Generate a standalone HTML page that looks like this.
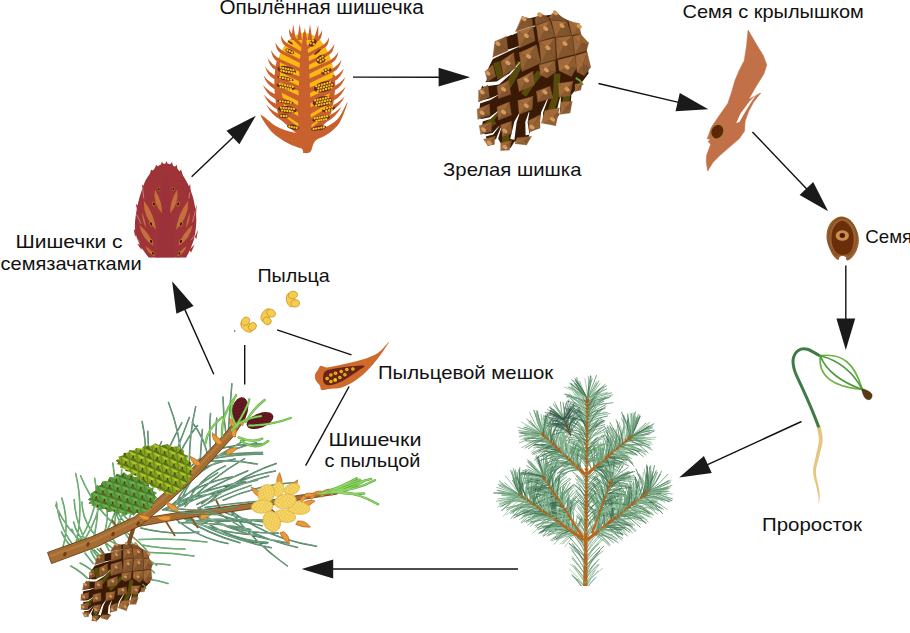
<!DOCTYPE html>
<html><head><meta charset="utf-8"><title>Pine life cycle</title>
<style>
html,body{margin:0;padding:0;background:#fff;}
body{width:910px;height:633px;overflow:hidden;font-family:"Liberation Sans",sans-serif;}
svg{display:block}
text{font-family:"Liberation Sans",sans-serif;fill:#111;}
</style></head><body>
<svg width="910" height="633" viewBox="0 0 910 633">
<rect width="910" height="633" fill="#fff"/>
<g><path d="M165.9,163.7 C168.8,163.7 171.5,164.2 174.6,166.5 C177.6,168.7 181.3,172.9 184.1,177.3 C186.9,181.6 189.6,187.4 191.4,192.4 C193.3,197.4 194.3,202.4 195.1,207.2 C195.9,212.0 196.4,216.2 196.3,221.1 C196.2,226.0 195.6,232.1 194.6,236.7 C193.6,241.4 191.8,245.6 190.4,248.9 C189.0,252.2 187.6,255.1 186.2,256.6 C184.9,258.0 185.5,257.4 182.4,257.6 C179.3,257.8 172.5,257.6 167.6,257.6 C162.7,257.6 155.9,257.7 152.8,257.6 C149.7,257.5 150.7,258.4 149.0,256.9 C147.3,255.5 144.5,252.3 142.4,248.9 C140.3,245.6 137.7,240.8 136.5,236.7 C135.2,232.7 134.8,229.5 134.9,224.6 C135.0,219.6 136.0,213.0 137.2,207.2 C138.3,201.4 140.2,194.7 141.9,189.8 C143.6,184.9 144.7,181.5 147.3,177.6 C149.8,173.7 154.1,168.8 157.2,166.5 C160.3,164.2 163.0,163.7 165.9,163.7Z" fill="#9E3438"/><path d="M159.8,168.0 L161.9,161.6 L165.0,166.5Z" fill="#9E3438"/><path d="M164.0,166.5 L166.4,161.3 L169.2,166.5Z" fill="#9E3438"/><path d="M168.1,166.8 L172.0,162.0 L173.7,168.6Z" fill="#9E3438"/><path d="M172.8,168.9 L176.8,164.7 L178.0,172.4Z" fill="#9E3438"/><path d="M152.8,172.4 L156.3,164.7 L159.8,168.9Z" fill="#9E3438"/><path d="M149.3,175.9 L151.1,169.8 L154.6,171.5Z" fill="#9E3438"/><path d="M178.9,172.4 L181.0,169.6 L183.3,176.7Z" fill="#9E3438"/><path d="M142.4,191.5 L142.0,184.6 L145.5,188.0Z" fill="#9E3438"/><path d="M137.5,212.4 L135.8,203.7 L139.8,207.2Z" fill="#9E3438"/><path d="M135.1,236.7 L133.7,228.9 L137.2,232.4Z" fill="#9E3438"/><path d="M141.5,249.8 L137.2,243.7 L142.4,245.4Z" fill="#9E3438"/><path d="M148.5,257.6 L145.5,252.4 L151.1,255.0Z" fill="#9E3438"/><path d="M187.6,189.8 L190.2,183.7 L190.7,192.4Z" fill="#9E3438"/><path d="M194.2,212.4 L196.7,204.6 L196.0,215.0Z" fill="#9E3438"/><path d="M194.9,236.7 L198.0,229.8 L196.3,239.3Z" fill="#9E3438"/><path d="M189.3,249.8 L194.6,244.6 L191.1,252.4Z" fill="#9E3438"/><path d="M184.1,257.3 L188.0,252.4 L186.2,257.6Z" fill="#9E3438"/><path d="M165.9,170.7 Q170.6,189.8 171.6,224.6 L174.6,257.4 L157.2,257.4 L159.8,224.6 Q160.7,189.8 165.9,170.7Z" fill="#99313a" opacity="0.6"/><path d="M154.9,189.4 Q152.6,202.0 161.9,213.3 Q162.6,202.1 154.9,189.4Z" fill="#C4703E"/><path d="M143.8,200.6 Q143.2,217.1 156.0,230.1 Q154.8,215.3 143.8,200.6Z" fill="#C4703E"/><path d="M139.6,224.9 Q141.2,238.0 153.7,245.8 Q150.7,234.6 139.6,224.9Z" fill="#C4703E"/><path d="M145.5,246.1 Q147.1,253.0 154.9,256.2 Q152.5,251.1 145.5,246.1Z" fill="#C4703E"/><path d="M142.4,212.4 Q141.8,219.7 145.9,228.0 Q145.8,221.8 142.4,212.4Z" fill="#C4703E"/><ellipse cx="158.9" cy="188.9" rx="1.22" ry="1.74" fill="#D08A22" transform="rotate(-20 158.9 188.9)"/><ellipse cx="158.9" cy="188.9" rx="0.75" ry="1.22" fill="#2c0d05" transform="rotate(-20 158.9 188.9)"/><ellipse cx="153.9" cy="204.0" rx="1.57" ry="2.43" fill="#D08A22" transform="rotate(-20 153.9 204.0)"/><ellipse cx="153.9" cy="204.0" rx="0.97" ry="1.70" fill="#2c0d05" transform="rotate(-20 153.9 204.0)"/><ellipse cx="151.1" cy="224.0" rx="1.57" ry="2.61" fill="#D08A22" transform="rotate(-20 151.1 224.0)"/><ellipse cx="151.1" cy="224.0" rx="0.97" ry="1.83" fill="#2c0d05" transform="rotate(-20 151.1 224.0)"/><ellipse cx="151.1" cy="241.3" rx="1.57" ry="2.43" fill="#D08A22" transform="rotate(-20 151.1 241.3)"/><ellipse cx="151.1" cy="241.3" rx="0.97" ry="1.70" fill="#2c0d05" transform="rotate(-20 151.1 241.3)"/><ellipse cx="152.8" cy="253.4" rx="1.39" ry="1.91" fill="#D08A22" transform="rotate(-20 152.8 253.4)"/><ellipse cx="152.8" cy="253.4" rx="0.86" ry="1.34" fill="#2c0d05" transform="rotate(-20 152.8 253.4)"/><path d="M177.2,189.4 Q179.5,202.0 170.2,213.3 Q169.5,202.1 177.2,189.4Z" fill="#C4703E"/><path d="M188.3,200.6 Q188.9,217.1 176.1,230.1 Q177.3,215.3 188.3,200.6Z" fill="#C4703E"/><path d="M192.5,224.9 Q190.9,238.0 178.4,245.8 Q181.4,234.6 192.5,224.9Z" fill="#C4703E"/><path d="M186.6,246.1 Q184.9,253.0 177.2,256.2 Q179.6,251.1 186.6,246.1Z" fill="#C4703E"/><path d="M189.7,212.4 Q190.3,219.7 186.2,228.0 Q186.2,221.8 189.7,212.4Z" fill="#C4703E"/><ellipse cx="173.2" cy="188.9" rx="1.22" ry="1.74" fill="#D08A22" transform="rotate(20 173.2 188.9)"/><ellipse cx="173.2" cy="188.9" rx="0.75" ry="1.22" fill="#2c0d05" transform="rotate(20 173.2 188.9)"/><ellipse cx="178.2" cy="204.0" rx="1.57" ry="2.43" fill="#D08A22" transform="rotate(20 178.2 204.0)"/><ellipse cx="178.2" cy="204.0" rx="0.97" ry="1.70" fill="#2c0d05" transform="rotate(20 178.2 204.0)"/><ellipse cx="181.0" cy="224.0" rx="1.57" ry="2.61" fill="#D08A22" transform="rotate(20 181.0 224.0)"/><ellipse cx="181.0" cy="224.0" rx="0.97" ry="1.83" fill="#2c0d05" transform="rotate(20 181.0 224.0)"/><ellipse cx="181.0" cy="241.3" rx="1.57" ry="2.43" fill="#D08A22" transform="rotate(20 181.0 241.3)"/><ellipse cx="181.0" cy="241.3" rx="0.97" ry="1.70" fill="#2c0d05" transform="rotate(20 181.0 241.3)"/><ellipse cx="179.3" cy="253.4" rx="1.39" ry="1.91" fill="#D08A22" transform="rotate(20 179.3 253.4)"/><ellipse cx="179.3" cy="253.4" rx="0.86" ry="1.34" fill="#2c0d05" transform="rotate(20 179.3 253.4)"/><line x1="142.4" y1="186.3" x2="143.8" y2="198.5" stroke="#e9c9c6" stroke-width="0.5"/><line x1="136.5" y1="214.1" x2="141.0" y2="223.7" stroke="#e9c9c6" stroke-width="0.5"/><line x1="135.4" y1="236.7" x2="139.8" y2="242.0" stroke="#e9c9c6" stroke-width="0.5"/><line x1="189.7" y1="192.4" x2="189.0" y2="198.5" stroke="#e9c9c6" stroke-width="0.5"/><line x1="195.4" y1="210.7" x2="192.5" y2="222.0" stroke="#e9c9c6" stroke-width="0.5"/><line x1="196.3" y1="233.3" x2="191.1" y2="240.2" stroke="#e9c9c6" stroke-width="0.5"/></g>
<g><ellipse cx="304.5" cy="83" rx="30" ry="50" fill="#FDB913"/><path d="M301.8,48.0 L291.9,38.4 Q288.8,36.4 289.0,28.4 Q290.8,33.9 294.7,36.7 L301.8,44.0Z" fill="#C8612D"/><path d="M301.8,55.8 L284.8,45.4 Q281.2,43.4 280.9,35.1 Q283.2,40.9 287.6,43.7 L301.8,51.8Z" fill="#C8612D"/><path d="M301.8,64.0 L280.3,52.9 Q276.2,50.8 275.3,42.3 Q278.2,48.3 283.1,51.1 L301.8,60.0Z" fill="#C8612D"/><path d="M301.8,72.8 L277.1,61.0 Q272.4,58.7 270.9,49.9 Q274.4,56.2 279.9,59.0 L301.8,68.7Z" fill="#C8612D"/><path d="M301.8,82.4 L275.0,69.6 Q269.6,67.0 267.6,58.0 Q271.6,64.5 277.8,67.3 L301.8,77.6Z" fill="#C8612D"/><path d="M301.8,92.5 L273.8,78.8 Q267.8,75.8 265.0,66.4 Q269.8,73.3 276.6,76.1 L301.8,87.0Z" fill="#C8612D"/><path d="M301.8,103.1 L273.5,88.4 Q266.8,85.0 263.4,75.3 Q268.8,82.5 276.3,85.3 L301.8,96.9Z" fill="#C8612D"/><path d="M301.8,114.2 L274.4,98.5 Q267.0,94.7 262.8,84.7 Q269.0,92.2 277.2,95.0 L301.8,107.3Z" fill="#C8612D"/><path d="M301.8,125.8 L276.6,109.0 Q268.5,104.8 263.6,94.5 Q270.5,102.3 279.4,105.1 L301.8,118.2Z" fill="#C8612D"/><path d="M301.8,138.0 L280.9,120.1 Q271.9,115.4 266.2,104.7 Q273.9,112.9 283.7,115.7 L301.8,129.5Z" fill="#C8612D"/><path d="M306.8,50.0 L319.0,40.2 Q322.2,38.2 322.1,30.1 Q320.2,35.7 316.2,38.5 L306.8,46.0Z" fill="#C8612D"/><path d="M306.8,57.8 L325.1,47.3 Q328.8,45.2 329.2,36.9 Q326.8,42.7 322.3,45.5 L306.8,53.8Z" fill="#C8612D"/><path d="M306.8,66.0 L329.1,54.8 Q333.4,52.6 334.4,44.0 Q331.4,50.1 326.3,52.9 L306.8,62.0Z" fill="#C8612D"/><path d="M306.8,74.9 L332.0,62.8 Q336.9,60.5 338.5,51.6 Q334.9,58.0 329.2,60.8 L306.8,70.6Z" fill="#C8612D"/><path d="M306.8,84.5 L334.0,71.5 Q339.4,68.8 341.6,59.7 Q337.4,66.3 331.2,69.1 L306.8,79.5Z" fill="#C8612D"/><path d="M306.8,94.6 L335.0,80.7 Q341.1,77.6 344.0,68.2 Q339.1,75.1 332.2,77.9 L306.8,88.9Z" fill="#C8612D"/><path d="M306.8,105.2 L335.0,90.3 Q341.8,86.8 345.4,77.1 Q339.8,84.3 332.2,87.1 L306.8,98.8Z" fill="#C8612D"/><path d="M306.8,116.3 L333.9,100.4 Q341.5,96.5 345.8,86.4 Q339.5,94.0 331.1,96.8 L306.8,109.2Z" fill="#C8612D"/><path d="M306.8,127.9 L331.4,110.9 Q339.7,106.6 344.8,96.2 Q337.7,104.1 328.6,106.9 L306.8,120.1Z" fill="#C8612D"/><path d="M306.8,140.1 L326.7,121.9 Q335.8,117.2 341.7,106.5 Q333.8,114.7 323.9,117.5 L306.8,131.4Z" fill="#C8612D"/><path d="M291.2,40 L293.2,24.2 L295.8,40Z" fill="#C8612D"/><path d="M297.2,40 L299.8,23.8 L301.8,40Z" fill="#C8612D"/><path d="M302.7,40 L304.8,28.0 L307.3,40Z" fill="#C8612D"/><path d="M307.7,40 L310.0,24.2 L312.3,40Z" fill="#C8612D"/><path d="M313.7,40 L318.3,25.0 L318.3,40Z" fill="#C8612D"/><path d="M303.5,32 L300.1,58 L298.1,105 L298.3,125 Q298.8,140 302.1,148 Q302.8,153.5 306.8,153.3 Q309.8,152.5 310.8,149 Q311.3,142 313.3,138 L310.8,122 L310.5,105 L308.8,58 L305.1,32Z" fill="#C8612D"/><path d="M277.3,58 Q270.8,85 278.9,118 L287.9,122 Q279.1,92 279.8,58Z" fill="#C8612D"/><path d="M334.9,75 Q336.4,95 330.8,114 L321.7,122 Q329.9,98 332.9,75Z" fill="#C8612D"/><path d="M260.7,114.8 C259.9,115.7 266.8,126.6 271.3,131.4 C275.9,136.1 282.7,140.3 287.9,143.2 C293.1,146.2 300.0,147.6 302.6,149.1 C305.2,150.7 302.0,152.3 303.3,152.7 C304.6,153.1 308.5,153.7 310.4,151.8 C312.4,149.8 312.2,143.9 315.2,140.9 C318.1,137.9 324.1,136.9 328.2,133.7 C332.3,130.6 336.8,127.2 340.0,121.9 C343.3,116.6 348.0,102.2 347.6,101.8 C347.2,101.3 342.1,114.4 337.7,119.1 C333.3,123.7 326.4,127.1 321.1,129.5 C315.8,131.8 310.4,132.8 305.7,133.3 C300.9,133.7 297.6,133.5 292.7,132.3 C287.7,131.1 281.4,129.1 276.1,126.2 C270.7,123.2 261.5,113.9 260.7,114.8Z" fill="#C8612D"/><g transform="translate(286.7 70.2) rotate(12)"><ellipse rx="9.5" ry="4.0" fill="#6B2A1F"/><circle cx="-6.5" cy="-1.4" r="1.15" fill="#F6C81A"/><circle cx="-3.9" cy="-1.4" r="1.15" fill="#F6C81A"/><circle cx="-1.3" cy="-1.4" r="1.15" fill="#F6C81A"/><circle cx="1.3" cy="-1.4" r="1.15" fill="#F6C81A"/><circle cx="3.9" cy="-1.4" r="1.15" fill="#F6C81A"/><circle cx="6.5" cy="-1.4" r="1.15" fill="#F6C81A"/><circle cx="-5.2" cy="1.4" r="1.15" fill="#F6C81A"/><circle cx="-2.6" cy="1.4" r="1.15" fill="#F6C81A"/><circle cx="0.0" cy="1.4" r="1.15" fill="#F6C81A"/><circle cx="2.6" cy="1.4" r="1.15" fill="#F6C81A"/><circle cx="5.2" cy="1.4" r="1.15" fill="#F6C81A"/><circle cx="7.8" cy="1.4" r="1.15" fill="#F6C81A"/></g><g transform="translate(285.5 78.5) rotate(12)"><ellipse rx="8.5" ry="1.7" fill="#6B2A1F"/><circle cx="-5.6" cy="0.0" r="1.15" fill="#F6C81A"/><circle cx="-2.8" cy="0.0" r="1.15" fill="#F6C81A"/><circle cx="0.0" cy="0.0" r="1.15" fill="#F6C81A"/><circle cx="2.8" cy="0.0" r="1.15" fill="#F6C81A"/><circle cx="5.6" cy="0.0" r="1.15" fill="#F6C81A"/></g><g transform="translate(286.0 86.8) rotate(12)"><ellipse rx="9.7" ry="2.6" fill="#6B2A1F"/><circle cx="-6.6" cy="-1.4" r="1.15" fill="#F6C81A"/><circle cx="-4.0" cy="-1.4" r="1.15" fill="#F6C81A"/><circle cx="-1.3" cy="-1.4" r="1.15" fill="#F6C81A"/><circle cx="1.3" cy="-1.4" r="1.15" fill="#F6C81A"/><circle cx="4.0" cy="-1.4" r="1.15" fill="#F6C81A"/><circle cx="6.6" cy="-1.4" r="1.15" fill="#F6C81A"/><circle cx="-5.3" cy="1.4" r="1.15" fill="#F6C81A"/><circle cx="-2.7" cy="1.4" r="1.15" fill="#F6C81A"/><circle cx="0.0" cy="1.4" r="1.15" fill="#F6C81A"/><circle cx="2.7" cy="1.4" r="1.15" fill="#F6C81A"/><circle cx="5.3" cy="1.4" r="1.15" fill="#F6C81A"/></g><g transform="translate(285.5 101.8) rotate(8)"><ellipse rx="8.3" ry="1.7" fill="#6B2A1F"/><circle cx="-5.4" cy="0.0" r="1.15" fill="#F6C81A"/><circle cx="-2.7" cy="0.0" r="1.15" fill="#F6C81A"/><circle cx="0.0" cy="0.0" r="1.15" fill="#F6C81A"/><circle cx="2.7" cy="0.0" r="1.15" fill="#F6C81A"/><circle cx="5.4" cy="0.0" r="1.15" fill="#F6C81A"/></g><g transform="translate(287.4 109.6) rotate(6)"><ellipse rx="9.5" ry="3.6" fill="#6B2A1F"/><circle cx="-6.5" cy="-1.4" r="1.15" fill="#F6C81A"/><circle cx="-3.9" cy="-1.4" r="1.15" fill="#F6C81A"/><circle cx="-1.3" cy="-1.4" r="1.15" fill="#F6C81A"/><circle cx="1.3" cy="-1.4" r="1.15" fill="#F6C81A"/><circle cx="3.9" cy="-1.4" r="1.15" fill="#F6C81A"/><circle cx="6.5" cy="-1.4" r="1.15" fill="#F6C81A"/><circle cx="-5.2" cy="1.4" r="1.15" fill="#F6C81A"/><circle cx="-2.6" cy="1.4" r="1.15" fill="#F6C81A"/><circle cx="0.0" cy="1.4" r="1.15" fill="#F6C81A"/><circle cx="2.6" cy="1.4" r="1.15" fill="#F6C81A"/><circle cx="5.2" cy="1.4" r="1.15" fill="#F6C81A"/></g><g transform="translate(283.9 116.0) rotate(5)"><ellipse rx="4.7" ry="2.1" fill="#6B2A1F"/><circle cx="-2.6" cy="0.0" r="1.15" fill="#F6C81A"/><circle cx="0.0" cy="0.0" r="1.15" fill="#F6C81A"/><circle cx="2.6" cy="0.0" r="1.15" fill="#F6C81A"/></g><g transform="translate(293.1 127.1) rotate(10)"><ellipse rx="6.2" ry="2.4" fill="#6B2A1F"/><circle cx="-3.8" cy="0.0" r="1.15" fill="#F6C81A"/><circle cx="-1.3" cy="0.0" r="1.15" fill="#F6C81A"/><circle cx="1.3" cy="0.0" r="1.15" fill="#F6C81A"/><circle cx="3.8" cy="0.0" r="1.15" fill="#F6C81A"/></g><g transform="translate(289.8 51.3) rotate(25)"><ellipse rx="4.7" ry="2.1" fill="#6B2A1F"/><circle cx="-2.6" cy="0.0" r="1.15" fill="#F6C81A"/><circle cx="0.0" cy="0.0" r="1.15" fill="#F6C81A"/><circle cx="2.6" cy="0.0" r="1.15" fill="#F6C81A"/></g><g transform="translate(290.3 42.5) rotate(35)"><ellipse rx="3.1" ry="0.9" fill="#6B2A1F"/></g><g transform="translate(323.9 86.8) rotate(-15)"><ellipse rx="10.4" ry="5.2" fill="#6B2A1F"/><circle cx="-7.1" cy="-2.7" r="1.15" fill="#F6C81A"/><circle cx="-4.3" cy="-2.7" r="1.15" fill="#F6C81A"/><circle cx="-1.4" cy="-2.7" r="1.15" fill="#F6C81A"/><circle cx="1.4" cy="-2.7" r="1.15" fill="#F6C81A"/><circle cx="4.3" cy="-2.7" r="1.15" fill="#F6C81A"/><circle cx="7.1" cy="-2.7" r="1.15" fill="#F6C81A"/><circle cx="-5.7" cy="0.0" r="1.15" fill="#F6C81A"/><circle cx="-2.8" cy="0.0" r="1.15" fill="#F6C81A"/><circle cx="0.0" cy="0.0" r="1.15" fill="#F6C81A"/><circle cx="2.8" cy="0.0" r="1.15" fill="#F6C81A"/><circle cx="5.7" cy="0.0" r="1.15" fill="#F6C81A"/><circle cx="8.5" cy="0.0" r="1.15" fill="#F6C81A"/><circle cx="-7.1" cy="2.7" r="1.15" fill="#F6C81A"/><circle cx="-4.3" cy="2.7" r="1.15" fill="#F6C81A"/><circle cx="-1.4" cy="2.7" r="1.15" fill="#F6C81A"/><circle cx="1.4" cy="2.7" r="1.15" fill="#F6C81A"/><circle cx="4.3" cy="2.7" r="1.15" fill="#F6C81A"/><circle cx="7.1" cy="2.7" r="1.15" fill="#F6C81A"/></g><g transform="translate(322.3 101.5) rotate(-12)"><ellipse rx="10.0" ry="5.2" fill="#6B2A1F"/><circle cx="-6.8" cy="-2.7" r="1.15" fill="#F6C81A"/><circle cx="-4.1" cy="-2.7" r="1.15" fill="#F6C81A"/><circle cx="-1.4" cy="-2.7" r="1.15" fill="#F6C81A"/><circle cx="1.4" cy="-2.7" r="1.15" fill="#F6C81A"/><circle cx="4.1" cy="-2.7" r="1.15" fill="#F6C81A"/><circle cx="6.8" cy="-2.7" r="1.15" fill="#F6C81A"/><circle cx="-5.4" cy="0.0" r="1.15" fill="#F6C81A"/><circle cx="-2.7" cy="0.0" r="1.15" fill="#F6C81A"/><circle cx="0.0" cy="0.0" r="1.15" fill="#F6C81A"/><circle cx="2.7" cy="0.0" r="1.15" fill="#F6C81A"/><circle cx="5.4" cy="0.0" r="1.15" fill="#F6C81A"/><circle cx="8.2" cy="0.0" r="1.15" fill="#F6C81A"/><circle cx="-6.8" cy="2.7" r="1.15" fill="#F6C81A"/><circle cx="-4.1" cy="2.7" r="1.15" fill="#F6C81A"/><circle cx="-1.4" cy="2.7" r="1.15" fill="#F6C81A"/><circle cx="1.4" cy="2.7" r="1.15" fill="#F6C81A"/><circle cx="4.1" cy="2.7" r="1.15" fill="#F6C81A"/><circle cx="6.8" cy="2.7" r="1.15" fill="#F6C81A"/></g><g transform="translate(328.7 109.1) rotate(-15)"><ellipse rx="6.9" ry="2.6" fill="#6B2A1F"/><circle cx="-4.2" cy="-1.4" r="1.15" fill="#F6C81A"/><circle cx="-1.4" cy="-1.4" r="1.15" fill="#F6C81A"/><circle cx="1.4" cy="-1.4" r="1.15" fill="#F6C81A"/><circle cx="4.2" cy="-1.4" r="1.15" fill="#F6C81A"/><circle cx="-2.8" cy="1.4" r="1.15" fill="#F6C81A"/><circle cx="0.0" cy="1.4" r="1.15" fill="#F6C81A"/><circle cx="2.8" cy="1.4" r="1.15" fill="#F6C81A"/></g><g transform="translate(321.1 118.6) rotate(-10)"><ellipse rx="9.0" ry="2.8" fill="#6B2A1F"/><circle cx="-6.2" cy="-1.4" r="1.15" fill="#F6C81A"/><circle cx="-3.7" cy="-1.4" r="1.15" fill="#F6C81A"/><circle cx="-1.2" cy="-1.4" r="1.15" fill="#F6C81A"/><circle cx="1.2" cy="-1.4" r="1.15" fill="#F6C81A"/><circle cx="3.7" cy="-1.4" r="1.15" fill="#F6C81A"/><circle cx="6.2" cy="-1.4" r="1.15" fill="#F6C81A"/><circle cx="-4.9" cy="1.4" r="1.15" fill="#F6C81A"/><circle cx="-2.5" cy="1.4" r="1.15" fill="#F6C81A"/><circle cx="0.0" cy="1.4" r="1.15" fill="#F6C81A"/><circle cx="2.5" cy="1.4" r="1.15" fill="#F6C81A"/><circle cx="4.9" cy="1.4" r="1.15" fill="#F6C81A"/></g><g transform="translate(318.7 128.1) rotate(-10)"><ellipse rx="7.8" ry="2.4" fill="#6B2A1F"/><circle cx="-5.1" cy="0.0" r="1.15" fill="#F6C81A"/><circle cx="-2.6" cy="0.0" r="1.15" fill="#F6C81A"/><circle cx="0.0" cy="0.0" r="1.15" fill="#F6C81A"/><circle cx="2.6" cy="0.0" r="1.15" fill="#F6C81A"/><circle cx="5.1" cy="0.0" r="1.15" fill="#F6C81A"/></g><g transform="translate(321.1 59.3) rotate(-35)"><ellipse rx="5.2" ry="4.0" fill="#6B2A1F"/><circle cx="-2.8" cy="-1.4" r="1.15" fill="#F6C81A"/><circle cx="0.0" cy="-1.4" r="1.15" fill="#F6C81A"/><circle cx="2.8" cy="-1.4" r="1.15" fill="#F6C81A"/><circle cx="-1.4" cy="1.4" r="1.15" fill="#F6C81A"/><circle cx="1.4" cy="1.4" r="1.15" fill="#F6C81A"/><circle cx="4.3" cy="1.4" r="1.15" fill="#F6C81A"/></g><g transform="translate(326.3 71.2) rotate(-25)"><ellipse rx="5.5" ry="2.8" fill="#6B2A1F"/><circle cx="-3.0" cy="-1.4" r="1.15" fill="#F6C81A"/><circle cx="0.0" cy="-1.4" r="1.15" fill="#F6C81A"/><circle cx="3.0" cy="-1.4" r="1.15" fill="#F6C81A"/><circle cx="-1.5" cy="1.4" r="1.15" fill="#F6C81A"/><circle cx="1.5" cy="1.4" r="1.15" fill="#F6C81A"/></g><g transform="translate(312.8 43.0) rotate(-45)"><ellipse rx="4.3" ry="2.8" fill="#6B2A1F"/><circle cx="-1.7" cy="-1.4" r="1.15" fill="#F6C81A"/><circle cx="1.7" cy="-1.4" r="1.15" fill="#F6C81A"/><circle cx="0.0" cy="1.4" r="1.15" fill="#F6C81A"/></g><g transform="translate(317.5 52.0) rotate(-40)"><ellipse rx="4.3" ry="0.9" fill="#6B2A1F"/></g></g>
<g><path d="M522.0,20.2 L535.9,16.7 L554.9,14.2 L571.3,21.8 L578.1,27.3 L586.5,47.1 L588.5,73.4 L580.4,84.2 L571.3,94.9 L570.8,108.8 L561.2,111.3 L554.9,121.4 L543.5,121.4 L530.8,129.0 L528.3,138.6 L514.4,141.7 L510.6,148.0 L503.0,146.7 L497.9,138.6 L487.8,141.7 L485.3,135.3 L481.5,129.0 L482.8,121.4 L479.0,116.4 L480.2,101.2 L481.5,87.3 L486.6,80.4 L488.3,68.3 L494.2,56.2 L494.9,41.7 L515.1,33.4Z" fill="#3B1A05"/><polyline points="557.1,73.6 556.4,93.6 550.7,112.1" fill="none" stroke="#574B0B" stroke-width="6.5" stroke-linejoin="round"/><polyline points="567.1,92.1 565.7,105.0" fill="none" stroke="#574B0B" stroke-width="7.0" stroke-linejoin="round"/><polyline points="496.4,62.1 498.6,70.7 500.7,78.6" fill="none" stroke="#574B0B" stroke-width="6.5" stroke-linejoin="round"/><polyline points="520.7,62.1 514.3,75.0 507.9,86.4" fill="none" stroke="#574B0B" stroke-width="6.5" stroke-linejoin="round"/><polyline points="540.0,72.1 531.4,83.6 523.6,95.0" fill="none" stroke="#574B0B" stroke-width="6.0" stroke-linejoin="round"/><polyline points="505.7,132.1 505.7,145.0" fill="none" stroke="#574B0B" stroke-width="7.0" stroke-linejoin="round"/><polyline points="499.3,111.4 491.4,120.0 485.0,125.7" fill="none" stroke="#574B0B" stroke-width="4.0" stroke-linejoin="round"/><polyline points="495.0,121.4 490.0,125.0" fill="none" stroke="#574B0B" stroke-width="5.0" stroke-linejoin="round"/><polyline points="575.7,77.9 580.0,80.7 582.9,85.0" fill="none" stroke="#5FA33A" stroke-width="2.0" stroke-linejoin="round"/><polygon points="511.9,35.0 527.4,28.8 535.5,26.2 535.3,25.5 526.9,27.0 510.9,32.2" fill="#fff"/><polygon points="489.2,60.7 507.5,51.9 519.4,46.4 519.2,45.9 506.8,50.1 487.9,57.8" fill="#fff"/><polygon points="483.0,86.7 499.0,84.4 510.5,74.4 520.5,62.1 520.1,61.7 509.5,73.3 498.1,82.1 482.7,83.3" fill="#fff"/><polygon points="483.7,85.4 497.5,83.3 507.9,74.6 507.6,74.2 496.8,81.6 483.4,82.3" fill="#fff"/><polygon points="475.4,105.0 490.3,100.1 497.9,95.5 497.8,95.1 489.7,98.5 474.6,102.1" fill="#fff"/><polygon points="475.4,123.7 490.4,119.0 498.7,111.2 498.4,110.8 489.6,117.3 474.6,120.6" fill="#fff"/><polygon points="478.2,138.6 493.2,134.6 499.4,126.3 499.1,126.0 492.5,133.1 477.5,135.7" fill="#fff"/><polygon points="496.1,149.7 498.7,136.7 501.4,127.4 500.9,127.2 497.0,136.2 493.0,148.9" fill="#fff"/><polygon points="514.4,139.7 516.6,122.5 519.6,113.7 519.0,113.4 514.3,121.8 510.2,138.9" fill="#fff"/><polygon points="529.6,134.8 527.6,122.2 529.4,112.2 528.9,112.1 525.3,122.1 525.6,135.2" fill="#fff"/><polygon points="542.6,126.6 543.1,112.4 548.8,96.8 548.3,96.6 541.2,111.9 539.1,126.3" fill="#fff"/><polygon points="559.7,113.8 560.7,102.3 560.8,97.2 560.3,97.1 558.8,102.0 556.3,113.3" fill="#fff"/><polygon points="573.2,101.6 573.4,93.6 572.9,93.5 570.8,101.2" fill="#fff"/><path d="M524.0,18.9 L515.7,31.4 L522.1,16.4Z" fill="#936034" stroke="#936034" stroke-width="0.4"/><path d="M524.0,18.9 L522.1,16.4 L532.1,19.3Z" fill="#895a31" stroke="#895a31" stroke-width="0.4"/><path d="M524.0,18.9 L532.1,19.3 L532.6,25.7Z" fill="#7f532d" stroke="#7f532d" stroke-width="0.4"/><path d="M524.0,18.9 L532.6,25.7 L515.7,31.4Z" fill="#84562f" stroke="#84562f" stroke-width="0.4"/><ellipse cx="524.0" cy="18.9" rx="2.9" ry="1.9" fill="#D39A60" transform="rotate(35 524.0 18.9)"/><path d="M539.7,14.7 L535.0,19.3 L540.0,12.9Z" fill="#986336" stroke="#986336" stroke-width="0.4"/><path d="M539.7,14.7 L540.0,12.9 L548.6,17.9Z" fill="#82552e" stroke="#82552e" stroke-width="0.4"/><path d="M539.7,14.7 L548.6,17.9 L549.3,20.0Z" fill="#7f532d" stroke="#7f532d" stroke-width="0.4"/><path d="M539.7,14.7 L549.3,20.0 L536.0,25.0Z" fill="#80542d" stroke="#80542d" stroke-width="0.4"/><path d="M539.7,14.7 L536.0,25.0 L535.0,19.3Z" fill="#8d5c32" stroke="#8d5c32" stroke-width="0.4"/><ellipse cx="539.7" cy="14.7" rx="2.9" ry="1.9" fill="#D39A60" transform="rotate(35 539.7 14.7)"/><path d="M555.4,12.9 L549.3,17.1 L555.0,10.7Z" fill="#9c6637" stroke="#9c6637" stroke-width="0.4"/><path d="M555.4,12.9 L555.0,10.7 L563.6,19.3Z" fill="#7f532d" stroke="#7f532d" stroke-width="0.4"/><path d="M555.4,12.9 L563.6,19.3 L567.9,21.4Z" fill="#7e532d" stroke="#7e532d" stroke-width="0.4"/><path d="M555.4,12.9 L567.9,21.4 L550.7,19.6Z" fill="#7f532d" stroke="#7f532d" stroke-width="0.4"/><path d="M555.4,12.9 L550.7,19.6 L549.3,17.1Z" fill="#936034" stroke="#936034" stroke-width="0.4"/><ellipse cx="555.4" cy="12.9" rx="2.9" ry="1.9" fill="#D39A60" transform="rotate(35 555.4 12.9)"/><path d="M579.3,26.4 L568.6,21.0 L579.3,23.6Z" fill="#a76e3b" stroke="#a76e3b" stroke-width="0.4"/><path d="M579.3,26.4 L579.3,23.6 L580.3,33.6Z" fill="#81552e" stroke="#81552e" stroke-width="0.4"/><path d="M579.3,26.4 L580.3,33.6 L572.1,35.3Z" fill="#8a5b31" stroke="#8a5b31" stroke-width="0.4"/><path d="M579.3,26.4 L572.1,35.3 L568.6,21.0Z" fill="#9e6838" stroke="#9e6838" stroke-width="0.4"/><ellipse cx="579.3" cy="26.4" rx="2.9" ry="1.9" fill="#D39A60" transform="rotate(35 579.3 26.4)"/><path d="M526.4,35.7 L517.1,31.4 L532.9,26.4Z" fill="#a46c3a" stroke="#a46c3a" stroke-width="0.4"/><path d="M526.4,35.7 L532.9,26.4 L535.0,40.7Z" fill="#895930" stroke="#895930" stroke-width="0.4"/><path d="M526.4,35.7 L535.0,40.7 L519.3,47.9Z" fill="#83562e" stroke="#83562e" stroke-width="0.4"/><path d="M526.4,35.7 L519.3,47.9 L517.1,31.4Z" fill="#9a6536" stroke="#9a6536" stroke-width="0.4"/><ellipse cx="526.4" cy="35.7" rx="2.9" ry="1.9" fill="#D39A60" transform="rotate(35 526.4 35.7)"/><path d="M545.7,28.6 L536.4,25.7 L550.0,20.4Z" fill="#a66d3b" stroke="#a66d3b" stroke-width="0.4"/><path d="M545.7,28.6 L550.0,20.4 L555.0,36.4Z" fill="#84572f" stroke="#84572f" stroke-width="0.4"/><path d="M545.7,28.6 L555.0,36.4 L538.6,41.4Z" fill="#83562e" stroke="#83562e" stroke-width="0.4"/><path d="M545.7,28.6 L538.6,41.4 L536.4,25.7Z" fill="#986336" stroke="#986336" stroke-width="0.4"/><ellipse cx="545.7" cy="28.6" rx="2.9" ry="1.9" fill="#D39A60" transform="rotate(35 545.7 28.6)"/><path d="M562.1,25.7 L551.4,20.4 L567.1,22.1Z" fill="#a76d3b" stroke="#a76d3b" stroke-width="0.4"/><path d="M562.1,25.7 L567.1,22.1 L571.4,35.0Z" fill="#80542d" stroke="#80542d" stroke-width="0.4"/><path d="M562.1,25.7 L571.4,35.0 L555.7,37.1Z" fill="#82552e" stroke="#82552e" stroke-width="0.4"/><path d="M562.1,25.7 L555.7,37.1 L551.4,20.4Z" fill="#9c6637" stroke="#9c6637" stroke-width="0.4"/><ellipse cx="562.1" cy="25.7" rx="2.9" ry="1.9" fill="#D39A60" transform="rotate(35 562.1 25.7)"/><path d="M528.6,56.4 L519.3,52.9 L536.4,45.0Z" fill="#a36b3a" stroke="#a36b3a" stroke-width="0.4"/><path d="M528.6,56.4 L536.4,45.0 L540.7,62.9Z" fill="#885930" stroke="#885930" stroke-width="0.4"/><path d="M528.6,56.4 L540.7,62.9 L522.1,71.4Z" fill="#81542e" stroke="#81542e" stroke-width="0.4"/><path d="M528.6,56.4 L522.1,71.4 L519.3,52.9Z" fill="#966235" stroke="#966235" stroke-width="0.4"/><ellipse cx="528.6" cy="56.4" rx="2.9" ry="1.9" fill="#D39A60" transform="rotate(35 528.6 56.4)"/><path d="M547.9,47.9 L539.3,42.1 L555.0,37.9Z" fill="#a36b3a" stroke="#a36b3a" stroke-width="0.4"/><path d="M547.9,47.9 L555.0,37.9 L555.7,59.3Z" fill="#83562e" stroke="#83562e" stroke-width="0.4"/><path d="M547.9,47.9 L555.7,59.3 L541.4,63.6Z" fill="#83562e" stroke="#83562e" stroke-width="0.4"/><path d="M547.9,47.9 L541.4,63.6 L539.3,42.1Z" fill="#976335" stroke="#976335" stroke-width="0.4"/><ellipse cx="547.9" cy="47.9" rx="2.9" ry="1.9" fill="#D39A60" transform="rotate(35 547.9 47.9)"/><path d="M565.0,43.6 L556.0,37.9 L572.1,35.7Z" fill="#a36b3a" stroke="#a36b3a" stroke-width="0.4"/><path d="M565.0,43.6 L572.1,35.7 L574.3,54.3Z" fill="#82552e" stroke="#82552e" stroke-width="0.4"/><path d="M565.0,43.6 L574.3,54.3 L557.1,58.6Z" fill="#83562e" stroke="#83562e" stroke-width="0.4"/><path d="M565.0,43.6 L557.1,58.6 L556.0,37.9Z" fill="#986436" stroke="#986436" stroke-width="0.4"/><ellipse cx="565.0" cy="43.6" rx="2.9" ry="1.9" fill="#D39A60" transform="rotate(35 565.0 43.6)"/><path d="M580.7,43.7 L572.9,36.4 L580.7,34.3Z" fill="#a66d3b" stroke="#a66d3b" stroke-width="0.4"/><path d="M580.7,43.7 L580.7,34.3 L588.6,42.9Z" fill="#956235" stroke="#956235" stroke-width="0.4"/><path d="M580.7,43.7 L588.6,42.9 L586.4,50.7Z" fill="#7f532d" stroke="#7f532d" stroke-width="0.4"/><path d="M580.7,43.7 L586.4,50.7 L575.0,54.3Z" fill="#84562f" stroke="#84562f" stroke-width="0.4"/><path d="M580.7,43.7 L575.0,54.3 L572.9,36.4Z" fill="#9e6738" stroke="#9e6738" stroke-width="0.4"/><path d="M546.4,70.0 L539.3,65.0 L555.0,60.7Z" fill="#a06939" stroke="#a06939" stroke-width="0.4"/><path d="M546.4,70.0 L555.0,60.7 L555.7,72.1Z" fill="#8b5b31" stroke="#8b5b31" stroke-width="0.4"/><path d="M546.4,70.0 L555.7,72.1 L547.1,77.9Z" fill="#7e522d" stroke="#7e522d" stroke-width="0.4"/><path d="M546.4,70.0 L547.1,77.9 L540.7,75.0Z" fill="#8a5b31" stroke="#8a5b31" stroke-width="0.4"/><path d="M546.4,70.0 L540.7,75.0 L539.3,65.0Z" fill="#a16a39" stroke="#a16a39" stroke-width="0.4"/><ellipse cx="546.4" cy="70.0" rx="2.9" ry="1.9" fill="#D39A60" transform="rotate(35 546.4 70.0)"/><path d="M567.1,67.1 L557.9,60.0 L575.0,55.7Z" fill="#a26a3a" stroke="#a26a3a" stroke-width="0.4"/><path d="M567.1,67.1 L575.0,55.7 L576.4,67.9Z" fill="#8e5d32" stroke="#8e5d32" stroke-width="0.4"/><path d="M567.1,67.1 L576.4,67.9 L571.4,76.4Z" fill="#7e532d" stroke="#7e532d" stroke-width="0.4"/><path d="M567.1,67.1 L571.4,76.4 L559.3,70.7Z" fill="#885930" stroke="#885930" stroke-width="0.4"/><path d="M567.1,67.1 L559.3,70.7 L557.9,60.0Z" fill="#a46c3a" stroke="#a46c3a" stroke-width="0.4"/><ellipse cx="567.1" cy="67.1" rx="2.9" ry="1.9" fill="#D39A60" transform="rotate(35 567.1 67.1)"/><path d="M583.0,64.6 L575.7,55.7 L587.1,52.1Z" fill="#a36b3a" stroke="#a36b3a" stroke-width="0.4"/><path d="M583.0,64.6 L587.1,52.1 L590.7,67.1Z" fill="#915f33" stroke="#915f33" stroke-width="0.4"/><path d="M583.0,64.6 L590.7,67.1 L584.3,75.7Z" fill="#7e532d" stroke="#7e532d" stroke-width="0.4"/><path d="M583.0,64.6 L584.3,75.7 L577.1,72.1Z" fill="#885930" stroke="#885930" stroke-width="0.4"/><path d="M583.0,64.6 L577.1,72.1 L575.7,55.7Z" fill="#a36b3a" stroke="#a36b3a" stroke-width="0.4"/><path d="M497.9,43.6 L495.0,41.4 L506.4,36.4Z" fill="#986336" stroke="#986336" stroke-width="0.4"/><path d="M497.9,43.6 L506.4,36.4 L507.9,50.7Z" fill="#84562f" stroke="#84562f" stroke-width="0.4"/><path d="M497.9,43.6 L507.9,50.7 L492.9,57.1Z" fill="#81542e" stroke="#81542e" stroke-width="0.4"/><path d="M497.9,43.6 L492.9,57.1 L495.0,41.4Z" fill="#8f5e33" stroke="#8f5e33" stroke-width="0.4"/><ellipse cx="497.9" cy="43.6" rx="2.9" ry="1.9" fill="#D39A60" transform="rotate(35 497.9 43.6)"/><path d="M507.9,62.9 L500.7,61.4 L513.6,52.9Z" fill="#a36b3a" stroke="#a36b3a" stroke-width="0.4"/><path d="M507.9,62.9 L513.6,52.9 L515.7,67.9Z" fill="#8a5a31" stroke="#8a5a31" stroke-width="0.4"/><path d="M507.9,62.9 L515.7,67.9 L503.6,75.7Z" fill="#81552e" stroke="#81552e" stroke-width="0.4"/><path d="M507.9,62.9 L503.6,75.7 L500.7,61.4Z" fill="#936034" stroke="#936034" stroke-width="0.4"/><ellipse cx="507.9" cy="62.9" rx="2.9" ry="1.9" fill="#D39A60" transform="rotate(35 507.9 62.9)"/><path d="M487.9,73.3 L485.0,71.4 L492.9,65.0Z" fill="#9e6838" stroke="#9e6838" stroke-width="0.4"/><path d="M487.9,73.3 L492.9,65.0 L495.7,76.4Z" fill="#8b5b31" stroke="#8b5b31" stroke-width="0.4"/><path d="M487.9,73.3 L495.7,76.4 L487.9,81.4Z" fill="#7e532d" stroke="#7e532d" stroke-width="0.4"/><path d="M487.9,73.3 L487.9,81.4 L485.0,71.4Z" fill="#8b5b31" stroke="#8b5b31" stroke-width="0.4"/><ellipse cx="487.9" cy="73.3" rx="2.9" ry="1.9" fill="#D39A60" transform="rotate(35 487.9 73.3)"/><path d="M482.1,92.1 L478.6,90.7 L487.9,85.0Z" fill="#9d6738" stroke="#9d6738" stroke-width="0.4"/><path d="M482.1,92.1 L487.9,85.0 L489.3,97.1Z" fill="#875830" stroke="#875830" stroke-width="0.4"/><path d="M482.1,92.1 L489.3,97.1 L478.6,101.9Z" fill="#81542e" stroke="#81542e" stroke-width="0.4"/><path d="M482.1,92.1 L478.6,101.9 L478.6,90.7Z" fill="#915f33" stroke="#915f33" stroke-width="0.4"/><ellipse cx="482.1" cy="92.1" rx="2.9" ry="1.9" fill="#D39A60" transform="rotate(35 482.1 92.1)"/><path d="M503.6,89.3 L497.1,86.4 L508.6,80.7Z" fill="#a36b3a" stroke="#a36b3a" stroke-width="0.4"/><path d="M503.6,89.3 L508.6,80.7 L510.7,94.3Z" fill="#895a30" stroke="#895a30" stroke-width="0.4"/><path d="M503.6,89.3 L510.7,94.3 L498.6,98.6Z" fill="#82552e" stroke="#82552e" stroke-width="0.4"/><path d="M503.6,89.3 L498.6,98.6 L497.1,86.4Z" fill="#986436" stroke="#986436" stroke-width="0.4"/><ellipse cx="503.6" cy="89.3" rx="2.9" ry="1.9" fill="#D39A60" transform="rotate(35 503.6 89.3)"/><path d="M526.4,80.0 L517.1,80.0 L532.9,71.4Z" fill="#a56c3b" stroke="#a56c3b" stroke-width="0.4"/><path d="M526.4,80.0 L532.9,71.4 L534.3,85.0Z" fill="#885930" stroke="#885930" stroke-width="0.4"/><path d="M526.4,80.0 L534.3,85.0 L519.3,91.4Z" fill="#83562e" stroke="#83562e" stroke-width="0.4"/><path d="M526.4,80.0 L519.3,91.4 L517.1,80.0Z" fill="#966335" stroke="#966335" stroke-width="0.4"/><ellipse cx="526.4" cy="80.0" rx="2.9" ry="1.9" fill="#D39A60" transform="rotate(35 526.4 80.0)"/><path d="M545.0,92.1 L536.4,91.4 L550.0,86.4Z" fill="#a76d3b" stroke="#a76d3b" stroke-width="0.4"/><path d="M545.0,92.1 L550.0,86.4 L552.9,97.9Z" fill="#84562f" stroke="#84562f" stroke-width="0.4"/><path d="M545.0,92.1 L552.9,97.9 L537.9,102.1Z" fill="#83562e" stroke="#83562e" stroke-width="0.4"/><path d="M545.0,92.1 L537.9,102.1 L536.4,91.4Z" fill="#986336" stroke="#986336" stroke-width="0.4"/><ellipse cx="545.0" cy="92.1" rx="2.9" ry="1.9" fill="#D39A60" transform="rotate(35 545.0 92.1)"/><path d="M567.1,89.3 L558.6,83.6 L572.9,81.4Z" fill="#a46c3a" stroke="#a46c3a" stroke-width="0.4"/><path d="M567.1,89.3 L572.9,81.4 L570.0,95.7Z" fill="#875830" stroke="#875830" stroke-width="0.4"/><path d="M567.1,89.3 L570.0,95.7 L559.3,97.1Z" fill="#8a5a31" stroke="#8a5a31" stroke-width="0.4"/><path d="M567.1,89.3 L559.3,97.1 L558.6,83.6Z" fill="#9f6838" stroke="#9f6838" stroke-width="0.4"/><ellipse cx="567.1" cy="89.3" rx="2.9" ry="1.9" fill="#D39A60" transform="rotate(35 567.1 89.3)"/><path d="M578.2,87.1 L575.0,84.3 L582.1,82.9Z" fill="#a06939" stroke="#a06939" stroke-width="0.4"/><path d="M578.2,87.1 L582.1,82.9 L580.7,90.0Z" fill="#885930" stroke="#885930" stroke-width="0.4"/><path d="M578.2,87.1 L580.7,90.0 L575.0,91.4Z" fill="#86572f" stroke="#86572f" stroke-width="0.4"/><path d="M578.2,87.1 L575.0,91.4 L575.0,84.3Z" fill="#9e6738" stroke="#9e6738" stroke-width="0.4"/><path d="M482.1,112.9 L477.1,109.3 L489.3,104.3Z" fill="#9f6838" stroke="#9f6838" stroke-width="0.4"/><path d="M482.1,112.9 L489.3,104.3 L490.0,115.0Z" fill="#8b5b31" stroke="#8b5b31" stroke-width="0.4"/><path d="M482.1,112.9 L490.0,115.0 L477.9,119.3Z" fill="#7f532d" stroke="#7f532d" stroke-width="0.4"/><path d="M482.1,112.9 L477.9,119.3 L477.1,109.3Z" fill="#9c6637" stroke="#9c6637" stroke-width="0.4"/><ellipse cx="482.1" cy="112.9" rx="2.9" ry="1.9" fill="#D39A60" transform="rotate(35 482.1 112.9)"/><path d="M503.6,112.1 L497.1,107.1 L509.3,102.1Z" fill="#a26a39" stroke="#a26a39" stroke-width="0.4"/><path d="M503.6,112.1 L509.3,102.1 L511.4,115.0Z" fill="#8d5c32" stroke="#8d5c32" stroke-width="0.4"/><path d="M503.6,112.1 L511.4,115.0 L498.6,120.0Z" fill="#81542e" stroke="#81542e" stroke-width="0.4"/><path d="M503.6,112.1 L498.6,120.0 L497.1,107.1Z" fill="#9d6738" stroke="#9d6738" stroke-width="0.4"/><ellipse cx="503.6" cy="112.1" rx="2.9" ry="1.9" fill="#D39A60" transform="rotate(35 503.6 112.1)"/><path d="M526.4,105.7 L517.9,100.7 L532.9,96.4Z" fill="#a36b3a" stroke="#a36b3a" stroke-width="0.4"/><path d="M526.4,105.7 L532.9,96.4 L532.1,109.3Z" fill="#8c5b31" stroke="#8c5b31" stroke-width="0.4"/><path d="M526.4,105.7 L532.1,109.3 L519.3,114.3Z" fill="#86582f" stroke="#86582f" stroke-width="0.4"/><path d="M526.4,105.7 L519.3,114.3 L517.9,100.7Z" fill="#9e6738" stroke="#9e6738" stroke-width="0.4"/><ellipse cx="526.4" cy="105.7" rx="2.9" ry="1.9" fill="#D39A60" transform="rotate(35 526.4 105.7)"/><path d="M483.6,129.6 L479.3,125.7 L491.4,122.1Z" fill="#9c6637" stroke="#9c6637" stroke-width="0.4"/><path d="M483.6,129.6 L491.4,122.1 L491.4,131.4Z" fill="#8a5a31" stroke="#8a5a31" stroke-width="0.4"/><path d="M483.6,129.6 L491.4,131.4 L480.7,134.3Z" fill="#7e532d" stroke="#7e532d" stroke-width="0.4"/><path d="M483.6,129.6 L480.7,134.3 L479.3,125.7Z" fill="#a06939" stroke="#a06939" stroke-width="0.4"/><ellipse cx="483.6" cy="129.6" rx="2.9" ry="1.9" fill="#D39A60" transform="rotate(35 483.6 129.6)"/><path d="M505.0,131.0 L500.7,125.0 L511.4,121.4Z" fill="#9f6838" stroke="#9f6838" stroke-width="0.4"/><path d="M505.0,131.0 L511.4,121.4 L511.4,133.6Z" fill="#8d5c32" stroke="#8d5c32" stroke-width="0.4"/><path d="M505.0,131.0 L511.4,133.6 L502.9,136.4Z" fill="#7f532d" stroke="#7f532d" stroke-width="0.4"/><path d="M505.0,131.0 L502.9,136.4 L500.7,125.0Z" fill="#a36b3a" stroke="#a36b3a" stroke-width="0.4"/><ellipse cx="505.0" cy="131.0" rx="2.9" ry="1.9" fill="#D39A60" transform="rotate(35 505.0 131.0)"/><path d="M532.1,127.1 L528.6,120.7 L540.0,115.0Z" fill="#9e6738" stroke="#9e6738" stroke-width="0.4"/><path d="M532.1,127.1 L540.0,115.0 L540.0,127.9Z" fill="#8f5e33" stroke="#8f5e33" stroke-width="0.4"/><path d="M532.1,127.1 L540.0,127.9 L529.3,132.1Z" fill="#7e522d" stroke="#7e522d" stroke-width="0.4"/><path d="M532.1,127.1 L529.3,132.1 L528.6,120.7Z" fill="#a46c3a" stroke="#a46c3a" stroke-width="0.4"/><ellipse cx="532.1" cy="127.1" rx="2.9" ry="1.9" fill="#D39A60" transform="rotate(35 532.1 127.1)"/><path d="M552.6,119.3 L545.0,110.7 L559.3,107.9Z" fill="#a26a39" stroke="#a26a39" stroke-width="0.4"/><path d="M552.6,119.3 L559.3,107.9 L555.7,125.7Z" fill="#8c5c32" stroke="#8c5c32" stroke-width="0.4"/><path d="M552.6,119.3 L555.7,125.7 L541.4,122.9Z" fill="#905f33" stroke="#905f33" stroke-width="0.4"/><path d="M552.6,119.3 L541.4,122.9 L545.0,110.7Z" fill="#a56c3a" stroke="#a56c3a" stroke-width="0.4"/><ellipse cx="552.6" cy="119.3" rx="2.9" ry="1.9" fill="#D39A60" transform="rotate(35 552.6 119.3)"/><path d="M565.9,107.7 L561.4,102.1 L572.1,101.4Z" fill="#9f6838" stroke="#9f6838" stroke-width="0.4"/><path d="M565.9,107.7 L572.1,101.4 L570.0,112.9Z" fill="#86572f" stroke="#86572f" stroke-width="0.4"/><path d="M565.9,107.7 L570.0,112.9 L560.0,114.3Z" fill="#865830" stroke="#865830" stroke-width="0.4"/><path d="M565.9,107.7 L560.0,114.3 L561.4,102.1Z" fill="#a06939" stroke="#a06939" stroke-width="0.4"/><path d="M489.3,142.9 L483.6,139.3 L495.0,136.4Z" fill="#a16a39" stroke="#a16a39" stroke-width="0.4"/><path d="M489.3,142.9 L495.0,136.4 L494.3,144.3Z" fill="#8c5b31" stroke="#8c5b31" stroke-width="0.4"/><path d="M489.3,142.9 L494.3,144.3 L487.9,145.7Z" fill="#7e532d" stroke="#7e532d" stroke-width="0.4"/><path d="M489.3,142.9 L487.9,145.7 L483.6,139.3Z" fill="#a36b3a" stroke="#a36b3a" stroke-width="0.4"/><ellipse cx="489.3" cy="142.9" rx="2.9" ry="1.9" fill="#D39A60" transform="rotate(35 489.3 142.9)"/><path d="M505.0,147.1 L500.7,142.9 L511.4,140.7Z" fill="#9e6838" stroke="#9e6838" stroke-width="0.4"/><path d="M505.0,147.1 L511.4,140.7 L509.3,150.0Z" fill="#895a31" stroke="#895a31" stroke-width="0.4"/><path d="M505.0,147.1 L509.3,150.0 L500.7,150.4Z" fill="#84562f" stroke="#84562f" stroke-width="0.4"/><path d="M505.0,147.1 L500.7,150.4 L500.7,142.9Z" fill="#a36b3a" stroke="#a36b3a" stroke-width="0.4"/><ellipse cx="505.0" cy="147.1" rx="2.9" ry="1.9" fill="#D39A60" transform="rotate(35 505.0 147.1)"/><path d="M522.5,140.7 L515.0,143.6 L517.1,137.9Z" fill="#a16a39" stroke="#a16a39" stroke-width="0.4"/><path d="M522.5,140.7 L517.1,137.9 L531.4,136.4Z" fill="#996436" stroke="#996436" stroke-width="0.4"/><path d="M522.5,140.7 L531.4,136.4 L526.4,145.0Z" fill="#84562f" stroke="#84562f" stroke-width="0.4"/><path d="M522.5,140.7 L526.4,145.0 L515.0,143.6Z" fill="#8c5c32" stroke="#8c5c32" stroke-width="0.4"/></g>
<g><path d="M748.1,30.1 L756.2,44.0 L763.2,55.4 L766.8,64.9 L763.7,74.3 L756.2,86.2 L748.6,99.5 L753.1,97.0 L760.7,93.0 L753.6,102.1 L748.6,111.4 L745.1,121.0 L744.5,131.1 L739.2,138.7 L730.4,146.3 L720.3,155.1 L712.7,162.7 L707.7,171.0 L706.2,161.4 L706.7,155.1 L710.7,144.2 L708.2,141.7 L710.2,139.2 L707.2,138.7 L709.2,133.6 L712.2,126.1 L719.0,116.0 L727.9,103.3 L731.7,92.0 L734.9,80.6 L739.2,70.5 L744.3,60.4 L746.6,45.3Z" fill="#C27048" stroke="#C27048" stroke-width="0.6" stroke-linejoin="round"/><path d="M736.2,123.0 L740.5,113.4 L749.6,101.3 L756.2,94.7 L750.6,103.3 L744.0,113.9 L739.5,122.0Z" fill="#fff"/><ellipse cx="717.3" cy="131.6" rx="7.3" ry="8.5" fill="#B07A46" transform="rotate(25 717.3 131.6)"/><ellipse cx="717.3" cy="131.6" rx="5.8" ry="7.0" fill="#5E2506" transform="rotate(25 717.3 131.6)"/></g>
<g><path d="M842.3,216.5 C844.3,216.8 846.9,217.7 849.0,219.2 C851.0,220.7 853.0,223.0 854.5,225.5 C856.0,228.0 857.4,231.5 858.1,234.2 C858.8,237.0 859.0,239.5 858.8,242.1 C858.6,244.8 857.8,247.7 856.9,250.0 C855.9,252.4 854.4,254.6 852.9,256.4 C851.5,258.1 849.3,259.8 848.2,260.3 C847.1,260.8 846.5,260.0 846.1,259.5 C845.7,259.0 846.4,257.7 845.8,257.1 C845.2,256.6 843.4,256.0 842.3,256.0 C841.3,256.0 840.1,256.5 839.5,257.1 C838.9,257.8 839.4,259.6 838.7,259.8 C838.0,260.0 836.7,259.4 835.5,258.2 C834.4,257.1 832.8,255.4 831.6,253.2 C830.4,251.0 829.0,247.9 828.1,245.3 C827.3,242.7 826.6,240.2 826.5,237.4 C826.5,234.6 826.8,231.3 827.6,228.7 C828.5,226.1 830.0,223.4 831.6,221.6 C833.2,219.8 835.3,218.5 837.1,217.6 C838.9,216.8 840.4,216.3 842.3,216.5Z" fill="#9A6030"/><path d="M842.3,220.8 C844.3,220.8 846.5,222.3 848.2,224.0 C849.9,225.7 851.5,228.3 852.4,231.1 C853.4,233.8 853.8,237.5 853.7,240.6 C853.6,243.6 852.9,247.0 851.8,249.2 C850.8,251.5 849.0,253.1 847.4,254.0 C845.8,254.9 844.0,254.8 842.3,254.8 C840.7,254.7 839.1,254.6 837.6,253.5 C836.1,252.5 834.5,250.6 833.5,248.5 C832.5,246.3 831.8,243.4 831.6,240.6 C831.4,237.7 831.6,233.8 832.4,231.1 C833.2,228.3 834.7,225.7 836.3,224.0 C838.0,222.3 840.4,220.8 842.3,220.8Z" fill="#6A2E0B"/><circle cx="856.5" cy="237.5" r="0.9" fill="#7f4a1e"/><circle cx="856.4" cy="240.3" r="0.9" fill="#7f4a1e"/><circle cx="856.0" cy="243.0" r="0.9" fill="#7f4a1e"/><circle cx="855.3" cy="245.6" r="0.9" fill="#7f4a1e"/><circle cx="854.3" cy="248.1" r="0.9" fill="#7f4a1e"/><circle cx="853.1" cy="250.3" r="0.9" fill="#7f4a1e"/><circle cx="851.7" cy="252.3" r="0.9" fill="#7f4a1e"/><circle cx="850.1" cy="254.0" r="0.9" fill="#7f4a1e"/><circle cx="848.4" cy="255.3" r="0.9" fill="#7f4a1e"/><circle cx="836.8" cy="255.3" r="0.9" fill="#7f4a1e"/><circle cx="835.1" cy="254.0" r="0.9" fill="#7f4a1e"/><circle cx="833.5" cy="252.3" r="0.9" fill="#7f4a1e"/><circle cx="832.1" cy="250.3" r="0.9" fill="#7f4a1e"/><circle cx="830.9" cy="248.1" r="0.9" fill="#7f4a1e"/><circle cx="829.9" cy="245.6" r="0.9" fill="#7f4a1e"/><circle cx="829.2" cy="243.0" r="0.9" fill="#7f4a1e"/><circle cx="828.8" cy="240.3" r="0.9" fill="#7f4a1e"/><circle cx="828.7" cy="237.5" r="0.9" fill="#7f4a1e"/><circle cx="828.8" cy="234.7" r="0.9" fill="#7f4a1e"/><circle cx="829.2" cy="232.0" r="0.9" fill="#7f4a1e"/><circle cx="829.9" cy="229.4" r="0.9" fill="#7f4a1e"/><circle cx="830.9" cy="226.9" r="0.9" fill="#7f4a1e"/><circle cx="832.1" cy="224.7" r="0.9" fill="#7f4a1e"/><circle cx="833.5" cy="222.7" r="0.9" fill="#7f4a1e"/><circle cx="835.1" cy="221.0" r="0.9" fill="#7f4a1e"/><circle cx="836.8" cy="219.7" r="0.9" fill="#7f4a1e"/><circle cx="838.7" cy="218.7" r="0.9" fill="#7f4a1e"/><circle cx="840.6" cy="218.1" r="0.9" fill="#7f4a1e"/><circle cx="842.6" cy="217.9" r="0.9" fill="#7f4a1e"/><circle cx="844.6" cy="218.1" r="0.9" fill="#7f4a1e"/><circle cx="846.5" cy="218.7" r="0.9" fill="#7f4a1e"/><circle cx="848.4" cy="219.7" r="0.9" fill="#7f4a1e"/><circle cx="850.1" cy="221.0" r="0.9" fill="#7f4a1e"/><circle cx="851.7" cy="222.7" r="0.9" fill="#7f4a1e"/><circle cx="853.1" cy="224.7" r="0.9" fill="#7f4a1e"/><circle cx="854.3" cy="226.9" r="0.9" fill="#7f4a1e"/><circle cx="855.3" cy="229.4" r="0.9" fill="#7f4a1e"/><circle cx="856.0" cy="232.0" r="0.9" fill="#7f4a1e"/><circle cx="856.4" cy="234.7" r="0.9" fill="#7f4a1e"/><ellipse cx="842.3" cy="235.5" rx="6.6" ry="5.3" fill="#CB8D4F"/><ellipse cx="842.3" cy="235.5" rx="2.7" ry="2.4" fill="#4A1C04"/></g>
<g><path d="M816.4,425.4 L816.9,428.0 L817.8,431.7 L818.6,435.9 L818.9,440.0 L818.5,443.9 L817.7,447.8 L816.8,451.8 L815.9,455.8 L815.0,459.8 L814.1,463.7 L813.3,467.7 L813.1,471.6 L813.5,475.7 L814.5,479.9 L815.7,483.9 L816.6,487.4 L817.2,490.4 L817.8,492.9 L818.3,495.2 L818.6,497.3 L818.7,499.2 L818.5,501.0 L818.4,502.5 L818.3,503.6 L818.6,503.6 L818.9,502.5 L819.3,501.0 L819.7,499.2 L819.8,497.3 L819.8,495.2 L819.5,492.9 L819.2,490.4 L818.7,487.4 L818.0,483.9 L817.0,479.9 L816.2,475.7 L815.9,471.6 L816.3,467.7 L817.2,463.7 L818.4,459.8 L819.4,455.8 L820.3,451.8 L821.4,447.8 L822.3,443.9 L822.7,440.0 L822.5,435.9 L821.8,431.7 L821.0,428.0 L820.5,425.4Z" fill="#E6C67E"/><path d="M818.4,426.2 C817.2,423.2 814.0,414.7 811.3,408.4 C808.7,402.2 805.4,394.9 802.6,388.7 C799.9,382.4 796.3,375.9 794.7,370.9 C793.2,366.0 792.6,362.5 793.2,359.1 C793.8,355.7 795.9,352.0 798.3,350.4 C800.7,348.8 803.9,348.4 807.4,349.2 C810.9,350.1 817.2,354.5 819.2,355.5" fill="none" stroke="#3E7B47" stroke-width="3.0" stroke-linecap="round"/><path d="M820.3,355.7 C842.8,352.8 854.6,363.4 862.3,389.5" fill="none" stroke="#6DB344" stroke-width="1.7" stroke-linecap="round"/><path d="M820.3,355.7 C817.9,375.9 832.1,386.5 862.3,389.5" fill="none" stroke="#6DB344" stroke-width="1.7" stroke-linecap="round"/><path d="M820.3,355.7 C836.9,359.9 852.3,370.5 862.3,389.5" fill="none" stroke="#4E9A3E" stroke-width="1.7" stroke-linecap="round"/><path d="M820.3,355.7 C825.6,370.5 841.6,382.4 862.3,389.5" fill="none" stroke="#4E9A3E" stroke-width="1.7" stroke-linecap="round"/><path d="M862.1,389.3 C862.7,388.3 866.1,389.9 867.7,390.7 C869.3,391.5 871.2,393.0 871.8,394.2 C872.4,395.5 871.9,397.5 871.2,398.4 C870.5,399.3 868.9,399.9 867.7,399.6 C866.5,399.3 865.1,398.3 864.1,396.6 C863.2,394.9 861.5,390.3 862.1,389.3Z" fill="#5B3A12" stroke="#3a2208" stroke-width="0.5"/></g>
<g><g transform="translate(292.2 299.6) rotate(-11)"><ellipse cx="-1.6" cy="0" rx="4.2" ry="7.0" fill="#F7CC4C" stroke="#C9992E" stroke-width="0.8"/><ellipse cx="1.6" cy="-4.4" rx="4.6" ry="3.7" fill="#F7CC4C" stroke="#C9992E" stroke-width="0.8"/><ellipse cx="2.3" cy="4.3" rx="4.3" ry="3.6" fill="#F7CC4C" stroke="#C9992E" stroke-width="0.8"/></g><g transform="translate(267.4 316.0) rotate(32)"><ellipse cx="-1.6" cy="0" rx="4.2" ry="7.0" fill="#F7CC4C" stroke="#C9992E" stroke-width="0.8"/><ellipse cx="1.6" cy="-4.4" rx="4.6" ry="3.7" fill="#F7CC4C" stroke="#C9992E" stroke-width="0.8"/><ellipse cx="2.3" cy="4.3" rx="4.3" ry="3.6" fill="#F7CC4C" stroke="#C9992E" stroke-width="0.8"/></g><g transform="translate(247.7 325.4) rotate(-48)"><ellipse cx="-1.6" cy="0" rx="4.2" ry="7.0" fill="#F7CC4C" stroke="#C9992E" stroke-width="0.8"/><ellipse cx="1.6" cy="-4.4" rx="4.6" ry="3.7" fill="#F7CC4C" stroke="#C9992E" stroke-width="0.8"/><ellipse cx="2.3" cy="4.3" rx="4.3" ry="3.6" fill="#F7CC4C" stroke="#C9992E" stroke-width="0.8"/></g><circle cx="234.8" cy="331" r="0.7" fill="#333"/></g>
<g><path d="M388.8,342.0 C387.8,342.4 382.3,350.2 377.6,353.2 C372.9,356.2 366.7,358.2 360.8,360.1 C354.9,362.0 347.7,363.4 342.1,364.6 C336.5,365.8 330.7,367.2 327.1,367.4 C323.6,367.6 322.2,365.5 320.6,365.9 C319.0,366.3 318.7,368.5 317.8,370.0 C316.9,371.5 315.3,372.9 315.0,374.7 C314.7,376.4 315.1,378.8 315.9,380.6 C316.8,382.5 319.1,384.3 320.0,385.9 C321.0,387.4 320.0,389.5 321.5,390.0 C323.0,390.5 326.1,389.2 329.0,388.9 C332.0,388.6 335.9,388.9 339.3,388.1 C342.7,387.3 346.0,385.9 349.6,384.0 C353.1,382.1 356.9,379.8 360.8,376.5 C364.7,373.3 369.1,368.8 372.9,364.4 C376.7,360.0 380.9,354.1 383.6,350.4 C386.2,346.6 389.8,341.5 388.8,342.0Z" fill="#CD6A2C"/><path d="M323.4,375.0 C324.0,373.0 324.0,371.5 327.1,370.2 C330.3,368.9 336.0,368.1 342.1,367.4 C348.2,366.6 361.0,365.2 363.8,365.7 C366.6,366.2 361.3,368.4 358.9,370.2 C356.5,372.0 352.7,374.5 349.6,376.5 C346.4,378.5 343.6,380.7 340.2,382.1 C336.8,383.6 331.7,385.3 329.0,385.3 C326.3,385.4 324.7,384.2 323.8,382.5 C322.8,380.8 322.8,377.1 323.4,375.0Z" fill="#6A2318"/><circle cx="327.1" cy="378.4" r="1.75" fill="#F6C81A"/><circle cx="327.1" cy="378.4" r="0.7" fill="#B8741A"/><circle cx="330.9" cy="375.0" r="1.75" fill="#F6C81A"/><circle cx="330.9" cy="375.0" r="0.7" fill="#B8741A"/><circle cx="335.5" cy="373.2" r="1.75" fill="#F6C81A"/><circle cx="335.5" cy="373.2" r="0.7" fill="#B8741A"/><circle cx="341.2" cy="371.5" r="1.75" fill="#F6C81A"/><circle cx="341.2" cy="371.5" r="0.7" fill="#B8741A"/><circle cx="346.8" cy="369.4" r="1.75" fill="#F6C81A"/><circle cx="346.8" cy="369.4" r="0.7" fill="#B8741A"/><circle cx="352.9" cy="369.1" r="1.75" fill="#F6C81A"/><circle cx="352.9" cy="369.1" r="0.7" fill="#B8741A"/><circle cx="330.9" cy="381.4" r="1.75" fill="#F6C81A"/><circle cx="330.9" cy="381.4" r="0.7" fill="#B8741A"/><circle cx="339.8" cy="377.5" r="1.75" fill="#F6C81A"/><circle cx="339.8" cy="377.5" r="0.7" fill="#B8741A"/><circle cx="344.9" cy="374.7" r="1.75" fill="#F6C81A"/><circle cx="344.9" cy="374.7" r="0.7" fill="#B8741A"/><circle cx="335.2" cy="379.9" r="1.9" fill="#F6C81A"/></g>
<clipPath id="treeclip"><rect x="480" y="370" width="220" height="216"/></clipPath><g clip-path="url(#treeclip)"><path d="M586.3,466.4Q592.9,458.6 601.8,453.4M586.4,463.3Q590.6,456.3 596.5,450.8M586.4,461.8Q581.4,454.7 573.9,450.5M586.4,461.8Q581.0,455.2 574.1,450.1M586.4,461.8Q594.4,458.5 602.9,457.6M586.4,461.8Q594.7,459.6 603.3,459.5M586.4,460.2Q584.4,452.2 579.4,445.5M586.4,460.2Q579.2,451.8 569.9,445.6M586.5,458.7Q584.9,450.5 579.1,444.5M586.5,458.7Q577.5,454.4 567.8,452.1M586.5,457.2Q592.9,450.6 600.7,445.7M586.5,457.2Q589.8,448.8 594.6,441.1M586.5,455.6Q583.8,444.6 577.5,435.3M586.5,455.6Q582.8,446.7 578.0,438.5M586.5,454.1Q590.6,447.1 596.5,441.4M586.5,452.5Q596.4,446.9 607.1,443.2M586.6,451.0Q577.2,448.7 567.6,447.7M586.6,451.0Q594.9,449.1 603.4,448.6M586.6,449.4Q595.3,441.8 605.0,435.5M586.6,447.9Q584.6,437.9 579.2,429.1M586.6,447.9Q595.1,444.2 604.4,444.3M586.7,441.7Q581.8,433.3 574.2,427.1M586.7,441.7Q580.0,435.3 572.2,430.3M586.7,440.2Q576.2,435.1 565.0,432.2M586.7,440.2Q575.4,437.6 563.9,436.6M586.7,438.6Q583.7,428.7 577.1,420.6M586.7,438.6Q588.8,429.9 595.0,423.4M586.8,437.1Q578.5,432.9 569.4,431.4M586.8,435.6Q594.5,427.5 603.1,420.4M586.8,434.0Q595.0,429.1 604.3,426.6M586.8,432.5Q594.7,425.9 604.2,421.9M586.8,430.9Q584.0,421.5 578.8,413.1M586.8,430.9Q595.1,426.0 604.7,424.7M586.8,430.9Q590.4,419.6 598.0,410.6M586.9,429.4Q579.5,424.2 571.0,421.5M586.9,429.4Q595.0,423.2 604.8,420.5M586.9,427.8Q581.7,418.0 573.5,410.5M586.9,426.3Q584.8,417.1 578.9,409.7M586.9,426.3Q592.7,417.0 601.4,410.3M586.9,424.7Q589.8,415.0 596.2,407.2M587.0,423.2Q575.5,418.0 563.0,417.4M587.0,423.2Q582.1,413.8 573.6,407.4M587.0,420.1Q580.8,411.3 572.9,404.2M587.0,420.1Q595.2,411.6 605.8,406.6M587.0,417.0Q596.8,413.3 607.2,412.6M587.1,415.5Q596.3,409.4 606.1,404.5M587.1,413.9Q590.3,403.6 596.1,394.6M587.1,410.9Q594.6,404.5 603.9,401.2M587.1,409.3Q578.2,403.3 567.7,401.2M587.2,407.8Q582.1,399.1 575.2,391.8M587.2,407.8Q592.5,398.9 600.4,392.4M587.2,407.8Q599.7,403.3 613.0,402.7M587.2,406.2Q576.8,399.5 565.7,394.2M587.2,406.2Q592.9,396.1 601.1,387.8M587.2,406.2Q598.6,400.2 610.9,396.4M587.2,404.7Q596.0,399.8 605.8,397.4M587.2,403.1Q580.1,395.1 572.0,388.1M587.2,403.1Q576.6,396.7 564.5,394.1M587.2,403.1Q594.4,392.2 605.0,384.4M587.2,403.1Q597.6,398.2 609.0,397.8M587.3,401.6Q582.1,389.4 574.9,378.4M587.3,401.6Q577.4,397.3 566.7,396.3M587.3,401.6Q598.6,395.1 611.6,392.8M587.3,398.5Q579.2,390.2 570.0,383.0M587.3,398.5Q579.3,390.2 573.2,380.5M587.3,398.5Q578.9,393.3 571.3,386.9M587.3,398.5Q581.3,390.5 574.4,383.5M587.3,398.5Q592.2,387.1 596.5,375.5M587.3,398.5Q596.4,391.3 606.5,385.7M587.3,398.5Q596.9,393.8 606.5,389.0M587.3,398.5Q588.7,388.4 592.1,378.9M587.3,398.5Q594.5,390.7 598.8,381.0M587.3,398.5Q590.3,387.8 591.1,376.6M587.3,398.5Q580.3,389.5 576.1,379.0M587.3,398.5Q578.5,392.0 568.7,387.2M585.3,592.0Q579.1,582.9 572.0,574.6M585.3,587.7Q580.2,580.1 572.2,575.7M585.5,574.9Q579.3,566.1 572.0,558.3M585.6,562.1Q590.0,551.7 598.3,544.2M585.6,562.1Q592.4,554.2 599.9,547.1M585.7,553.5Q580.8,543.8 574.0,535.3M585.8,549.3Q579.9,535.7 571.0,524.0M585.8,549.3Q592.5,537.7 602.4,528.7M585.8,545.0Q579.6,533.1 571.3,522.6M585.8,545.0Q592.9,532.2 603.5,522.0M585.9,540.0Q588.4,534.6 592.4,530.2M585.9,536.5Q584.2,528.3 579.1,521.7M585.9,536.5Q588.6,530.4 594.0,526.6M585.9,536.5Q587.6,529.9 592.9,525.5M585.9,532.9Q580.7,525.6 573.2,520.6M586.0,529.4Q583.4,522.6 578.8,517.1M586.0,529.4Q589.8,523.4 595.3,518.9M586.0,525.9Q583.6,520.0 579.9,514.9M586.0,525.9Q582.5,519.4 577.2,514.3M586.0,525.9Q590.2,520.5 596.1,517.2M586.0,522.4Q591.4,515.0 599.2,510.3M586.1,515.3Q591.2,507.5 597.6,500.9M586.1,511.8Q582.1,504.2 574.7,499.9M586.1,511.8Q584.2,505.5 580.3,500.4M586.1,511.8Q588.0,504.0 593.7,498.5M586.1,511.8Q590.3,505.9 596.8,502.8M586.1,508.2Q589.6,502.4 594.3,497.4M586.1,508.2Q589.5,498.7 596.1,491.1M586.1,504.7Q583.2,496.6 576.4,491.3M586.2,501.2Q583.5,493.5 579.0,486.7M586.2,501.2Q588.7,494.4 594.8,490.5M586.2,497.6Q580.9,490.1 573.8,484.3M586.2,494.1Q583.2,486.8 576.4,482.8M586.2,494.1Q590.0,487.1 596.8,483.1M586.2,494.1Q588.5,487.4 594.3,483.4M586.2,490.6Q582.7,482.4 576.5,475.9M586.3,487.1Q582.9,480.2 576.4,476.3M586.3,487.1Q591.6,479.6 599.6,475.1M586.3,483.5Q583.3,474.8 577.2,467.9M586.3,483.5Q579.8,477.0 572.4,471.7M586.3,480.0Q591.1,471.9 597.0,464.6M586.3,480.0Q592.3,472.0 601.2,467.3M579.9,469.7Q572.2,466.2 563.8,466.7M579.9,469.7Q569.2,469.9 559.5,474.7M579.9,469.7Q580.0,461.4 582.7,453.6M578.9,468.7Q570.3,470.0 562.7,474.4M577.8,467.7Q570.5,463.2 562.0,462.8M577.8,467.7Q569.8,463.1 560.5,463.2M576.8,466.7Q567.4,467.9 559.4,473.0M576.8,466.7Q576.5,455.4 578.5,444.3M575.8,465.7Q566.2,468.6 557.3,473.3M574.7,464.7Q564.9,463.6 555.8,467.3M574.7,464.7Q564.0,460.2 552.4,459.9M574.7,464.7Q570.4,456.9 570.8,447.9M574.7,464.7Q577.3,454.1 583.1,444.8M573.7,463.8Q565.4,462.4 557.0,462.1M573.7,463.8Q572.7,453.2 576.4,443.2M572.7,462.8Q563.7,466.4 557.2,473.5M572.7,462.8Q561.5,465.7 551.6,471.4M571.6,461.8Q566.5,452.4 564.6,441.8M570.6,460.8Q559.9,456.7 548.7,454.5M570.6,460.8Q573.7,449.4 579.8,439.3M570.6,460.8Q571.7,451.8 577.1,444.5M569.5,459.8Q559.6,463.6 550.2,468.6M569.5,459.8Q566.9,451.7 566.6,443.1M567.5,457.8Q558.8,457.0 550.5,459.3M567.5,457.8Q557.4,452.1 545.8,451.2M567.5,457.8Q570.8,449.1 578.0,442.9M566.4,456.9Q558.1,454.2 549.5,453.2M565.4,455.9Q555.0,459.3 545.2,464.0M565.4,455.9Q553.9,456.4 542.9,459.7M564.4,454.9Q554.2,461.4 544.7,468.7M563.3,453.9Q554.5,449.9 545.2,447.1M563.3,453.9Q562.0,443.4 563.5,432.9M562.3,452.9Q553.2,450.3 543.9,451.6M561.3,451.9Q550.4,447.7 539.0,445.4M561.3,451.9Q559.8,442.1 562.8,432.5M560.2,450.9Q556.8,441.7 558.1,431.9M560.2,450.9Q562.4,440.0 568.8,430.8M559.2,450.0Q549.7,450.5 541.8,455.8M559.2,450.0Q563.8,439.8 571.0,431.1M557.1,448.0Q547.8,445.2 538.1,445.8M554.0,445.0Q542.8,450.7 534.5,460.1M554.0,445.0Q557.6,433.8 564.2,423.9M554.0,445.0Q549.5,436.8 546.9,427.8M553.0,444.1Q543.1,444.3 533.3,445.6M553.0,444.1Q555.9,431.6 563.0,421.0M553.0,444.1Q552.8,432.5 557.6,421.9M551.9,443.1Q548.5,430.6 549.1,417.8M551.9,443.1Q549.0,431.9 547.3,420.4M550.9,442.1Q539.9,441.1 529.0,442.2M550.9,442.1Q540.2,436.4 528.3,433.8M550.9,442.1Q549.6,430.9 552.9,420.2M549.9,441.1Q553.4,431.0 558.9,421.8M548.8,440.1Q544.5,428.8 543.9,416.7M546.7,438.1Q541.4,427.0 537.8,415.1M545.7,437.2Q536.7,442.6 528.2,448.9M545.7,437.2Q549.9,424.9 557.9,414.6M544.7,436.2Q542.9,425.2 545.9,414.5M543.6,435.2Q544.1,425.0 547.3,415.2M542.6,434.2Q530.9,434.1 519.4,436.3M542.6,434.2Q530.7,431.5 518.6,430.7M542.6,434.2Q546.1,422.1 550.8,410.5M542.6,434.2Q535.0,428.7 530.2,420.6M542.6,434.2Q533.8,430.3 524.8,427.2M542.6,434.2Q535.4,425.9 526.8,419.1M542.6,434.2Q530.7,435.2 519.1,432.9M542.6,434.2Q538.3,423.1 537.5,411.2M542.6,434.2Q533.8,437.7 524.5,439.6M542.6,434.2Q535.9,427.9 528.6,422.4M542.6,434.2Q543.9,424.8 546.1,415.5M542.6,434.2Q536.7,423.1 534.2,410.7M542.6,434.2Q540.5,422.4 536.8,410.9M591.9,469.9Q601.2,466.4 611.1,464.9M593.0,469.0Q596.9,459.0 599.0,448.5M594.1,468.1Q594.9,457.9 594.1,447.7M595.1,467.2Q603.2,465.1 611.4,466.1M596.2,466.3Q600.5,458.3 601.8,449.3M596.2,466.3Q604.7,472.4 612.4,479.5M596.2,466.3Q605.7,471.0 612.2,479.4M597.3,465.3Q597.3,456.9 595.4,448.7M597.3,465.3Q608.6,464.3 619.5,467.2M597.3,465.3Q605.3,461.9 614.0,462.8M598.4,464.4Q607.9,462.4 617.4,464.5M599.4,463.5Q598.2,454.4 592.9,446.8M599.4,463.5Q609.0,459.9 619.1,460.8M600.5,462.6Q604.0,454.2 604.8,445.1M601.6,461.7Q611.5,461.3 621.3,462.7M602.7,460.8Q602.1,452.2 598.0,444.7M602.7,460.8Q612.7,461.4 622.3,464.2M602.7,460.8Q612.6,456.9 623.2,457.1M604.8,459.0Q616.2,457.2 627.5,459.6M605.9,458.1Q610.0,450.1 612.4,441.5M605.9,458.1Q616.6,454.5 627.9,455.1M607.0,457.2Q612.0,449.0 612.7,439.5M607.0,457.2Q617.5,456.6 627.9,457.6M608.0,456.2Q613.1,448.9 615.7,440.4M608.0,456.2Q617.2,456.3 626.3,457.7M609.1,455.3Q621.0,452.7 633.1,452.0M610.2,454.4Q609.2,442.9 607.0,431.5M611.3,453.5Q612.7,444.0 613.0,434.3M612.3,452.6Q620.4,456.7 626.7,463.1M612.3,452.6Q621.8,453.1 630.1,457.5M614.5,450.8Q616.9,440.3 616.2,429.5M614.5,450.8Q626.0,451.1 636.9,455.0M614.5,450.8Q625.8,456.5 634.2,466.0M615.6,449.9Q620.9,442.1 622.0,432.8M615.6,449.9Q625.4,455.4 632.7,463.8M616.6,449.0Q625.8,454.5 632.5,462.8M617.7,448.0Q627.3,448.8 635.7,453.6M618.8,447.1Q615.0,436.8 610.1,426.9M618.8,447.1Q630.6,444.2 642.8,443.7M618.8,447.1Q629.6,448.3 640.0,451.3M619.9,446.2Q616.5,435.1 609.8,425.8M620.9,445.3Q617.3,433.0 609.9,422.5M620.9,445.3Q629.8,449.0 637.1,455.1M622.0,444.4Q618.5,435.6 612.7,428.3M622.0,444.4Q632.1,445.1 641.1,449.7M622.0,444.4Q634.1,446.7 645.3,451.8M624.2,442.6Q634.5,448.7 643.4,456.6M625.2,441.7Q628.1,430.3 627.8,418.5M625.2,441.7Q634.8,438.1 645.0,437.5M626.3,440.8Q632.7,429.4 637.3,417.2M626.3,440.8Q636.1,440.0 645.9,440.6M626.3,440.8Q638.6,443.3 650.3,447.8M627.4,439.8Q638.4,435.4 650.2,433.7M628.5,438.9Q632.2,426.6 631.5,413.7M628.5,438.9Q639.5,440.9 649.8,445.4M629.5,438.0Q635.0,428.8 636.6,418.2M630.6,437.1Q641.9,441.4 650.9,449.5M631.7,436.2Q642.7,431.8 654.3,429.9M631.7,436.2Q640.2,431.3 650.1,430.5M631.7,436.2Q635.0,425.3 639.9,415.1M631.7,436.2Q640.7,431.8 649.1,426.3M631.7,436.2Q636.4,425.6 638.3,414.3M631.7,436.2Q631.7,424.1 635.0,412.4M631.7,436.2Q631.9,426.3 635.5,417.0M631.7,436.2Q638.8,429.7 645.9,423.1M575.2,533.8Q567.8,537.5 562.7,543.9M575.2,533.8Q571.4,525.7 571.3,516.6M574.1,533.1Q564.2,534.6 555.2,539.3M574.1,533.1Q577.1,525.7 581.2,518.8M574.1,533.1Q568.4,524.9 566.7,515.0M572.0,531.5Q560.2,531.5 548.7,534.4M572.0,531.5Q572.2,523.2 573.6,514.9M570.9,530.8Q559.9,530.4 549.0,531.5M569.8,530.0Q566.8,519.3 566.9,508.2M567.6,528.5Q564.7,518.8 566.2,508.8M567.6,528.5Q569.1,516.8 575.1,506.7M566.5,527.7Q565.0,518.0 567.2,508.4M565.4,527.0Q555.3,529.6 547.1,535.9M565.4,527.0Q565.2,515.6 568.5,504.7M562.2,524.7Q552.3,529.7 543.4,536.2M562.2,524.7Q553.0,522.4 543.4,522.5M562.2,524.7Q556.9,515.2 553.6,504.8M561.1,523.9Q564.3,514.3 569.4,505.6M560.0,523.1Q559.8,513.3 561.6,503.6M558.9,522.4Q555.2,513.0 553.0,503.1M555.7,520.1Q553.5,511.2 553.0,502.0M555.7,520.1Q554.7,508.2 557.3,496.6M554.6,519.3Q544.5,521.6 534.9,525.5M554.6,519.3Q550.5,511.3 550.2,502.4M553.5,518.6Q544.5,521.6 537.8,528.2M552.4,517.8Q543.7,514.1 534.4,514.3M552.4,517.8Q551.9,505.4 553.4,493.1M551.3,517.0Q542.5,520.5 535.7,527.0M549.1,515.5Q552.2,503.9 558.2,493.4M549.1,515.5Q542.8,505.1 538.3,493.6M548.0,514.7Q549.3,504.2 552.2,494.0M547.0,514.0Q537.8,515.1 528.9,517.5M547.0,514.0Q539.6,506.0 535.6,495.9M545.9,513.2Q535.6,516.0 526.3,521.2M544.8,512.5Q535.4,514.9 527.6,520.5M543.7,511.7Q533.7,510.6 523.8,512.4M543.7,511.7Q532.7,512.7 522.6,517.0M543.7,511.7Q545.1,499.4 549.3,487.8M542.6,510.9Q532.7,512.6 523.0,515.3M540.4,509.4Q534.5,501.3 532.7,491.3M540.4,509.4Q535.3,501.5 531.2,493.0M539.4,508.6Q529.8,506.4 520.1,507.3M539.4,508.6Q539.4,498.1 540.7,487.7M539.4,508.6Q541.3,499.7 545.3,491.5M537.2,507.1Q531.0,497.5 526.6,487.0M535.0,505.6Q531.2,496.3 530.7,486.3M535.0,505.6Q528.5,494.6 525.5,482.2M533.9,504.8Q522.5,503.8 511.5,507.1M533.9,504.8Q523.9,501.4 513.3,500.6M533.9,504.8Q536.2,495.0 540.6,486.0M532.8,504.1Q519.3,503.6 506.4,507.9M532.8,504.1Q521.5,505.7 511.7,511.6M530.7,502.5Q519.6,506.2 510.5,513.4M530.7,502.5Q527.6,489.5 527.8,476.2M529.6,501.8Q516.7,499.4 503.9,502.0M529.6,501.8Q530.7,492.0 534.5,482.9M528.5,501.0Q519.2,509.3 510.9,518.5M528.5,501.0Q522.0,489.6 516.5,477.6M526.3,499.5Q517.9,504.9 512.8,513.5M525.2,498.7Q526.3,485.3 529.0,472.2M524.1,498.0Q511.6,500.3 500.6,506.7M522.0,496.4Q519.8,483.4 518.7,470.2M519.8,494.9Q510.7,499.7 502.5,505.9M519.8,494.9Q508.5,489.4 499.2,480.9M519.8,494.9Q516.6,482.6 515.4,469.9M519.8,494.9Q516.0,483.5 514.7,471.6M519.8,494.9Q509.5,488.7 498.3,484.5M519.8,494.9Q515.9,482.8 511.9,470.8M519.8,494.9Q507.1,493.7 494.4,492.9M594.4,534.2Q590.6,523.9 585.3,514.3M594.4,534.2Q602.8,538.9 609.7,545.8M594.4,534.2Q603.4,534.6 611.6,538.5M596.5,532.5Q595.9,524.2 594.0,516.1M596.5,532.5Q604.2,537.3 610.0,544.4M597.6,531.7Q606.3,536.1 613.6,542.7M597.6,531.7Q607.8,536.1 617.2,542.0M598.6,530.9Q602.2,522.9 601.2,514.2M598.6,530.9Q598.0,519.3 595.0,508.1M598.6,530.9Q608.9,532.7 617.2,538.9M599.6,530.0Q596.9,522.3 592.4,515.6M602.8,527.6Q608.9,518.1 613.7,507.9M602.8,527.6Q613.3,531.9 622.7,538.4M603.8,526.7Q602.5,516.0 597.7,506.4M603.8,526.7Q612.3,526.4 619.8,530.4M604.9,525.9Q613.6,526.6 621.6,530.2M607.0,524.3Q608.2,513.1 605.4,502.3M607.0,524.3Q615.2,526.2 623.1,529.5M609.1,522.6Q613.3,514.6 613.5,505.6M610.1,521.8Q611.2,510.8 611.1,499.8M610.1,521.8Q620.8,525.1 629.4,532.3M611.1,521.0Q619.5,524.3 626.4,530.0M613.2,519.3Q622.7,518.5 632.2,518.8M614.3,518.5Q621.8,509.4 625.4,498.2M614.3,518.5Q622.9,521.0 630.7,525.4M614.3,518.5Q623.6,525.0 632.3,532.5M615.3,517.7Q620.6,508.0 621.6,497.0M615.3,517.7Q624.4,519.8 632.0,525.1M616.4,516.8Q628.0,512.4 640.4,512.9M617.4,516.0Q627.3,522.7 635.2,531.7M618.5,515.2Q620.5,505.2 620.0,495.0M618.5,515.2Q627.5,512.7 636.8,512.4M619.5,514.4Q631.7,517.1 643.4,521.5M620.6,513.6Q627.2,503.5 630.8,492.0M622.7,511.9Q625.3,501.8 625.4,491.4M622.7,511.9Q619.2,503.8 614.2,496.4M622.7,511.9Q631.0,514.6 638.9,518.5M623.7,511.1Q628.4,499.3 628.9,486.6M624.7,510.3Q630.3,498.4 631.1,485.3M624.7,510.3Q636.1,515.2 646.1,522.6M624.7,510.3Q633.6,506.5 643.3,505.8M626.8,508.6Q634.2,497.9 638.2,485.6M626.8,508.6Q639.5,506.8 652.2,508.0M627.9,507.8Q630.0,497.2 629.2,486.4M627.9,507.8Q638.8,509.8 649.2,513.8M627.9,507.8Q638.5,511.6 648.7,516.4M628.9,507.0Q625.8,497.4 619.7,489.5M628.9,507.0Q630.6,495.2 630.1,483.3M630.0,506.1Q636.4,498.7 639.4,489.3M631.0,505.3Q639.9,508.0 648.3,512.1M631.0,505.3Q643.1,508.2 653.3,515.1M632.1,504.5Q631.8,493.8 627.8,483.9M632.1,504.5Q635.2,493.2 633.5,481.5M632.1,504.5Q643.9,502.7 655.9,502.1M633.1,503.7Q643.2,507.4 652.2,513.3M634.2,502.8Q643.5,506.2 650.1,513.6M634.2,502.8Q644.0,501.4 653.8,502.2M635.2,502.0Q641.0,494.3 642.6,484.8M636.2,501.2Q646.9,499.6 657.5,501.1M639.4,498.7Q647.3,504.0 654.4,510.2M640.4,497.9Q650.7,496.2 660.7,498.9M641.5,497.1Q652.2,502.0 661.7,508.9M642.5,496.2Q653.4,502.1 663.3,509.3M643.6,495.4Q646.6,482.0 647.5,468.2M644.6,494.6Q647.7,484.0 646.5,472.9M645.7,493.8Q647.7,480.2 647.4,466.5M645.7,493.8Q656.0,490.4 666.7,491.5M646.7,492.9Q644.1,482.2 637.2,473.6M646.7,492.9Q660.1,493.7 672.6,498.9M648.8,491.3Q650.2,478.6 646.8,466.4M648.8,491.3Q661.1,493.7 671.7,500.5M648.8,491.3Q648.6,481.2 650.9,471.5M648.8,491.3Q659.0,490.9 669.0,488.6M648.8,491.3Q651.8,478.7 650.8,465.9M648.8,491.3Q658.3,490.9 667.9,491.3M648.8,491.3Q656.3,481.8 661.7,471.0M648.8,491.3Q657.9,489.1 667.2,488.7M648.8,491.3Q658.0,492.8 667.1,495.1M648.8,491.3Q659.5,484.2 667.9,474.3M648.8,491.3Q659.7,487.1 670.4,482.4M571.1,519.2Q561.3,520.8 553.1,526.5M569.0,516.0Q560.1,512.9 550.7,514.1M568.3,514.9Q557.6,512.5 546.6,512.3M568.3,514.9Q566.8,506.7 569.3,498.8M566.9,512.8Q558.7,510.9 550.4,511.2M566.2,511.7Q556.0,511.1 546.2,513.9M565.5,510.7Q556.8,509.2 548.2,511.2M565.5,510.7Q562.1,500.8 562.9,490.4M564.8,509.6Q554.7,509.9 544.7,511.4M564.8,509.6Q556.6,512.0 548.7,515.3M564.8,509.6Q570.2,502.2 576.6,495.7M564.8,509.6Q561.8,501.4 561.5,492.6M563.4,507.5Q555.7,503.9 547.5,501.5M563.4,507.5Q559.8,497.4 560.2,486.8M563.4,507.5Q566.9,498.3 573.0,490.5M562.7,506.4Q553.4,505.2 544.1,505.3M562.7,506.4Q568.8,497.2 577.2,490.1M562.0,505.3Q553.5,501.7 544.4,502.8M562.0,505.3Q564.3,497.7 569.2,491.4M562.0,505.3Q561.6,496.0 562.8,486.8M561.3,504.3Q552.2,505.9 543.6,509.3M560.6,503.2Q551.8,503.6 543.6,506.8M560.6,503.2Q561.3,493.7 564.0,484.5M559.2,501.1Q561.6,491.8 566.4,483.5M558.5,500.0Q547.4,499.7 536.9,503.6M558.5,500.0Q564.7,491.1 573.7,485.1M558.5,500.0Q562.7,491.8 570.6,487.1M557.8,498.9Q549.2,492.2 538.6,489.8M557.1,497.9Q547.2,498.9 537.7,501.8M557.1,497.9Q548.9,498.6 540.9,500.9M557.1,497.9Q556.0,489.1 559.0,480.7M556.4,496.8Q547.9,490.9 537.8,488.7M555.7,495.7Q553.6,486.8 555.8,477.8M555.7,495.7Q556.7,486.7 562.2,479.4M554.3,493.6Q543.9,490.2 533.0,489.2M554.3,493.6Q562.2,485.7 571.0,478.8M553.6,492.5Q542.4,488.6 530.5,489.3M553.6,492.5Q551.5,481.6 550.5,470.4M553.0,491.4Q543.1,493.1 534.6,498.4M553.0,491.4Q542.3,493.6 532.6,498.5M553.0,491.4Q556.6,481.3 561.6,471.7M552.3,490.4Q541.9,491.4 532.4,495.6M552.3,490.4Q553.2,481.9 558.2,475.0M551.6,489.3Q542.7,488.7 533.9,489.9M550.9,488.2Q557.3,479.1 566.8,473.0M550.2,487.2Q556.0,479.2 564.1,473.7M549.5,486.1Q540.2,481.4 530.3,478.1M549.5,486.1Q547.7,474.7 547.8,463.1M548.8,485.0Q537.9,485.8 527.4,488.3M548.8,485.0Q551.1,476.3 555.2,468.2M548.8,485.0Q551.3,474.4 558.1,465.9M547.4,482.9Q539.0,479.3 529.8,478.9M547.4,482.9Q550.9,471.3 557.4,461.1M546.7,481.8Q535.6,478.2 523.9,478.3M546.0,480.8Q538.8,475.3 530.4,472.0M544.6,478.6Q549.3,469.2 556.6,461.6M544.6,478.6Q549.3,467.9 555.8,458.2M543.9,477.6Q536.2,472.8 527.9,469.1M543.2,476.5Q542.6,464.3 544.2,452.2M543.2,476.5Q539.0,467.6 537.8,457.8M543.2,476.5Q535.1,471.0 526.8,465.8M543.2,476.5Q537.4,467.6 528.9,461.3M543.2,476.5Q533.2,476.7 523.5,474.6M543.2,476.5Q545.1,468.4 546.6,460.2M543.2,476.5Q540.9,466.3 538.3,456.1M543.2,476.5Q540.7,466.3 535.8,457.1M543.2,476.5Q531.8,476.4 520.6,473.9M597.9,517.5Q592.5,508.1 585.1,500.3M597.9,517.5Q606.2,511.8 615.9,509.3M598.7,515.1Q597.0,504.1 590.9,494.9M598.7,515.1Q606.7,515.9 614.5,517.8M599.2,513.9Q598.5,504.1 595.4,494.8M599.2,513.9Q607.5,513.6 615.4,516.3M599.2,513.9Q608.8,512.7 618.5,513.6M600.1,511.5Q595.7,501.9 588.7,494.0M600.5,510.3Q598.8,499.6 593.9,489.9M600.9,509.1Q596.5,501.9 590.3,496.3M601.4,507.9Q610.4,508.1 619.3,509.4M601.8,506.7Q595.8,499.6 587.7,494.9M601.8,506.7Q608.3,499.9 615.9,494.3M601.8,506.7Q607.3,499.9 614.5,494.9M602.3,505.5Q596.4,499.2 589.6,493.8M602.7,504.3Q612.2,502.3 621.7,504.1M603.1,503.1Q598.4,493.6 590.2,486.8M603.1,503.1Q608.6,496.5 616.6,493.6M603.6,501.9Q613.3,499.5 623.2,499.2M604.0,500.7Q597.7,494.7 590.8,489.5M604.0,500.7Q597.5,492.7 588.6,487.7M604.0,500.7Q615.7,500.5 626.7,504.2M604.5,499.5Q602.0,488.2 597.3,477.7M604.9,498.3Q601.9,489.3 596.6,481.6M605.3,497.0Q600.2,490.6 593.1,486.4M605.3,497.0Q615.0,494.2 625.0,494.5M605.8,495.8Q600.3,488.2 591.7,484.1M606.7,493.4Q615.1,492.8 623.5,494.0M607.5,491.0Q600.2,482.4 590.0,477.5M607.5,491.0Q616.9,487.1 626.8,484.6M607.5,491.0Q618.5,488.0 629.9,487.7M608.0,489.8Q615.5,483.7 624.9,481.5M608.4,488.6Q606.9,480.3 604.1,472.4M608.4,488.6Q613.6,481.9 620.1,476.6M608.4,488.6Q617.0,480.7 627.1,474.7M608.9,487.4Q602.6,481.1 594.8,476.6M608.9,487.4Q600.7,481.8 592.0,477.2M608.9,487.4Q617.4,478.7 628.2,473.3M609.3,486.2Q620.6,485.3 631.6,488.0M609.3,486.2Q615.5,480.1 623.9,477.5M609.7,485.0Q620.8,484.3 631.4,487.6M610.2,483.8Q603.1,474.5 593.2,468.2M610.2,483.8Q620.0,478.9 630.6,476.6M610.6,482.6Q604.8,476.3 597.6,471.5M611.1,481.4Q621.2,479.0 631.3,481.5M611.5,480.2Q622.5,474.0 634.8,471.5M611.5,480.2Q604.7,473.6 600.7,465.1M611.5,480.2Q604.0,472.3 597.3,463.9M611.5,480.2Q614.7,471.9 614.3,463.1M611.5,480.2Q609.4,471.2 604.2,463.7M611.5,480.2Q622.7,478.0 633.8,475.5M611.5,480.2Q619.2,473.2 627.8,467.5M570.0,434.0Q570.5,427.2 572.9,420.8M569.4,432.7Q572.7,427.1 577.2,422.3M568.9,431.4Q569.1,422.5 573.5,414.8M567.8,428.7Q561.1,424.9 553.3,424.9M566.7,426.1Q571.7,419.0 579.0,414.5M566.2,424.8Q566.9,416.0 570.6,408.0M565.6,423.5Q555.9,423.2 546.5,425.6M565.6,423.5Q558.2,421.2 550.6,420.0M565.1,422.1Q554.6,423.2 544.5,426.3M564.0,419.5Q558.9,411.5 553.1,404.1M564.0,419.5Q557.0,415.2 550.3,410.4M564.0,419.5Q560.8,411.7 555.6,405.0M564.0,419.5Q560.5,411.2 560.4,402.1M564.0,419.5Q557.6,413.8 549.5,410.7" fill="none" stroke="#4B8559" stroke-width="0.72" stroke-linecap="round"/><path d="M586.3,466.4Q580.8,458.4 572.1,453.8M586.3,466.4Q589.3,457.2 596.2,450.3M586.4,464.9Q583.7,454.5 578.0,445.4M586.4,463.3Q590.8,456.5 596.3,450.5M586.4,460.2Q594.3,456.3 603.2,457.1M586.5,457.2Q582.4,448.0 574.5,441.9M586.5,455.6Q589.0,445.5 595.9,437.7M586.5,454.1Q596.2,450.4 606.5,449.5M586.5,452.5Q583.1,443.4 576.1,436.6M586.6,446.4Q581.6,439.5 574.4,435.0M586.7,444.8Q575.9,440.9 564.5,440.3M586.7,444.8Q590.1,433.6 596.3,423.6M586.7,441.7Q593.7,434.2 601.8,428.0M586.7,440.2Q591.0,429.6 597.6,420.3M586.7,438.6Q583.5,430.4 579.2,422.7M586.8,435.6Q593.1,426.6 601.8,420.0M586.8,432.5Q579.3,423.0 570.0,415.3M586.9,429.4Q582.5,420.4 576.7,412.1M586.9,427.8Q593.9,422.2 601.7,417.6M586.9,424.7Q582.0,413.7 576.0,403.3M586.9,424.7Q579.1,418.3 569.4,415.5M586.9,424.7Q594.1,415.7 603.0,408.3M587.0,423.2Q593.2,415.0 601.3,408.7M587.0,421.7Q577.6,418.4 567.9,416.2M587.0,420.1Q597.9,414.7 610.0,413.5M587.0,418.6Q576.0,412.2 563.9,408.1M587.0,417.0Q590.6,404.8 598.0,394.3M587.1,415.5Q576.9,411.8 566.2,410.1M587.1,413.9Q577.9,410.9 568.3,409.3M587.1,413.9Q575.9,410.2 564.4,407.7M587.1,413.9Q590.3,404.6 595.0,396.0M587.1,412.4Q594.6,407.0 603.3,403.8M587.1,412.4Q592.6,404.6 601.2,400.7M587.1,410.9Q581.7,401.6 573.9,394.2M587.1,409.3Q578.6,400.9 569.1,393.6M587.1,409.3Q595.1,402.2 605.2,398.7M587.2,407.8Q580.9,399.5 573.5,392.1M587.2,404.7Q578.6,397.9 568.2,394.7M587.2,404.7Q591.7,393.0 599.9,383.6M587.3,401.6Q599.7,396.8 612.9,394.8M587.3,400.0Q580.5,390.5 571.3,383.1M587.3,400.0Q590.8,390.8 597.1,383.2M587.3,400.0Q594.2,391.7 603.6,386.4M587.3,398.5Q592.5,390.5 596.4,381.7M587.3,398.5Q581.0,388.4 576.5,377.3M587.3,398.5Q580.8,387.7 571.3,379.4M587.3,398.5Q589.2,387.6 588.4,376.6M587.3,398.5Q596.2,394.5 604.0,388.7M587.3,398.5Q580.4,390.0 575.3,380.4M587.3,398.5Q579.6,392.5 574.8,384.0M587.3,398.5Q582.9,390.4 579.9,381.7M585.3,587.7Q589.4,578.6 595.1,570.5M585.3,587.7Q590.2,578.1 598.2,570.9M585.4,583.5Q580.3,575.4 574.4,567.9M585.4,579.2Q580.1,570.7 572.2,564.6M585.4,579.2Q589.2,570.4 595.3,563.1M585.5,574.9Q579.5,565.2 572.2,556.4M585.6,566.4Q593.6,557.8 603.0,550.8M585.6,562.1Q579.2,552.8 569.5,547.0M585.7,557.8Q592.7,547.0 603.3,539.5M585.7,557.8Q592.4,547.7 601.1,539.1M585.7,553.5Q593.5,543.3 602.3,533.7M585.7,553.5Q590.9,543.1 599.4,534.9M585.8,549.3Q578.8,538.0 570.5,527.8M585.8,545.0Q593.3,532.6 603.6,522.5M585.9,540.0Q582.4,532.3 576.3,526.6M585.9,540.0Q589.1,532.1 594.1,525.3M585.9,536.5Q580.6,529.2 573.5,523.7M585.9,532.9Q587.3,525.3 592.4,519.4M586.0,525.9Q589.8,519.7 596.3,516.4M586.0,522.4Q583.2,514.5 578.2,507.9M586.0,522.4Q591.1,515.5 598.1,510.8M586.0,518.8Q582.6,511.2 576.5,505.6M586.0,518.8Q592.0,512.4 599.4,507.7M586.1,515.3Q583.7,506.1 577.9,498.7M586.1,508.2Q581.3,502.0 575.7,496.4M586.1,504.7Q583.6,498.0 578.2,493.3M586.1,504.7Q591.0,496.1 597.9,488.9M586.2,501.2Q589.4,493.7 594.6,487.4M586.2,497.6Q590.4,489.1 598.4,483.9M586.2,494.1Q581.4,485.9 575.5,478.5M586.3,487.1Q591.2,480.3 597.8,475.1M586.3,483.5Q590.8,475.1 597.2,468.0M579.9,469.7Q576.7,461.9 575.5,453.6M578.9,468.7Q570.7,468.2 562.6,469.3M577.8,467.7Q575.7,458.0 578.0,448.3M577.8,467.7Q573.1,459.5 570.7,450.4M576.8,466.7Q568.1,467.6 560.0,470.8M576.8,466.7Q576.3,457.3 579.0,448.3M575.8,465.7Q574.1,457.0 577.4,448.8M573.7,463.8Q565.0,461.5 556.3,463.7M570.6,460.8Q559.4,462.1 548.4,465.1M568.5,458.8Q557.0,461.1 546.4,465.8M568.5,458.8Q557.2,456.3 545.6,455.5M567.5,457.8Q573.5,447.9 580.5,438.6M566.4,456.9Q561.2,447.1 560.3,436.1M563.3,453.9Q552.4,454.1 541.8,456.5M562.3,452.9Q554.0,457.9 546.5,464.1M561.3,451.9Q550.7,451.7 540.6,454.9M561.3,451.9Q565.3,442.1 571.7,433.7M559.2,450.0Q553.0,439.5 550.6,427.6M558.1,449.0Q558.9,436.5 563.6,424.8M557.1,448.0Q552.0,439.1 549.7,429.0M557.1,448.0Q555.7,438.3 557.1,428.5M556.1,447.0Q553.2,435.5 553.9,423.6M555.0,446.0Q545.7,440.5 535.1,438.2M555.0,446.0Q556.9,436.1 562.6,427.8M555.0,446.0Q550.5,435.9 547.7,425.1M553.0,444.1Q541.8,447.0 531.9,452.8M551.9,443.1Q542.4,443.8 533.7,447.8M548.8,440.1Q548.2,429.6 550.3,419.3M546.7,438.1Q534.9,440.9 524.9,448.1M546.7,438.1Q535.8,441.3 526.2,447.3M545.7,437.2Q536.0,434.5 526.1,433.3M544.7,436.2Q532.8,440.9 521.9,447.6M544.7,436.2Q534.6,431.0 523.5,428.8M543.6,435.2Q531.0,430.8 518.0,427.3M543.6,435.2Q537.8,424.8 536.5,412.9M542.6,434.2Q533.7,429.5 523.8,427.2M542.6,434.2Q534.5,424.4 529.5,412.7M542.6,434.2Q542.7,424.2 541.1,414.3M542.6,434.2Q538.8,422.0 533.7,410.3M542.6,434.2Q537.5,424.4 535.8,413.5M542.6,434.2Q533.4,436.1 524.3,434.3M542.6,434.2Q531.1,434.6 519.8,432.4M542.6,434.2Q534.2,429.5 525.6,425.4M542.6,434.2Q530.8,438.2 519.3,442.8M591.9,469.9Q589.7,460.2 583.3,452.4M593.0,469.0Q597.7,462.6 600.3,455.0M595.1,467.2Q603.6,471.3 609.9,478.2M597.3,465.3Q602.4,456.1 604.7,445.8M598.4,464.4Q600.3,456.2 599.0,447.7M598.4,464.4Q608.2,469.1 615.5,477.3M600.5,462.6Q611.0,462.5 621.3,464.8M601.6,461.7Q598.4,452.9 593.0,445.2M603.7,459.9Q604.0,450.8 600.6,442.3M603.7,459.9Q613.8,461.4 622.5,466.9M607.0,457.2Q609.8,448.1 609.1,438.6M610.2,454.4Q618.9,453.1 627.8,453.0M610.2,454.4Q619.6,456.5 628.8,459.6M611.3,453.5Q616.3,444.4 620.4,434.8M611.3,453.5Q619.9,454.8 628.3,457.5M612.3,452.6Q610.7,441.5 606.3,431.1M612.3,452.6Q608.6,441.4 603.7,430.6M616.6,449.0Q626.0,449.9 633.8,455.2M618.8,447.1Q614.5,435.8 607.6,425.7M620.9,445.3Q624.2,433.3 624.1,420.9M623.1,443.5Q621.0,431.1 616.1,419.6M623.1,443.5Q632.7,437.7 643.9,436.7M624.2,442.6Q630.0,434.6 631.2,424.9M624.2,442.6Q632.7,438.3 642.2,438.3M625.2,441.7Q625.2,429.0 623.0,416.5M625.2,441.7Q636.1,447.6 646.0,455.1M627.4,439.8Q632.1,427.4 633.9,414.3M627.4,439.8Q637.7,435.5 648.9,434.3M628.5,438.9Q631.2,429.8 632.0,420.3M629.5,438.0Q626.4,427.8 621.5,418.3M630.6,437.1Q628.1,426.0 623.7,415.4M631.7,436.2Q641.6,430.9 652.2,426.9M631.7,436.2Q629.3,426.0 627.5,415.8M631.7,436.2Q640.8,429.4 649.6,422.3M631.7,436.2Q641.3,439.6 651.0,442.4M631.7,436.2Q642.4,432.5 652.7,427.8M631.7,436.2Q640.6,430.3 650.8,427.5M631.7,436.2Q642.0,431.2 652.1,425.9M631.7,436.2Q641.1,438.8 650.8,439.6M576.3,534.6Q566.1,535.6 556.5,539.5M576.3,534.6Q574.4,525.4 577.3,516.6M575.2,533.8Q565.7,532.6 556.2,534.1M575.2,533.8Q572.3,523.2 573.5,512.2M574.1,533.1Q565.8,536.8 560.2,544.1M573.0,532.3Q561.8,534.9 552.1,540.9M573.0,532.3Q569.5,522.8 567.3,512.9M570.9,530.8Q568.3,520.1 568.7,509.1M569.8,530.0Q561.1,536.3 554.0,544.3M568.7,529.2Q556.9,528.8 545.4,531.2M568.7,529.2Q562.6,522.4 560.1,513.6M567.6,528.5Q556.4,527.8 545.5,530.1M566.5,527.7Q555.0,526.6 543.4,526.6M564.3,526.2Q552.9,526.5 542.7,531.6M564.3,526.2Q563.0,516.6 563.0,506.9M563.3,525.4Q553.9,524.4 545.2,527.8M563.3,525.4Q552.7,525.0 542.3,526.5M562.2,524.7Q565.0,516.0 569.1,507.9M561.1,523.9Q552.1,524.7 543.7,528.3M561.1,523.9Q560.0,514.9 562.6,506.3M560.0,523.1Q548.8,526.0 539.4,532.7M560.0,523.1Q559.2,511.6 563.1,500.8M557.8,521.6Q554.1,509.8 551.6,497.8M556.7,520.8Q555.3,508.4 558.7,496.3M555.7,520.1Q545.0,516.1 533.7,516.9M554.6,519.3Q544.0,515.5 532.8,515.2M550.2,516.3Q540.1,518.5 530.3,522.1M550.2,516.3Q544.7,506.9 544.0,496.1M550.2,516.3Q545.6,504.3 545.7,491.5M549.1,515.5Q540.4,518.5 532.5,523.1M548.0,514.7Q537.9,518.5 530.5,526.3M547.0,514.0Q536.2,517.1 526.5,522.6M545.9,513.2Q542.4,501.1 541.8,488.6M544.8,512.5Q534.5,516.7 524.5,521.8M544.8,512.5Q543.9,501.6 545.1,490.7M541.5,510.2Q531.8,509.5 522.3,511.8M541.5,510.2Q532.4,506.3 522.6,505.8M541.5,510.2Q534.1,500.7 531.1,489.1M541.5,510.2Q540.8,499.1 543.0,488.3M538.3,507.9Q527.0,509.2 517.1,514.5M538.3,507.9Q541.5,499.3 546.5,491.6M537.2,507.1Q535.5,495.4 538.4,483.9M536.1,506.3Q533.6,495.5 535.6,484.5M536.1,506.3Q531.6,494.8 528.2,482.9M531.8,503.3Q520.6,505.5 510.5,510.7M531.8,503.3Q532.4,490.2 537.6,478.1M530.7,502.5Q529.6,492.5 531.5,482.5M528.5,501.0Q517.2,504.5 506.7,509.8M527.4,500.2Q517.1,498.8 506.7,499.4M527.4,500.2Q526.3,490.0 526.9,479.7M525.2,498.7Q513.8,494.4 501.6,494.8M525.2,498.7Q513.8,496.2 502.1,495.3M524.1,498.0Q511.0,496.1 498.0,498.9M524.1,498.0Q525.9,486.2 532.2,476.2M524.1,498.0Q524.3,488.2 528.5,479.3M522.0,496.4Q510.8,502.4 501.2,510.5M519.8,494.9Q515.8,486.5 515.5,477.2M519.8,494.9Q514.1,484.4 511.6,472.7M519.8,494.9Q510.3,488.6 500.0,483.6M519.8,494.9Q508.2,491.1 496.6,487.3M519.8,494.9Q513.0,485.1 505.4,475.9M519.8,494.9Q511.5,489.7 504.7,482.6M519.8,494.9Q509.4,490.8 499.4,486.1M519.8,494.9Q510.0,500.3 499.4,503.8M519.8,494.9Q516.0,482.3 510.4,470.3M519.8,494.9Q508.4,499.3 496.4,501.3M519.8,494.9Q511.0,489.4 501.9,484.4M519.8,494.9Q519.7,484.0 520.7,473.1M519.8,494.9Q506.8,494.9 494.0,492.6M519.8,494.9Q520.7,482.2 519.1,469.6M519.8,494.9Q510.1,493.8 500.5,492.2M519.8,494.9Q521.6,482.6 523.1,470.2M595.5,533.3Q603.4,536.3 608.5,543.0M595.5,533.3Q604.1,532.3 612.5,534.7M596.5,532.5Q597.1,521.6 593.8,511.1M600.7,529.2Q600.0,520.1 597.6,511.3M600.7,529.2Q611.9,529.5 621.9,534.5M600.7,529.2Q610.6,525.8 620.8,523.5M601.7,528.4Q601.6,518.7 597.0,510.2M602.8,527.6Q607.7,517.5 607.8,506.2M603.8,526.7Q605.6,518.3 604.9,509.6M604.9,525.9Q604.2,514.8 601.5,504.0M605.9,525.1Q607.4,516.5 605.4,508.0M608.0,523.4Q605.5,512.1 600.8,501.4M608.0,523.4Q617.0,524.5 625.5,527.8M608.0,523.4Q618.2,520.1 628.7,518.3M609.1,522.6Q609.8,512.5 608.8,502.4M609.1,522.6Q620.2,524.6 630.3,529.7M609.1,522.6Q619.1,528.3 627.6,536.2M611.1,521.0Q612.0,511.0 611.0,501.0M612.2,520.1Q617.7,512.1 621.2,503.1M612.2,520.1Q620.1,524.1 624.8,531.5M615.3,517.7Q620.3,506.2 621.8,493.8M615.3,517.7Q624.8,519.9 633.1,524.9M616.4,516.8Q618.2,504.6 617.7,492.2M616.4,516.8Q626.7,522.9 636.1,530.3M617.4,516.0Q619.9,506.4 621.0,496.6M617.4,516.0Q623.5,508.9 625.3,499.7M617.4,516.0Q628.0,516.2 638.3,518.1M619.5,514.4Q628.1,518.5 634.7,525.4M620.6,513.6Q621.1,501.3 619.4,489.2M621.6,512.7Q626.5,502.4 628.6,491.1M623.7,511.1Q634.1,513.5 643.9,517.4M624.7,510.3Q621.2,500.0 614.2,491.7M625.8,509.4Q630.9,501.3 633.4,492.0M627.9,507.8Q628.0,498.2 623.3,489.8M628.9,507.0Q639.8,513.2 648.3,522.2M633.1,503.7Q639.3,493.2 640.7,481.2M635.2,502.0Q632.5,493.0 626.3,486.1M636.2,501.2Q637.7,490.8 636.2,480.5M637.3,500.4Q648.3,505.8 657.5,514.0M638.3,499.5Q635.5,488.9 630.3,479.2M638.3,499.5Q650.1,504.6 660.9,511.3M640.4,497.9Q646.6,486.3 651.6,474.2M640.4,497.9Q646.1,488.1 648.9,477.1M640.4,497.9Q651.5,499.7 661.4,505.0M642.5,496.2Q639.3,485.4 633.9,475.5M642.5,496.2Q652.7,497.3 662.3,500.6M643.6,495.4Q650.5,486.8 653.0,476.1M643.6,495.4Q657.1,496.8 670.0,501.4M644.6,494.6Q656.3,501.6 667.3,509.5M645.7,493.8Q650.1,483.2 652.8,472.0M646.7,492.9Q656.9,495.4 664.9,502.2M647.8,492.1Q654.3,482.9 657.6,472.1M647.8,492.1Q646.7,480.5 644.2,469.1M647.8,492.1Q659.0,488.7 670.7,486.8M648.8,491.3Q646.3,481.3 647.2,471.0M648.8,491.3Q659.6,486.3 669.8,480.2M648.8,491.3Q647.9,482.2 647.0,473.0M648.8,491.3Q660.7,489.6 672.0,485.3M648.8,491.3Q660.5,492.9 672.2,494.0M648.8,491.3Q659.9,497.3 672.0,501.0M648.8,491.3Q653.4,482.3 656.6,472.7M648.8,491.3Q659.2,488.4 668.6,483.3M570.4,518.1Q570.4,508.0 573.5,498.4M569.7,517.1Q571.1,506.3 576.0,496.6M569.0,516.0Q570.1,506.9 574.2,498.6M569.0,516.0Q567.4,505.6 569.0,495.2M567.6,513.9Q556.8,515.6 546.7,519.5M567.6,513.9Q572.2,504.3 580.3,497.5M566.9,512.8Q566.7,502.5 568.7,492.4M566.2,511.7Q559.9,504.4 550.8,501.2M566.2,511.7Q569.5,501.2 576.7,492.8M565.5,510.7Q555.5,507.1 545.1,504.9M565.5,510.7Q570.9,501.3 579.5,494.7M564.1,508.5Q556.0,501.3 546.4,496.2M562.7,506.4Q551.7,504.5 540.9,507.5M562.0,505.3Q552.2,503.4 542.3,505.0M561.3,504.3Q555.8,497.5 547.6,494.7M560.6,503.2Q553.1,498.5 544.5,496.6M559.9,502.1Q550.8,503.6 542.2,507.1M559.2,501.1Q563.9,493.5 571.4,488.6M558.5,500.0Q550.6,495.2 542.1,491.5M556.4,496.8Q556.6,488.3 560.6,480.8M555.7,495.7Q546.1,491.3 535.8,488.5M555.0,494.6Q556.3,486.0 559.8,478.1M553.6,492.5Q560.2,483.7 569.7,478.0M553.0,491.4Q553.4,482.5 558.6,475.2M552.3,490.4Q542.9,487.5 533.1,488.6M552.3,490.4Q558.2,482.1 566.8,476.7M551.6,489.3Q552.6,479.3 554.9,469.5M551.6,489.3Q552.8,478.3 557.0,467.9M549.5,486.1Q538.6,481.7 527.0,479.9M548.1,484.0Q537.1,487.1 526.6,491.8M548.1,484.0Q537.8,482.0 527.4,481.8M548.1,484.0Q546.5,472.3 547.0,460.5M547.4,482.9Q538.2,478.9 528.4,476.6M546.7,481.8Q549.0,472.6 552.9,463.8M546.0,480.8Q544.1,471.1 546.7,461.7M545.3,479.7Q536.4,481.5 527.9,484.7M543.9,477.6Q544.5,465.7 546.3,454.0M543.9,477.6Q543.2,465.9 547.1,455.0M543.2,476.5Q531.0,479.2 520.0,485.3M543.2,476.5Q534.2,475.9 525.5,473.2M543.2,476.5Q541.7,467.5 541.4,458.5M543.2,476.5Q532.0,474.8 520.7,473.0M543.2,476.5Q533.7,474.4 525.3,469.5M543.2,476.5Q542.4,468.0 538.6,460.3M598.3,516.3Q592.1,509.1 584.8,503.0M598.3,516.3Q590.4,510.8 581.4,507.2M598.3,516.3Q603.0,509.2 610.7,505.7M598.7,515.1Q598.2,507.4 596.4,499.9M599.2,513.9Q596.0,504.1 590.0,495.7M599.6,512.7Q594.6,503.0 587.0,495.1M600.1,511.5Q595.7,504.0 590.1,497.4M600.5,510.3Q609.4,510.8 618.1,512.6M600.5,510.3Q609.0,505.6 618.0,502.1M600.9,509.1Q594.1,502.3 585.2,498.8M600.9,509.1Q611.1,508.7 621.2,510.2M601.4,507.9Q610.6,507.5 619.5,510.1M601.8,506.7Q600.8,495.6 597.7,485.0M602.3,505.5Q611.5,501.7 621.5,501.6M602.3,505.5Q610.3,504.1 618.4,504.8M602.7,504.3Q602.8,495.4 600.2,486.9M603.6,501.9Q596.1,494.4 586.2,490.7M604.5,499.5Q599.7,490.4 591.9,483.9M604.5,499.5Q613.9,495.1 623.9,492.4M604.5,499.5Q612.2,491.2 621.5,484.6M604.9,498.3Q604.4,489.2 599.5,481.7M604.9,498.3Q613.4,495.7 622.2,495.7M605.3,497.0Q600.4,490.1 594.6,483.8M605.3,497.0Q612.9,491.4 622.3,490.3M606.2,494.6Q601.5,485.7 594.0,478.7M606.2,494.6Q616.6,493.8 626.5,497.1M606.7,493.4Q604.5,482.7 599.2,473.2M607.1,492.2Q597.5,485.6 587.1,480.5M607.1,492.2Q616.9,491.7 626.2,495.0M609.3,486.2Q606.4,476.8 600.8,468.7M609.3,486.2Q609.3,474.7 604.6,464.1M609.7,485.0Q610.4,473.1 606.4,461.8M609.7,485.0Q617.2,477.2 627.3,473.5M610.2,483.8Q604.3,476.8 595.9,473.1M610.2,483.8Q620.2,483.5 629.8,486.2M610.6,482.6Q620.1,476.9 630.5,473.1M611.1,481.4Q623.2,478.4 635.7,479.2M611.5,480.2Q605.3,472.4 597.8,465.8M611.5,480.2Q610.2,468.7 612.8,457.4M611.5,480.2Q608.6,469.9 603.0,460.8M611.5,480.2Q620.5,476.5 630.1,475.2M611.5,480.2Q606.0,473.9 603.5,465.9M611.5,480.2Q617.4,470.6 622.8,460.8M611.5,480.2Q619.3,477.1 627.1,474.1M611.5,480.2Q606.4,471.7 604.7,461.9M570.0,434.0Q563.7,429.1 556.5,425.3M569.4,432.7Q561.7,428.0 553.5,424.2M566.7,426.1Q559.4,421.6 551.0,419.8M564.0,419.5Q557.9,411.5 554.7,402.0M564.0,419.5Q566.0,409.8 571.5,401.6M564.0,419.5Q558.5,412.7 551.1,408.0M564.0,419.5Q555.2,414.9 547.2,409.1" fill="none" stroke="#6BA27A" stroke-width="0.72" stroke-linecap="round"/><path d="M586.4,464.9Q591.8,456.7 600.4,451.9M586.4,463.3Q578.9,455.2 569.7,449.0M586.4,460.2Q590.4,449.9 598.0,441.8M586.5,452.5Q579.4,446.8 571.4,442.4M586.5,452.5Q590.6,443.8 597.6,437.1M586.6,451.0Q591.6,443.5 599.4,439.1M586.6,449.4Q584.7,440.6 578.9,433.6M586.6,446.4Q594.5,439.0 604.5,435.0M586.7,444.8Q580.3,438.5 572.2,434.6M586.7,443.3Q578.0,439.7 568.7,439.0M586.7,443.3Q591.8,433.5 597.9,424.3M586.7,441.7Q594.9,433.7 605.2,428.6M586.8,437.1Q591.9,428.1 597.9,419.8M586.8,435.6Q578.8,430.1 569.1,428.9M586.8,435.6Q580.0,425.7 570.0,419.1M586.8,432.5Q594.7,425.6 603.7,420.5M586.8,430.9Q583.9,419.7 578.0,409.8M586.9,429.4Q590.9,419.6 597.5,411.4M586.9,427.8Q581.0,417.0 572.7,408.0M586.9,426.3Q580.3,418.0 572.4,411.0M587.0,423.2Q596.5,417.5 607.4,416.0M587.0,421.7Q576.3,417.5 564.7,417.4M587.0,418.6Q590.2,409.7 594.9,401.6M587.0,417.0Q579.3,410.9 570.5,406.3M587.1,415.5Q595.2,409.9 605.0,408.6M587.1,412.4Q579.2,406.8 570.2,403.6M587.1,409.3Q592.1,398.4 599.6,389.1M587.2,406.2Q582.4,394.4 575.8,383.5M587.3,398.5Q580.0,390.5 571.2,384.2M587.3,398.5Q588.4,387.1 590.5,375.8M587.3,398.5Q582.3,389.0 575.5,380.7M587.3,398.5Q583.0,389.9 577.4,382.0M585.4,579.2Q590.8,570.8 598.3,564.2M585.5,574.9Q591.6,566.7 598.9,559.4M585.5,570.6Q579.6,560.1 572.2,550.6M585.5,570.6Q591.4,560.0 599.8,551.2M585.6,566.4Q581.0,553.8 572.3,543.5M585.6,566.4Q593.7,555.6 603.6,546.4M585.6,562.1Q578.6,552.1 569.6,543.8M585.7,557.8Q579.2,547.0 570.2,538.1M585.7,557.8Q578.2,549.6 569.1,543.3M585.8,545.0Q575.5,535.0 564.0,526.3M586.0,529.4Q589.8,522.0 595.2,515.6M586.0,518.8Q589.1,512.6 595.6,509.9M586.1,515.3Q590.6,507.4 597.4,501.4M586.1,508.2Q583.3,500.0 577.2,493.7M586.1,504.7Q589.2,497.5 595.7,493.2M586.2,497.6Q581.7,490.5 575.3,484.9M586.2,497.6Q591.0,488.3 599.5,482.1M586.2,490.6Q590.5,484.5 595.8,479.3M586.3,480.0Q583.2,472.0 578.1,465.0M586.3,480.0Q584.8,471.3 579.1,464.8M578.9,468.7Q577.2,459.4 578.3,450.0M569.5,459.8Q561.4,465.1 554.1,471.7M565.4,455.9Q565.3,447.0 569.8,439.4M560.2,450.9Q548.9,447.1 536.9,447.4M560.2,450.9Q549.1,454.1 539.9,461.0M559.2,450.0Q547.5,451.6 537.5,457.9M558.1,449.0Q546.8,445.6 535.1,444.1M558.1,449.0Q548.1,449.6 538.5,452.2M557.1,448.0Q547.9,447.0 539.3,450.4M556.1,447.0Q545.5,443.3 534.4,444.5M556.1,447.0Q551.2,438.8 549.3,429.3M554.0,445.0Q542.5,448.0 532.4,454.2M550.9,442.1Q552.4,431.5 558.4,422.6M549.9,441.1Q537.8,440.4 525.6,440.9M548.8,440.1Q539.1,438.2 529.1,437.8M547.8,439.1Q536.8,437.6 525.8,438.7M546.7,438.1Q551.2,427.2 558.5,417.8M542.6,434.2Q548.4,424.0 555.4,414.5M542.6,434.2Q544.2,424.4 547.6,415.0M542.6,434.2Q533.3,437.4 523.6,438.5M542.6,434.2Q531.9,432.2 521.0,433.0M591.9,469.9Q588.9,462.1 583.6,455.5M591.9,469.9Q602.8,469.0 613.0,473.1M593.0,469.0Q602.7,465.5 612.9,463.9M593.0,469.0Q601.0,473.8 607.6,480.4M594.1,468.1Q593.3,459.6 591.3,451.4M594.1,468.1Q603.9,465.3 614.1,464.6M600.5,462.6Q610.0,460.9 619.3,463.6M603.7,459.9Q614.0,459.1 623.9,462.2M604.8,459.0Q607.8,449.4 608.0,439.4M604.8,459.0Q612.5,463.0 619.0,468.8M605.9,458.1Q607.3,447.9 607.0,437.6M607.0,457.2Q617.2,457.5 627.0,460.4M608.0,456.2Q610.6,446.7 611.0,436.8M608.0,456.2Q618.6,460.5 628.6,465.9M609.1,455.3Q607.7,445.7 603.7,436.8M613.4,451.7Q610.5,443.4 605.9,435.8M615.6,449.9Q611.3,439.7 605.7,430.2M616.6,449.0Q613.5,437.3 607.3,427.0M617.7,448.0Q613.1,436.4 604.8,427.0M619.9,446.2Q619.4,436.0 617.6,425.9M619.9,446.2Q629.9,448.0 639.3,451.9M623.1,443.5Q622.1,431.9 617.0,421.5M627.4,439.8Q629.0,430.0 627.7,420.1M628.5,438.9Q639.6,444.0 648.1,452.7M630.6,437.1Q626.8,424.4 621.6,412.3M631.7,436.2Q640.5,431.6 648.9,426.1M631.7,436.2Q628.7,425.2 627.7,413.9M631.7,436.2Q636.6,426.6 640.2,416.4M631.7,436.2Q643.0,430.4 653.9,423.8M631.7,436.2Q635.4,426.4 639.6,416.9M631.7,436.2Q643.1,435.0 653.9,431.5M576.3,534.6Q577.5,526.3 581.7,519.0M573.0,532.3Q564.3,529.3 555.1,529.2M573.0,532.3Q566.7,522.7 562.9,511.9M570.9,530.8Q561.4,533.3 553.2,538.7M569.8,530.0Q562.2,533.2 556.3,538.8M569.8,530.0Q565.9,521.2 564.0,511.8M565.4,527.0Q556.3,525.3 547.4,527.9M563.3,525.4Q563.9,516.4 567.0,507.9M558.9,522.4Q548.2,525.2 538.1,529.5M558.9,522.4Q557.8,511.8 561.2,501.6M557.8,521.6Q549.0,526.3 541.5,532.9M557.8,521.6Q554.4,511.9 553.4,501.6M556.7,520.8Q547.4,526.5 538.8,533.3M556.7,520.8Q547.8,526.2 540.1,533.1M556.7,520.8Q555.0,509.5 555.9,498.1M554.6,519.3Q551.6,507.4 552.2,495.1M553.5,518.6Q542.0,519.6 530.8,522.1M553.5,518.6Q553.6,509.1 555.1,499.8M552.4,517.8Q550.4,505.4 551.2,492.9M551.3,517.0Q540.9,513.2 529.7,512.7M551.3,517.0Q552.5,508.2 555.7,499.9M545.9,513.2Q535.4,512.4 525.2,515.3M544.8,512.5Q538.8,504.2 536.3,494.3M542.6,510.9Q533.3,511.3 524.2,513.3M539.4,508.6Q527.5,511.3 516.2,516.1M537.2,507.1Q525.2,511.9 513.8,518.0M535.0,505.6Q524.0,509.7 513.9,515.6M533.9,504.8Q531.8,495.0 531.6,484.9M532.8,504.1Q537.5,493.3 543.2,483.0M532.8,504.1Q534.7,492.2 537.6,480.6M529.6,501.8Q523.7,492.0 519.1,481.6M528.5,501.0Q521.6,489.6 517.2,477.1M527.4,500.2Q522.5,491.8 522.1,482.0M523.1,497.2Q516.2,489.6 512.4,480.1M523.1,497.2Q517.7,485.5 517.0,472.6M520.9,495.7Q522.0,482.5 526.1,469.9M520.9,495.7Q515.3,487.6 513.2,478.0M519.8,494.9Q510.5,500.2 504.1,508.7M519.8,494.9Q518.4,481.3 519.8,467.7M519.8,494.9Q508.4,492.9 497.2,490.1M519.8,494.9Q522.0,484.3 521.2,473.6M595.5,533.3Q599.9,524.1 599.9,513.9M597.6,531.7Q602.4,524.2 605.4,515.8M598.6,530.9Q610.1,528.4 621.8,529.3M601.7,528.4Q597.6,520.1 592.6,512.3M601.7,528.4Q612.7,530.3 623.0,534.4M602.8,527.6Q613.7,526.7 624.5,527.9M604.9,525.9Q604.0,514.6 600.7,503.9M604.9,525.9Q616.1,524.6 627.4,525.0M605.9,525.1Q614.0,529.5 618.8,537.4M607.0,524.3Q615.8,528.1 623.0,534.3M608.0,523.4Q613.6,516.3 614.8,507.3M610.1,521.8Q613.6,510.5 612.1,498.9M610.1,521.8Q620.1,521.6 629.4,525.6M612.2,520.1Q610.3,511.3 604.8,504.2M612.2,520.1Q622.9,521.8 632.5,526.8M613.2,519.3Q612.9,506.9 609.6,495.0M613.2,519.3Q622.5,515.8 632.4,514.7M614.3,518.5Q613.1,508.3 607.6,499.7M619.5,514.4Q616.0,502.8 610.1,492.1M620.6,513.6Q631.3,515.0 641.6,518.3M621.6,512.7Q631.7,518.9 640.2,527.1M625.8,509.4Q630.1,499.8 632.9,489.6M625.8,509.4Q637.2,514.6 645.9,523.7M630.0,506.1Q630.2,495.6 625.5,486.1M631.0,505.3Q633.0,495.0 630.9,484.7M633.1,503.7Q637.4,491.4 639.3,478.6M633.1,503.7Q642.0,506.7 648.9,513.1M634.2,502.8Q636.5,493.6 636.9,484.1M634.2,502.8Q639.9,495.6 642.8,486.8M636.2,501.2Q637.0,489.3 635.1,477.4M638.3,499.5Q649.7,501.9 659.7,507.7M641.5,497.1Q648.0,487.5 652.9,476.9M641.5,497.1Q640.2,486.5 635.3,477.0M641.5,497.1Q651.0,493.7 661.1,493.0M642.5,496.2Q645.7,485.8 646.3,474.9M643.6,495.4Q653.5,504.1 662.6,513.6M644.6,494.6Q642.4,481.0 636.0,468.9M644.6,494.6Q657.4,496.0 668.9,501.6M646.7,492.9Q649.6,480.2 649.6,467.0M648.8,491.3Q651.5,480.6 656.2,470.6M648.8,491.3Q651.8,478.5 654.5,465.6M648.8,491.3Q656.1,483.9 660.3,474.4M648.8,491.3Q647.2,478.1 646.7,464.8M648.8,491.3Q658.8,486.3 668.5,480.8M571.1,519.2Q563.1,520.7 556.2,524.9M571.1,519.2Q569.0,510.3 571.8,501.6M570.4,518.1Q568.3,509.2 570.4,500.2M569.7,517.1Q559.9,514.0 549.7,512.9M569.0,516.0Q560.6,516.5 553.1,520.5M568.3,514.9Q572.8,507.1 579.0,500.4M567.6,513.9Q566.6,506.1 568.2,498.4M566.9,512.8Q571.3,506.6 577.1,501.5M563.4,507.5Q553.7,503.9 543.5,502.1M559.9,502.1Q550.2,502.9 541.0,505.8M559.9,502.1Q564.7,492.3 572.7,484.9M559.2,501.1Q551.0,503.1 543.4,506.6M557.8,498.9Q547.8,494.4 536.9,494.1M557.8,498.9Q557.9,488.9 559.0,478.9M556.4,496.8Q557.1,486.4 560.1,476.5M555.7,495.7Q544.6,497.8 535.2,504.2M555.0,494.6Q544.3,491.6 533.2,490.4M555.0,494.6Q551.7,485.9 552.4,476.6M554.3,493.6Q548.7,486.7 540.2,483.9M553.6,492.5Q543.6,486.2 532.9,481.0M550.9,488.2Q540.2,485.5 529.3,487.3M550.9,488.2Q556.2,477.6 564.8,469.3M550.2,487.2Q539.7,488.4 530.6,493.9M550.2,487.2Q539.0,487.3 528.0,489.3M549.5,486.1Q548.7,475.9 552.5,466.4M548.8,485.0Q537.5,488.7 526.7,493.4M548.1,484.0Q551.7,474.3 559.2,467.2M547.4,482.9Q550.6,472.5 556.7,463.5M546.0,480.8Q536.2,483.2 527.9,488.8M545.3,479.7Q536.6,480.3 528.2,482.2M545.3,479.7Q549.2,472.0 555.9,466.4M544.6,478.6Q535.4,479.6 526.7,482.9M543.9,477.6Q534.4,478.3 525.3,481.0M543.2,476.5Q532.4,473.2 521.1,472.8M543.2,476.5Q539.8,466.2 536.7,455.8M543.2,476.5Q536.8,471.4 531.1,465.4M543.2,476.5Q536.7,470.8 530.6,464.7M543.2,476.5Q533.0,474.8 523.5,470.7M543.2,476.5Q549.7,468.9 552.8,459.4M543.2,476.5Q534.7,470.0 527.7,461.9M543.2,476.5Q535.1,468.5 527.6,459.8M543.2,476.5Q532.9,474.1 522.5,472.5M543.2,476.5Q542.2,467.9 538.8,460.0M598.3,516.3Q608.4,514.7 618.7,514.2M599.6,512.7Q590.3,507.0 580.5,502.4M600.1,511.5Q608.2,505.4 617.0,500.3M600.1,511.5Q606.5,503.0 614.8,496.3M602.7,504.3Q610.3,497.9 619.8,495.0M603.1,503.1Q599.1,492.4 593.1,482.8M603.1,503.1Q614.6,502.3 625.8,504.8M603.6,501.9Q604.2,493.8 601.5,486.2M603.6,501.9Q610.5,497.4 618.7,496.3M605.8,495.8Q613.0,490.5 621.8,488.7M605.8,495.8Q613.0,490.6 621.7,488.0M606.7,493.4Q615.8,492.0 624.5,494.9M607.1,492.2Q607.5,480.4 606.1,468.7M607.1,492.2Q613.2,483.6 622.5,478.5M608.0,489.8Q605.1,481.2 601.1,473.0M608.0,489.8Q605.6,481.4 600.4,474.3M608.4,488.6Q600.9,481.7 592.6,475.9M608.9,487.4Q618.2,480.6 629.2,477.0M609.7,485.0Q605.1,473.6 596.9,464.5M610.6,482.6Q619.2,481.9 627.6,484.0M611.1,481.4Q603.0,472.3 593.8,464.4M611.5,480.2Q608.1,471.4 602.9,463.6M611.5,480.2Q621.6,474.7 632.7,471.6M611.5,480.2Q611.8,470.9 608.4,462.1M611.5,480.2Q622.3,479.8 632.9,477.5M611.5,480.2Q619.1,473.6 623.7,464.6M611.5,480.2Q613.7,468.7 614.4,457.0M611.5,480.2Q605.7,473.4 600.4,466.1M611.5,480.2Q609.0,471.8 603.4,465.2M611.5,480.2Q609.8,469.3 607.4,458.6M611.5,480.2Q620.0,475.1 629.2,471.6M569.4,432.7Q563.1,426.8 554.9,424.0M568.4,430.1Q561.0,429.2 553.9,430.9M567.3,427.4Q559.3,423.1 550.2,423.5M564.0,419.5Q553.6,418.8 543.5,415.9" fill="none" stroke="#3A6A4D" stroke-width="0.72" stroke-linecap="round"/><path d="M586.4,463.3Q580.3,454.0 571.1,447.7M586.5,458.7Q590.5,449.5 598.1,443.0M586.5,457.2Q580.8,448.3 572.8,441.5M586.6,449.4Q580.5,443.7 573.3,439.6M586.6,449.4Q594.0,440.9 603.1,434.3M586.6,447.9Q579.6,438.7 571.5,430.4M586.6,447.9Q590.0,439.5 595.7,432.3M586.6,446.4Q581.0,438.4 573.7,431.9M586.6,446.4Q597.7,443.4 609.1,443.5M586.7,443.3Q578.8,436.0 570.1,429.7M586.7,443.3Q596.1,439.9 606.1,438.7M586.7,440.2Q593.9,435.7 601.9,432.7M586.7,438.6Q590.7,430.4 596.3,423.2M586.8,437.1Q596.7,433.0 607.4,431.3M586.8,434.0Q580.8,424.7 572.3,417.6M586.8,434.0Q589.3,424.6 595.9,417.4M586.9,426.3Q592.7,418.2 601.4,413.4M587.0,421.7Q591.5,410.5 598.4,400.7M587.0,418.6Q595.8,414.6 605.1,411.8M587.0,417.0Q581.6,407.2 572.8,400.0M587.1,410.9Q578.7,405.2 569.3,401.1M587.2,404.7Q577.2,399.6 566.3,397.0M587.3,400.0Q576.9,391.6 564.3,387.1M587.3,398.5Q597.3,393.9 608.2,392.1M587.3,398.5Q577.7,391.6 569.1,383.5M587.3,398.5Q578.0,392.0 567.8,387.1M587.3,398.5Q587.3,388.4 584.9,378.6M587.3,398.5Q578.2,393.1 569.7,386.7M585.3,587.7Q578.9,577.1 569.5,569.0M585.4,583.5Q593.3,575.2 602.5,568.5M585.4,579.2Q579.5,570.3 570.4,564.6M585.5,570.6Q579.3,559.8 571.9,549.7M585.5,570.6Q590.2,561.4 598.2,555.0M585.8,549.3Q590.0,539.2 597.3,531.0M585.9,540.0Q584.0,532.6 578.9,526.9M586.0,522.4Q580.7,514.7 573.7,508.5M586.1,515.3Q581.5,506.7 573.7,500.9M586.2,501.2Q580.9,493.8 574.1,487.8M586.3,487.1Q583.1,480.2 577.3,475.3M575.8,465.7Q566.3,467.6 558.1,472.7M572.7,462.8Q568.8,453.4 566.3,443.6M571.6,461.8Q561.8,458.0 551.6,455.3M571.6,461.8Q567.4,453.8 566.7,444.7M569.5,459.8Q568.2,450.7 569.3,441.6M565.4,455.9Q560.9,444.7 559.9,432.7M563.3,453.9Q567.5,442.8 575.6,434.1M558.1,449.0Q561.5,439.2 568.8,432.0M556.1,447.0Q544.5,449.4 533.9,454.9M551.9,443.1Q542.2,446.9 533.7,453.1M549.9,441.1Q548.7,429.4 549.0,417.7M548.8,440.1Q537.9,437.1 526.7,437.9M547.8,439.1Q539.2,444.6 531.7,451.5M547.8,439.1Q543.3,429.3 542.6,418.5M545.7,437.2Q549.3,426.9 554.7,417.5M543.6,435.2Q532.1,436.3 521.1,439.6M542.6,434.2Q533.4,434.8 524.4,432.7M542.6,434.2Q533.3,434.5 524.5,437.5M542.6,434.2Q532.5,427.2 521.3,422.1M542.6,434.2Q538.8,422.5 536.1,410.4M595.1,467.2Q592.9,458.9 588.4,451.6M596.2,466.3Q598.0,457.6 596.9,448.8M599.4,463.5Q600.1,454.8 599.5,446.0M601.6,461.7Q609.1,465.8 615.5,471.5M604.8,459.0Q602.3,450.6 598.4,442.8M605.9,458.1Q615.3,464.6 623.1,473.0M609.1,455.3Q613.8,444.6 613.9,432.9M609.1,455.3Q620.8,455.1 632.0,458.7M610.2,454.4Q610.8,445.6 609.3,436.9M611.3,453.5Q622.7,452.5 634.0,454.4M613.4,451.7Q623.2,447.6 633.6,445.8M614.5,450.8Q612.6,438.9 607.7,427.9M616.6,449.0Q613.8,440.4 609.7,432.3M617.7,448.0Q627.3,447.4 636.9,448.1M622.0,444.4Q627.0,435.9 629.3,426.3M623.1,443.5Q634.6,448.0 645.5,453.9M624.2,442.6Q622.4,432.4 619.3,422.5M626.3,440.8Q630.4,429.5 633.5,418.0M629.5,438.0Q641.5,443.1 652.4,450.1M629.5,438.0Q641.4,439.7 652.4,444.5M631.7,436.2Q643.0,439.3 654.7,439.3M631.7,436.2Q631.5,424.3 633.0,412.4M631.7,436.2Q643.8,438.6 656.1,437.2M631.7,436.2Q639.2,429.5 648.3,425.3M631.7,436.2Q635.5,424.0 635.6,411.2M631.7,436.2Q631.8,424.6 630.3,413.1M576.3,534.6Q569.1,539.0 565.1,546.5M572.0,531.5Q563.3,534.0 556.4,539.9M572.0,531.5Q567.4,521.6 565.6,510.8M570.9,530.8Q568.6,521.7 571.1,512.6M568.7,529.2Q559.9,527.6 551.0,527.4M566.5,527.7Q555.9,527.7 545.4,529.3M566.5,527.7Q559.5,519.8 556.5,509.6M565.4,527.0Q564.7,516.7 567.4,506.7M564.3,526.2Q556.1,530.0 549.0,535.9M564.3,526.2Q563.9,517.5 567.9,509.7M563.3,525.4Q564.5,516.7 568.2,508.6M558.9,522.4Q549.3,521.4 540.1,524.2M553.5,518.6Q549.0,507.9 545.4,497.0M548.0,514.7Q545.0,506.1 543.2,497.1M547.0,514.0Q546.4,504.4 547.5,494.8M545.9,513.2Q548.0,504.4 553.3,497.1M543.7,511.7Q544.9,501.0 547.8,490.6M542.6,510.9Q545.2,499.8 551.2,490.0M540.4,509.4Q530.5,505.8 519.9,505.5M538.3,507.9Q527.8,512.3 519.2,519.7M537.2,507.1Q526.8,508.4 516.8,511.4M531.8,503.3Q531.5,490.9 533.9,478.8M530.7,502.5Q518.1,505.2 506.3,510.0M529.6,501.8Q519.3,499.3 508.8,498.9M527.4,500.2Q516.5,507.0 506.3,514.8M526.3,499.5Q512.5,499.6 499.5,504.3M525.2,498.7Q527.5,489.4 533.3,481.7M523.1,497.2Q511.5,505.1 503.2,516.3M522.0,496.4Q511.2,491.9 499.6,491.8M519.8,494.9Q506.7,494.2 493.6,493.3M519.8,494.9Q509.7,498.6 499.5,501.9M594.4,534.2Q593.8,524.6 589.6,516.0M595.5,533.3Q598.3,524.1 597.5,514.5M596.5,532.5Q606.7,531.1 617.0,532.1M605.9,525.1Q606.4,516.5 605.0,508.1M607.0,524.3Q606.6,515.2 602.2,507.3M611.1,521.0Q608.7,512.1 604.4,504.0M611.1,521.0Q620.9,526.2 627.3,535.2M613.2,519.3Q618.5,511.6 619.2,502.3M620.6,513.6Q632.3,513.7 643.0,518.4M621.6,512.7Q622.5,501.1 622.3,489.5M621.6,512.7Q632.3,516.5 640.6,524.1M626.8,508.6Q632.1,500.8 635.2,491.9M626.8,508.6Q636.7,507.2 646.7,507.2M628.9,507.0Q640.1,509.1 650.0,514.7M630.0,506.1Q641.7,510.9 652.3,517.7M630.0,506.1Q637.4,511.7 643.4,518.7M632.1,504.5Q643.7,507.5 653.2,514.8M635.2,502.0Q647.6,499.9 660.2,499.5M637.3,500.4Q639.8,490.9 639.5,481.2M638.3,499.5Q633.4,487.2 626.4,476.0M639.4,498.7Q636.9,488.9 632.7,479.7M639.4,498.7Q649.2,502.7 657.7,509.0M648.8,491.3Q659.3,489.2 669.8,491.3M648.8,491.3Q660.7,487.1 671.3,480.4M648.8,491.3Q658.4,493.4 668.2,491.9M648.8,491.3Q649.9,478.3 650.5,465.2M648.8,491.3Q658.7,494.4 668.3,498.1M571.1,519.2Q571.9,509.5 577.2,501.3M570.4,518.1Q564.2,513.8 557.2,511.0M570.4,518.1Q560.1,517.7 550.5,521.3M569.7,517.1Q560.8,514.9 551.8,514.1M569.7,517.1Q568.3,508.1 569.5,499.1M568.3,514.9Q558.4,511.6 548.0,509.8M566.2,511.7Q562.3,502.8 563.3,493.0M564.1,508.5Q555.7,509.0 547.5,511.3M564.1,508.5Q563.5,498.6 565.1,488.8M562.7,506.4Q566.3,495.8 571.9,486.1M561.3,504.3Q558.3,496.2 559.7,487.8M561.3,504.3Q560.3,494.7 563.4,485.7M557.8,498.9Q553.7,490.1 554.5,480.3M557.1,497.9Q553.8,489.9 554.2,481.3M556.4,496.8Q545.8,499.6 536.3,505.3M555.0,494.6Q546.3,495.9 538.5,500.0M554.3,493.6Q558.3,483.7 564.8,475.3M551.6,489.3Q540.5,491.2 530.1,495.3M544.6,478.6Q534.0,476.4 523.4,478.1M543.2,476.5Q536.2,468.9 528.5,461.9M543.2,476.5Q535.2,470.5 528.5,463.1M543.2,476.5Q536.6,469.1 530.6,461.2M543.2,476.5Q540.4,467.1 535.0,459.0M597.9,517.5Q598.0,509.7 594.5,502.6M597.9,517.5Q605.8,510.8 615.0,505.7M598.7,515.1Q607.1,508.8 616.6,504.2M599.6,512.7Q606.2,508.0 614.0,506.3M600.5,510.3Q598.1,502.6 592.9,496.5M600.9,509.1Q608.7,505.9 616.9,504.5M601.4,507.9Q599.5,497.3 595.6,487.2M606.2,494.6Q605.1,486.4 601.7,478.8M607.5,491.0Q604.2,481.5 599.9,472.4M610.6,482.6Q609.4,472.4 605.0,463.0M611.5,480.2Q611.6,469.0 608.7,458.2M611.5,480.2Q616.1,469.3 620.0,458.0M611.5,480.2Q619.3,475.2 627.7,471.4M611.5,480.2Q623.1,480.2 634.4,477.2M611.5,480.2Q605.3,471.1 602.2,460.5M564.0,419.5Q564.2,411.2 565.6,403.1" fill="none" stroke="#8FBF99" stroke-width="0.72" stroke-linecap="round"/><path d="M570.0,434.0Q565.1,428.1 558.3,424.4M570.0,434.0Q573.2,427.1 578.0,421.1M569.4,432.7Q571.8,425.0 576.3,418.3M568.9,431.4Q560.5,431.6 552.9,434.9M568.9,431.4Q563.0,428.6 556.6,426.9M568.9,431.4Q569.3,423.8 573.7,417.7M568.4,430.1Q562.1,426.9 555.1,426.0M568.4,430.1Q570.1,422.1 574.5,415.2M568.4,430.1Q569.5,423.0 574.2,417.5M567.8,428.7Q563.5,422.4 556.2,419.9M567.8,428.7Q571.2,421.1 576.5,414.7M567.8,428.7Q568.0,419.6 569.5,410.6M567.3,427.4Q560.6,423.8 553.2,422.8M567.3,427.4Q567.2,419.5 570.0,412.2M567.3,427.4Q572.2,420.9 578.8,416.1M566.7,426.1Q559.3,421.3 550.8,419.3M566.7,426.1Q573.3,420.1 580.7,415.2M566.2,424.8Q558.2,422.8 550.0,424.1M566.2,424.8Q557.8,424.5 549.7,426.4M566.2,424.8Q568.3,417.5 572.0,410.8M565.6,423.5Q565.6,413.6 569.8,404.7M565.6,423.5Q568.7,415.0 574.4,408.0M565.1,422.1Q557.5,419.0 549.4,417.9M565.1,422.1Q571.8,414.6 581.2,411.0M565.1,422.1Q571.2,414.2 580.1,409.5M564.5,420.8Q556.0,416.9 546.9,414.3M564.5,420.8Q558.1,416.4 550.6,414.3M564.5,420.8Q567.7,412.0 574.5,405.5M564.5,420.8Q571.2,412.7 580.0,407.1M564.0,419.5Q553.3,419.9 543.7,424.7M564.0,419.5Q557.3,415.2 549.7,412.8M564.0,419.5Q563.6,410.0 567.1,401.2M564.0,419.5Q567.3,411.5 573.2,405.2M564.0,419.5Q570.5,411.7 574.8,402.4M564.0,419.5Q558.4,414.8 553.5,409.5M564.0,419.5Q555.2,414.1 545.1,412.4M564.0,419.5Q564.9,410.9 563.1,402.5M564.0,419.5Q569.0,413.4 571.6,405.9M564.0,419.5Q557.3,415.2 550.5,411.0M564.0,419.5Q569.1,413.9 570.5,406.5M564.0,419.5Q558.2,413.9 550.9,410.4M564.0,419.5Q556.5,417.2 550.1,412.6M564.0,419.5Q567.1,412.7 573.1,408.4M564.0,419.5Q556.4,413.9 549.4,407.6M564.0,419.5Q555.5,416.9 547.9,412.2M564.0,419.5Q566.7,409.8 568.9,399.9M564.0,419.5Q555.6,414.3 549.8,406.4M564.0,419.5Q568.2,411.3 575.0,405.2" fill="none" stroke="#33564A" stroke-width="0.8" stroke-linecap="round" opacity="0.8"/><polygon points="587.5,586.0 587.8,398.5 586.8,398.5 583.1,586.0" fill="#B8681E"/><polygon points="586.0,521.6 583.4,518.7 586.0,519.2" fill="#A85E1C"/><polygon points="586.0,521.6 588.6,518.8 586.0,519.2" fill="#A85E1C"/><polygon points="586.0,518.0 583.4,515.2 586.1,515.6" fill="#A85E1C"/><polygon points="586.0,518.0 588.7,515.2 586.1,515.6" fill="#A85E1C"/><polygon points="586.1,514.4 583.5,511.6 586.1,512.0" fill="#A85E1C"/><polygon points="586.1,514.4 588.7,511.6 586.1,512.0" fill="#A85E1C"/><polygon points="586.1,510.8 583.5,508.0 586.1,508.4" fill="#A85E1C"/><polygon points="586.1,510.8 588.8,508.0 586.1,508.4" fill="#A85E1C"/><polygon points="586.1,507.2 583.6,504.4 586.2,504.8" fill="#A85E1C"/><polygon points="586.1,507.2 588.8,504.5 586.2,504.8" fill="#A85E1C"/><polygon points="586.2,503.7 583.6,500.8 586.2,501.3" fill="#A85E1C"/><polygon points="586.2,503.7 588.8,500.9 586.2,501.3" fill="#A85E1C"/><polygon points="586.2,500.1 583.6,497.2 586.2,497.7" fill="#A85E1C"/><polygon points="586.2,500.1 588.9,497.3 586.2,497.7" fill="#A85E1C"/><polygon points="586.3,496.5 583.7,493.7 586.3,494.1" fill="#A85E1C"/><polygon points="586.3,496.5 588.9,493.7 586.3,494.1" fill="#A85E1C"/><polygon points="586.3,492.9 583.7,490.1 586.3,490.5" fill="#A85E1C"/><polygon points="586.3,492.9 588.9,490.1 586.3,490.5" fill="#A85E1C"/><polygon points="586.3,489.3 583.7,486.5 586.4,486.9" fill="#A85E1C"/><polygon points="586.3,489.3 589.0,486.5 586.4,486.9" fill="#A85E1C"/><polygon points="586.4,485.7 583.8,482.9 586.4,483.3" fill="#A85E1C"/><polygon points="586.4,485.7 589.0,483.0 586.4,483.3" fill="#A85E1C"/><polygon points="586.4,482.1 583.8,479.3 586.4,479.7" fill="#A85E1C"/><polygon points="586.4,482.1 589.1,479.4 586.4,479.7" fill="#A85E1C"/><polygon points="586.4,478.6 583.9,475.7 586.5,476.2" fill="#A85E1C"/><polygon points="586.4,478.6 589.1,475.8 586.5,476.2" fill="#A85E1C"/><polygon points="586.5,475.0 583.9,472.1 586.5,472.6" fill="#A85E1C"/><polygon points="586.5,475.0 589.1,472.2 586.5,472.6" fill="#A85E1C"/><polygon points="586.5,471.4 583.9,468.6 586.5,469.0" fill="#A85E1C"/><polygon points="586.5,471.4 589.2,468.6 586.5,469.0" fill="#A85E1C"/><polygon points="586.6,467.8 584.0,465.0 586.6,465.4" fill="#A85E1C"/><polygon points="586.6,467.8 589.2,465.0 586.6,465.4" fill="#A85E1C"/><polygon points="586.6,464.2 584.0,461.4 586.6,461.8" fill="#A85E1C"/><polygon points="586.6,464.2 589.2,461.5 586.6,461.8" fill="#A85E1C"/><polygon points="586.6,460.6 584.0,457.8 586.7,458.2" fill="#A85E1C"/><polygon points="586.6,460.6 589.3,457.9 586.7,458.2" fill="#A85E1C"/><polygon points="586.7,457.1 584.1,454.2 586.7,454.7" fill="#A85E1C"/><polygon points="586.7,457.1 589.3,454.3 586.7,454.7" fill="#A85E1C"/><polygon points="586.7,453.5 584.1,450.6 586.7,451.1" fill="#A85E1C"/><polygon points="586.7,453.5 589.4,450.7 586.7,451.1" fill="#A85E1C"/><polygon points="586.8,449.9 584.2,447.1 586.8,447.5" fill="#A85E1C"/><polygon points="586.8,449.9 589.4,447.1 586.8,447.5" fill="#A85E1C"/><polygon points="586.8,446.3 584.2,443.5 586.8,443.9" fill="#A85E1C"/><polygon points="586.8,446.3 589.4,443.5 586.8,443.9" fill="#A85E1C"/><polygon points="586.8,442.7 584.2,439.9 586.9,440.3" fill="#A85E1C"/><polygon points="586.8,442.7 589.5,439.9 586.9,440.3" fill="#A85E1C"/><polygon points="586.9,439.1 584.3,436.3 586.9,436.7" fill="#A85E1C"/><polygon points="586.9,439.1 589.5,436.4 586.9,436.7" fill="#A85E1C"/><polygon points="586.9,435.5 584.3,432.7 586.9,433.1" fill="#A85E1C"/><polygon points="586.9,435.5 589.6,432.8 586.9,433.1" fill="#A85E1C"/><polygon points="586.9,432.0 584.4,429.1 587.0,429.6" fill="#A85E1C"/><polygon points="586.9,432.0 589.6,429.2 587.0,429.6" fill="#A85E1C"/><polygon points="587.0,428.4 584.4,425.5 587.0,426.0" fill="#A85E1C"/><polygon points="587.0,428.4 589.6,425.6 587.0,426.0" fill="#A85E1C"/><polygon points="587.0,424.8 584.4,422.0 587.0,422.4" fill="#A85E1C"/><polygon points="587.0,424.8 589.7,422.0 587.0,422.4" fill="#A85E1C"/><polygon points="587.1,421.2 584.5,418.4 587.1,418.8" fill="#A85E1C"/><polygon points="587.1,421.2 589.7,418.4 587.1,418.8" fill="#A85E1C"/><polygon points="587.1,417.6 584.5,414.8 587.1,415.2" fill="#A85E1C"/><polygon points="587.1,417.6 589.7,414.9 587.1,415.2" fill="#A85E1C"/><polygon points="587.1,414.0 584.5,411.2 587.2,411.6" fill="#A85E1C"/><polygon points="587.1,414.0 589.8,411.3 587.2,411.6" fill="#A85E1C"/><polygon points="587.2,410.5 584.6,407.6 587.2,408.1" fill="#A85E1C"/><polygon points="587.2,410.5 589.8,407.7 587.2,408.1" fill="#A85E1C"/><polygon points="587.2,406.9 584.6,404.0 587.2,404.5" fill="#A85E1C"/><polygon points="587.2,406.9 589.9,404.1 587.2,404.5" fill="#A85E1C"/><polygon points="587.2,403.3 584.7,400.5 587.3,400.9" fill="#A85E1C"/><polygon points="587.2,403.3 589.9,400.5 587.3,400.9" fill="#A85E1C"/><ellipse cx="587.3" cy="400.0" rx="3.2" ry="1.7" fill="#A5601F" transform="rotate(-89 587.3 400.0)"/><polygon points="586.1,473.3 542.9,433.8 542.3,434.6 583.9,475.7" fill="#B8681E"/><polygon points="571.0,461.2 567.4,461.0 569.3,459.6" fill="#A85E1C"/><polygon points="571.0,461.2 570.6,457.6 569.3,459.6" fill="#A85E1C"/><polygon points="568.3,458.6 564.7,458.3 566.5,456.9" fill="#A85E1C"/><polygon points="568.3,458.6 567.8,455.0 566.5,456.9" fill="#A85E1C"/><polygon points="565.5,456.0 561.9,455.7 563.8,454.3" fill="#A85E1C"/><polygon points="565.5,456.0 565.1,452.4 563.8,454.3" fill="#A85E1C"/><polygon points="562.8,453.4 559.2,453.1 561.0,451.7" fill="#A85E1C"/><polygon points="562.8,453.4 562.3,449.8 561.0,451.7" fill="#A85E1C"/><polygon points="560.0,450.7 556.4,450.5 558.3,449.1" fill="#A85E1C"/><polygon points="560.0,450.7 559.6,447.2 558.3,449.1" fill="#A85E1C"/><polygon points="557.2,448.1 553.6,447.9 555.5,446.5" fill="#A85E1C"/><polygon points="557.2,448.1 556.8,444.5 555.5,446.5" fill="#A85E1C"/><polygon points="554.5,445.5 550.9,445.2 552.8,443.9" fill="#A85E1C"/><polygon points="554.5,445.5 554.0,441.9 552.8,443.9" fill="#A85E1C"/><polygon points="551.7,442.9 548.1,442.6 550.0,441.2" fill="#A85E1C"/><polygon points="551.7,442.9 551.3,439.3 550.0,441.2" fill="#A85E1C"/><polygon points="549.0,440.3 545.4,440.0 547.2,438.6" fill="#A85E1C"/><polygon points="549.0,440.3 548.5,436.7 547.2,438.6" fill="#A85E1C"/><polygon points="546.2,437.6 542.6,437.4 544.5,436.0" fill="#A85E1C"/><polygon points="546.2,437.6 545.8,434.1 544.5,436.0" fill="#A85E1C"/><ellipse cx="543.7" cy="435.2" rx="3.2" ry="1.7" fill="#A5601F" transform="rotate(-136 543.7 435.2)"/><polygon points="587.6,475.8 632.0,436.6 631.4,435.8 585.4,473.2" fill="#B8681E"/><polygon points="601.4,461.9 602.1,458.3 603.2,460.3" fill="#A85E1C"/><polygon points="601.4,461.9 605.0,461.8 603.2,460.3" fill="#A85E1C"/><polygon points="604.3,459.4 605.0,455.8 606.2,457.8" fill="#A85E1C"/><polygon points="604.3,459.4 608.0,459.3 606.2,457.8" fill="#A85E1C"/><polygon points="607.3,456.9 607.9,453.3 609.1,455.3" fill="#A85E1C"/><polygon points="607.3,456.9 610.9,456.8 609.1,455.3" fill="#A85E1C"/><polygon points="610.2,454.4 610.9,450.8 612.0,452.9" fill="#A85E1C"/><polygon points="610.2,454.4 613.8,454.3 612.0,452.9" fill="#A85E1C"/><polygon points="613.2,451.9 613.8,448.4 615.0,450.4" fill="#A85E1C"/><polygon points="613.2,451.9 616.8,451.8 615.0,450.4" fill="#A85E1C"/><polygon points="616.1,449.4 616.8,445.9 617.9,447.9" fill="#A85E1C"/><polygon points="616.1,449.4 619.7,449.4 617.9,447.9" fill="#A85E1C"/><polygon points="619.0,446.9 619.7,443.4 620.9,445.4" fill="#A85E1C"/><polygon points="619.0,446.9 622.6,446.9 620.9,445.4" fill="#A85E1C"/><polygon points="622.0,444.4 622.6,440.9 623.8,442.9" fill="#A85E1C"/><polygon points="622.0,444.4 625.6,444.4 623.8,442.9" fill="#A85E1C"/><polygon points="624.9,442.0 625.6,438.4 626.7,440.4" fill="#A85E1C"/><polygon points="624.9,442.0 628.5,441.9 626.7,440.4" fill="#A85E1C"/><polygon points="627.8,439.5 628.5,435.9 629.7,437.9" fill="#A85E1C"/><polygon points="627.8,439.5 631.5,439.4 629.7,437.9" fill="#A85E1C"/><ellipse cx="630.6" cy="437.2" rx="3.2" ry="1.7" fill="#A5601F" transform="rotate(-40 630.6 437.2)"/><polygon points="585.0,538.6 520.1,494.5 519.5,495.3 583.0,541.4" fill="#B8681E"/><polygon points="562.5,524.9 558.9,525.2 560.5,523.5" fill="#A85E1C"/><polygon points="562.5,524.9 561.6,521.4 560.5,523.5" fill="#A85E1C"/><polygon points="559.5,522.8 555.9,523.1 557.6,521.4" fill="#A85E1C"/><polygon points="559.5,522.8 558.6,519.3 557.6,521.4" fill="#A85E1C"/><polygon points="556.6,520.7 552.9,521.0 554.6,519.3" fill="#A85E1C"/><polygon points="556.6,520.7 555.6,517.2 554.6,519.3" fill="#A85E1C"/><polygon points="553.6,518.6 549.9,518.9 551.6,517.2" fill="#A85E1C"/><polygon points="553.6,518.6 552.6,515.1 551.6,517.2" fill="#A85E1C"/><polygon points="550.6,516.5 547.0,516.8 548.6,515.1" fill="#A85E1C"/><polygon points="550.6,516.5 549.6,513.0 548.6,515.1" fill="#A85E1C"/><polygon points="547.6,514.4 544.0,514.7 545.6,513.1" fill="#A85E1C"/><polygon points="547.6,514.4 546.7,510.9 545.6,513.1" fill="#A85E1C"/><polygon points="544.6,512.3 541.0,512.6 542.7,511.0" fill="#A85E1C"/><polygon points="544.6,512.3 543.7,508.8 542.7,511.0" fill="#A85E1C"/><polygon points="541.6,510.2 538.0,510.5 539.7,508.9" fill="#A85E1C"/><polygon points="541.6,510.2 540.7,506.7 539.7,508.9" fill="#A85E1C"/><polygon points="538.7,508.2 535.0,508.4 536.7,506.8" fill="#A85E1C"/><polygon points="538.7,508.2 537.7,504.6 536.7,506.8" fill="#A85E1C"/><polygon points="535.7,506.1 532.1,506.3 533.7,504.7" fill="#A85E1C"/><polygon points="535.7,506.1 534.7,502.6 533.7,504.7" fill="#A85E1C"/><polygon points="532.7,504.0 529.1,504.3 530.7,502.6" fill="#A85E1C"/><polygon points="532.7,504.0 531.7,500.5 530.7,502.6" fill="#A85E1C"/><polygon points="529.7,501.9 526.1,502.2 527.8,500.5" fill="#A85E1C"/><polygon points="529.7,501.9 528.8,498.4 527.8,500.5" fill="#A85E1C"/><polygon points="526.7,499.8 523.1,500.1 524.8,498.4" fill="#A85E1C"/><polygon points="526.7,499.8 525.8,496.3 524.8,498.4" fill="#A85E1C"/><polygon points="523.8,497.7 520.1,498.0 521.8,496.3" fill="#A85E1C"/><polygon points="523.8,497.7 522.8,494.2 521.8,496.3" fill="#A85E1C"/><ellipse cx="521.0" cy="495.8" rx="3.2" ry="1.7" fill="#A5601F" transform="rotate(-145 521.0 495.8)"/><polygon points="588.1,541.3 649.1,491.7 648.5,490.9 585.9,538.7" fill="#B8681E"/><polygon points="607.7,523.7 608.5,520.1 609.6,522.2" fill="#A85E1C"/><polygon points="607.7,523.7 611.3,523.8 609.6,522.2" fill="#A85E1C"/><polygon points="610.6,521.4 611.3,517.9 612.4,520.0" fill="#A85E1C"/><polygon points="610.6,521.4 614.2,521.5 612.4,520.0" fill="#A85E1C"/><polygon points="613.4,519.2 614.2,515.6 615.3,517.7" fill="#A85E1C"/><polygon points="613.4,519.2 617.1,519.3 615.3,517.7" fill="#A85E1C"/><polygon points="616.3,516.9 617.1,513.4 618.2,515.4" fill="#A85E1C"/><polygon points="616.3,516.9 619.9,517.0 618.2,515.4" fill="#A85E1C"/><polygon points="619.2,514.7 619.9,511.1 621.0,513.2" fill="#A85E1C"/><polygon points="619.2,514.7 622.8,514.7 621.0,513.2" fill="#A85E1C"/><polygon points="622.0,512.4 622.8,508.8 623.9,510.9" fill="#A85E1C"/><polygon points="622.0,512.4 625.7,512.5 623.9,510.9" fill="#A85E1C"/><polygon points="624.9,510.1 625.7,506.6 626.8,508.6" fill="#A85E1C"/><polygon points="624.9,510.1 628.5,510.2 626.8,508.6" fill="#A85E1C"/><polygon points="627.8,507.9 628.5,504.3 629.7,506.4" fill="#A85E1C"/><polygon points="627.8,507.9 631.4,508.0 629.7,506.4" fill="#A85E1C"/><polygon points="630.6,505.6 631.4,502.1 632.5,504.1" fill="#A85E1C"/><polygon points="630.6,505.6 634.3,505.7 632.5,504.1" fill="#A85E1C"/><polygon points="633.5,503.3 634.3,499.8 635.4,501.9" fill="#A85E1C"/><polygon points="633.5,503.3 637.1,503.4 635.4,501.9" fill="#A85E1C"/><polygon points="636.4,501.1 637.1,497.5 638.3,499.6" fill="#A85E1C"/><polygon points="636.4,501.1 640.0,501.2 638.3,499.6" fill="#A85E1C"/><polygon points="639.2,498.8 640.0,495.3 641.1,497.3" fill="#A85E1C"/><polygon points="639.2,498.8 642.9,498.9 641.1,497.3" fill="#A85E1C"/><polygon points="642.1,496.6 642.9,493.0 644.0,495.1" fill="#A85E1C"/><polygon points="642.1,496.6 645.8,496.7 644.0,495.1" fill="#A85E1C"/><polygon points="645.0,494.3 645.8,490.7 646.9,492.8" fill="#A85E1C"/><polygon points="645.0,494.3 648.6,494.4 646.9,492.8" fill="#A85E1C"/><ellipse cx="647.6" cy="492.2" rx="3.2" ry="1.7" fill="#A5601F" transform="rotate(-38 647.6 492.2)"/><polygon points="584.1,536.8 543.6,476.2 542.8,476.8 581.9,538.2" fill="#B8681E"/><polygon points="569.7,517.2 566.5,515.9 568.4,515.1" fill="#A85E1C"/><polygon points="569.7,517.2 569.9,513.7 568.4,515.1" fill="#A85E1C"/><polygon points="567.7,514.1 564.5,512.9 566.4,512.1" fill="#A85E1C"/><polygon points="567.7,514.1 567.9,510.6 566.4,512.1" fill="#A85E1C"/><polygon points="565.7,511.1 562.5,509.8 564.4,509.0" fill="#A85E1C"/><polygon points="565.7,511.1 566.0,507.6 564.4,509.0" fill="#A85E1C"/><polygon points="563.8,508.0 560.5,506.8 562.4,506.0" fill="#A85E1C"/><polygon points="563.8,508.0 564.0,504.5 562.4,506.0" fill="#A85E1C"/><polygon points="561.8,505.0 558.5,503.7 560.5,502.9" fill="#A85E1C"/><polygon points="561.8,505.0 562.0,501.5 560.5,502.9" fill="#A85E1C"/><polygon points="559.8,501.9 556.5,500.7 558.5,499.9" fill="#A85E1C"/><polygon points="559.8,501.9 560.0,498.4 558.5,499.9" fill="#A85E1C"/><polygon points="557.8,498.9 554.5,497.6 556.5,496.8" fill="#A85E1C"/><polygon points="557.8,498.9 558.0,495.4 556.5,496.8" fill="#A85E1C"/><polygon points="555.8,495.8 552.5,494.6 554.5,493.8" fill="#A85E1C"/><polygon points="555.8,495.8 556.0,492.3 554.5,493.8" fill="#A85E1C"/><polygon points="553.8,492.8 550.5,491.5 552.5,490.7" fill="#A85E1C"/><polygon points="553.8,492.8 554.0,489.3 552.5,490.7" fill="#A85E1C"/><polygon points="551.8,489.7 548.5,488.5 550.5,487.7" fill="#A85E1C"/><polygon points="551.8,489.7 552.0,486.2 550.5,487.7" fill="#A85E1C"/><polygon points="549.8,486.7 546.6,485.4 548.5,484.6" fill="#A85E1C"/><polygon points="549.8,486.7 550.0,483.2 548.5,484.6" fill="#A85E1C"/><polygon points="547.8,483.6 544.6,482.4 546.5,481.6" fill="#A85E1C"/><polygon points="547.8,483.6 548.0,480.1 546.5,481.6" fill="#A85E1C"/><polygon points="545.8,480.6 542.6,479.3 544.5,478.5" fill="#A85E1C"/><polygon points="545.8,480.6 546.1,477.1 544.5,478.5" fill="#A85E1C"/><ellipse cx="544.0" cy="477.8" rx="3.2" ry="1.7" fill="#A5601F" transform="rotate(-123 544.0 477.8)"/><polygon points="593.2,533.9 612.0,480.4 611.0,480.0 590.8,533.1" fill="#B8681E"/><polygon points="598.4,516.0 597.4,512.6 599.2,513.7" fill="#A85E1C"/><polygon points="598.4,516.0 601.3,514.1 599.2,513.7" fill="#A85E1C"/><polygon points="599.7,512.5 598.7,509.2 600.5,510.3" fill="#A85E1C"/><polygon points="599.7,512.5 602.6,510.6 600.5,510.3" fill="#A85E1C"/><polygon points="600.9,509.0 600.0,505.7 601.8,506.8" fill="#A85E1C"/><polygon points="600.9,509.0 603.9,507.1 601.8,506.8" fill="#A85E1C"/><polygon points="602.2,505.6 601.2,502.2 603.0,503.3" fill="#A85E1C"/><polygon points="602.2,505.6 605.1,503.7 603.0,503.3" fill="#A85E1C"/><polygon points="603.5,502.1 602.5,498.8 604.3,499.9" fill="#A85E1C"/><polygon points="603.5,502.1 606.4,500.2 604.3,499.9" fill="#A85E1C"/><polygon points="604.8,498.6 603.8,495.3 605.6,496.4" fill="#A85E1C"/><polygon points="604.8,498.6 607.7,496.7 605.6,496.4" fill="#A85E1C"/><polygon points="606.0,495.2 605.0,491.8 606.8,492.9" fill="#A85E1C"/><polygon points="606.0,495.2 608.9,493.3 606.8,492.9" fill="#A85E1C"/><polygon points="607.3,491.7 606.3,488.4 608.1,489.5" fill="#A85E1C"/><polygon points="607.3,491.7 610.2,489.8 608.1,489.5" fill="#A85E1C"/><polygon points="608.6,488.3 607.6,484.9 609.4,486.0" fill="#A85E1C"/><polygon points="608.6,488.3 611.5,486.3 609.4,486.0" fill="#A85E1C"/><polygon points="609.8,484.8 608.8,481.4 610.6,482.5" fill="#A85E1C"/><polygon points="609.8,484.8 612.7,482.9 610.6,482.5" fill="#A85E1C"/><ellipse cx="611.0" cy="481.6" rx="3.2" ry="1.7" fill="#A5601F" transform="rotate(-70 611.0 481.6)"/><polygon points="571.5,435.7 564.5,419.3 563.5,419.7 570.1,436.3" fill="#7A4A22"/><path d="M586.5,458.7Q590.2,451.6 595.6,445.7M586.5,455.6Q591.8,449.3 599.3,445.9M586.5,454.1Q578.0,448.6 568.4,445.7M586.6,451.0Q578.0,445.5 568.5,442.1M586.8,437.1Q579.8,429.3 571.1,423.6M586.8,434.0Q578.3,426.7 567.7,422.8M586.8,432.5Q577.8,424.1 566.8,418.6M586.9,427.8Q594.0,422.6 602.1,419.2M587.0,421.7Q589.5,412.6 595.6,405.4M587.0,418.6Q579.6,408.3 571.2,398.9M587.1,412.4Q580.8,402.7 571.0,396.6M587.1,410.9Q596.5,403.3 607.1,397.7M585.3,592.0Q581.0,583.8 574.5,577.1M585.3,592.0Q588.4,583.8 595.1,578.1M585.5,574.9Q589.6,563.4 597.1,553.8M586.0,529.4Q582.1,522.1 576.6,515.9M586.2,490.6Q590.7,481.8 596.8,474.2M578.9,468.7Q579.3,457.6 583.8,447.4M573.7,463.8Q571.9,452.9 573.3,441.9M572.7,462.8Q575.2,454.3 581.8,448.4M571.6,461.8Q560.4,463.6 550.6,469.3M568.5,458.8Q571.1,450.1 574.7,441.8M566.4,456.9Q558.2,452.8 549.1,452.8M566.4,456.9Q565.1,448.0 565.8,439.2M564.4,454.9Q554.3,454.9 545.4,459.7M564.4,454.9Q560.1,446.5 559.7,437.2M555.0,446.0Q545.3,440.9 534.3,440.4M547.8,439.1Q544.8,428.8 543.8,418.1M594.1,468.1Q604.5,468.6 613.6,473.7M595.1,467.2Q592.8,459.2 587.3,452.9M598.4,464.4Q602.0,456.1 600.7,447.2M599.4,463.5Q610.6,465.5 620.0,471.9M601.6,461.7Q603.4,451.4 603.3,440.8M613.4,451.7Q617.1,443.2 616.9,434.0M617.7,448.0Q622.3,438.3 623.4,427.6M619.9,446.2Q628.9,449.0 636.6,454.5M620.9,445.3Q631.4,444.2 641.9,445.4M630.6,437.1Q640.3,440.0 648.8,445.6M631.7,436.2Q628.8,424.6 622.6,414.3M631.7,436.2Q634.9,426.6 634.1,416.6M567.6,528.5Q558.2,533.2 550.6,540.4M561.1,523.9Q548.9,524.2 537.2,527.5M557.8,521.6Q548.7,526.8 543.0,535.6M551.3,517.0Q547.5,506.0 546.8,494.4M550.2,516.3Q541.6,514.7 532.9,516.0M548.0,514.7Q536.1,511.1 523.7,509.7M540.4,509.4Q529.7,514.5 521.4,523.1M538.3,507.9Q531.8,499.7 528.5,489.7M536.1,506.3Q528.1,511.7 521.5,518.7M535.0,505.6Q524.7,506.1 515.3,510.4M523.1,497.2Q510.7,494.2 498.2,492.6M522.0,496.4Q522.4,485.8 526.5,476.0M519.8,494.9Q516.0,481.8 513.4,468.5M597.6,531.7Q599.1,521.7 598.7,511.5M600.7,529.2Q597.6,517.8 590.3,508.4M605.9,525.1Q615.4,528.5 622.7,535.4M618.5,515.2Q624.8,506.7 627.3,496.4M618.5,515.2Q628.0,513.7 637.6,514.1M623.7,511.1Q634.6,509.7 645.4,512.2M631.0,505.3Q626.5,493.1 618.4,482.8M636.2,501.2Q648.0,504.4 658.4,510.6M645.7,493.8Q656.5,489.0 668.2,487.6M648.8,491.3Q644.6,482.1 638.9,473.8M559.9,502.1Q563.7,491.6 570.0,482.4M550.9,488.2Q541.1,485.6 531.0,487.0M550.2,487.2Q550.2,477.2 551.9,467.3M546.7,481.8Q551.8,471.0 558.1,460.7M545.3,479.7Q544.4,470.6 547.6,461.9M543.2,476.5Q546.9,465.5 552.3,455.2M599.6,512.7Q610.6,512.8 621.2,515.5M601.4,507.9Q598.5,500.4 592.9,494.8M602.3,505.5Q597.5,498.7 590.7,494.0M602.7,504.3Q598.7,493.7 593.0,483.9M604.0,500.7Q613.4,501.1 622.2,504.3M604.9,498.3Q613.5,497.0 621.4,500.4M605.8,495.8Q605.8,484.5 601.0,474.2M608.0,489.8Q616.7,488.5 624.7,492.1" fill="none" stroke="#5A9468" stroke-width="0.75" stroke-linecap="round"/><path d="M586.3,466.4Q582.8,457.6 576.4,450.6M586.4,464.9Q582.7,457.2 577.1,450.6M586.4,464.9Q591.7,458.9 599.0,455.6M586.5,454.1Q581.6,447.3 575.9,441.3M586.7,444.8Q591.9,436.2 599.3,429.3M587.0,420.1Q578.2,412.0 568.6,404.9M587.1,415.5Q580.7,404.2 571.4,395.2M587.3,398.5Q596.7,393.8 607.3,393.3M585.3,592.0Q588.9,583.0 596.5,577.0M585.4,583.5Q581.3,573.8 574.6,565.7M585.4,583.5Q590.7,573.0 599.2,564.9M585.6,566.4Q580.5,554.8 571.8,545.9M585.7,553.5Q581.5,544.5 576.1,536.1M585.9,532.9Q583.3,527.4 578.5,523.6M585.9,532.9Q590.6,525.5 598.1,521.0M586.0,518.8Q583.3,510.9 577.8,504.7M586.2,490.6Q583.1,483.8 577.5,479.1M586.3,483.5Q590.2,476.4 596.7,471.5M575.8,465.7Q575.3,456.0 576.7,446.4M568.5,458.8Q569.8,448.5 572.1,438.4M564.4,454.9Q562.8,442.9 564.8,430.9M562.3,452.9Q561.9,440.9 564.5,429.1M562.3,452.9Q560.0,442.5 562.1,432.1M549.9,441.1Q540.0,436.1 529.1,434.1M544.7,436.2Q544.6,424.0 549.0,412.6M600.5,462.6Q605.6,455.0 607.6,446.1M602.7,460.8Q607.6,453.5 608.7,444.8M603.7,459.9Q606.4,450.8 607.0,441.3M613.4,451.7Q623.4,448.7 633.8,447.8M615.6,449.9Q624.2,454.2 630.3,461.7M568.7,529.2Q565.2,521.7 565.6,513.3M560.0,523.1Q549.5,521.6 539.2,523.7M555.7,520.1Q543.7,517.6 531.6,518.9M552.4,517.8Q541.2,523.7 532.8,533.2M549.1,515.5Q537.9,519.2 527.6,524.9M542.6,510.9Q541.1,501.6 542.1,492.3M536.1,506.3Q528.2,513.7 521.3,521.9M531.8,503.3Q523.2,508.5 516.2,515.5M526.3,499.5Q525.3,486.8 528.1,474.5M526.3,499.5Q529.6,487.7 536.0,477.3M520.9,495.7Q508.4,499.8 497.5,507.2M520.9,495.7Q510.3,501.6 502.3,510.6M599.6,530.0Q603.1,520.4 602.1,510.3M599.6,530.0Q608.9,533.0 616.3,539.4M599.6,530.0Q609.6,535.7 618.4,542.9M601.7,528.4Q610.7,529.6 618.6,533.9M603.8,526.7Q613.8,532.6 622.3,540.3M616.4,516.8Q616.4,505.1 612.3,494.1M619.5,514.4Q620.6,502.6 619.9,490.8M622.7,511.9Q635.5,513.6 647.1,519.6M623.7,511.1Q619.1,499.9 613.1,489.3M625.8,509.4Q638.7,511.0 650.2,517.2M635.2,502.0Q647.4,502.7 659.0,506.7M637.3,500.4Q633.8,489.8 628.3,480.1M637.3,500.4Q649.7,497.0 662.5,498.1M639.4,498.7Q643.5,485.9 643.4,472.5M647.8,492.1Q658.1,494.5 666.8,500.6M567.6,513.9Q558.9,515.4 550.5,518.2M566.9,512.8Q556.5,516.0 547.1,521.4M564.1,508.5Q565.3,499.3 567.9,490.4M560.6,503.2Q566.3,493.7 574.4,486.0M559.2,501.1Q549.3,500.7 539.6,502.7M546.7,481.8Q537.8,478.7 528.4,477.6M546.0,480.8Q548.0,470.0 553.8,460.6M606.2,494.6Q615.4,494.3 624.5,495.6M606.7,493.4Q602.0,486.5 595.0,482.0M611.1,481.4Q606.6,473.9 600.4,467.9" fill="none" stroke="#80B48C" stroke-width="0.75" stroke-linecap="round"/></g>
<g><path d="M103.6,536.6Q122.0,505.5 121.6,469.5M111.8,533.3Q127.0,512.8 128.4,487.4M126.0,527.6Q139.3,493.5 141.7,457.0M92.8,540.9Q101.6,509.8 94.6,478.2M60.9,553.6Q70.9,526.0 61.7,498.1M113.6,532.6Q118.9,497.7 112.8,463.0M103.2,536.7Q111.9,512.4 101.9,488.7M74.7,548.1Q84.6,511.0 75.7,473.6M80.3,545.9Q99.3,519.7 102.6,487.5M74.3,548.3Q95.2,520.5 97.6,485.8M133.1,524.8Q113.1,507.5 107.2,481.9M84.5,544.2Q65.3,528.3 55.7,505.3M75.2,547.9Q58.9,527.9 56.4,502.2M128.2,526.7Q111.3,507.9 106.1,483.2M120.8,529.7Q93.6,508.0 80.6,475.7M123.7,528.5Q112.5,510.9 110.8,490.1M98.8,538.5Q82.4,523.9 82.0,501.9M86.8,543.3Q75.5,522.9 74.2,499.6M87.7,544.8Q76.8,535.8 73.6,522.0M74.8,549.7Q65.8,542.6 61.5,531.9M83.5,546.4Q75.8,539.1 71.9,529.3M104.8,542.1Q122.5,555.3 137.9,571.0M127.3,533.1Q140.6,541.7 149.8,554.6M112.8,538.9Q127.9,562.8 143.9,586.2M90.7,547.7Q103.5,565.0 117.6,581.1M125.4,533.8Q137.5,553.1 156.7,565.4M109.3,540.3Q134.0,553.5 154.4,572.7M104.8,542.1Q111.2,557.3 124.0,567.7M90.8,551.1Q96.5,562.8 105.8,572.0M97.3,548.9Q108.1,559.0 119.5,568.5M84.9,553.0Q91.8,562.3 99.8,570.7M94.4,549.9Q102.5,559.5 113.7,565.1M139.0,539.5Q173.0,537.8 207.0,542.0M147.5,552.5Q170.8,552.2 194.0,556.0M150.0,563.5Q160.0,563.2 170.0,565.0M147.5,579.0Q157.8,580.2 168.0,583.5M142.0,545.0Q163.5,549.0 185.0,549.0M70.8,566.0Q81.8,571.8 92.7,583.5M80.0,563.0Q90.0,567.5 100.0,578.0" fill="none" stroke="#47904F" stroke-width="1.5" stroke-linecap="round"/><path d="M103.6,536.6Q122.0,505.5 121.6,469.5M111.8,533.3Q127.0,512.8 128.4,487.4M126.0,527.6Q139.3,493.5 141.7,457.0M92.8,540.9Q101.6,509.8 94.6,478.2M60.9,553.6Q70.9,526.0 61.7,498.1M113.6,532.6Q118.9,497.7 112.8,463.0M103.2,536.7Q111.9,512.4 101.9,488.7M74.7,548.1Q84.6,511.0 75.7,473.6M80.3,545.9Q99.3,519.7 102.6,487.5M74.3,548.3Q95.2,520.5 97.6,485.8M133.1,524.8Q113.1,507.5 107.2,481.9M84.5,544.2Q65.3,528.3 55.7,505.3M75.2,547.9Q58.9,527.9 56.4,502.2M128.2,526.7Q111.3,507.9 106.1,483.2M120.8,529.7Q93.6,508.0 80.6,475.7M123.7,528.5Q112.5,510.9 110.8,490.1M98.8,538.5Q82.4,523.9 82.0,501.9M86.8,543.3Q75.5,522.9 74.2,499.6M87.7,544.8Q76.8,535.8 73.6,522.0M74.8,549.7Q65.8,542.6 61.5,531.9M83.5,546.4Q75.8,539.1 71.9,529.3M104.8,542.1Q122.5,555.3 137.9,571.0M127.3,533.1Q140.6,541.7 149.8,554.6M112.8,538.9Q127.9,562.8 143.9,586.2M90.7,547.7Q103.5,565.0 117.6,581.1M125.4,533.8Q137.5,553.1 156.7,565.4M109.3,540.3Q134.0,553.5 154.4,572.7M104.8,542.1Q111.2,557.3 124.0,567.7M90.8,551.1Q96.5,562.8 105.8,572.0M97.3,548.9Q108.1,559.0 119.5,568.5M84.9,553.0Q91.8,562.3 99.8,570.7M94.4,549.9Q102.5,559.5 113.7,565.1M139.0,539.5Q173.0,537.8 207.0,542.0M147.5,552.5Q170.8,552.2 194.0,556.0M150.0,563.5Q160.0,563.2 170.0,565.0M147.5,579.0Q157.8,580.2 168.0,583.5M142.0,545.0Q163.5,549.0 185.0,549.0M70.8,566.0Q81.8,571.8 92.7,583.5M80.0,563.0Q90.0,567.5 100.0,578.0" fill="none" stroke="#9ED19C" stroke-width="0.55" stroke-linecap="round"/><path d="M144.6,482.9Q148.3,452.0 142.1,421.5M157.0,477.2Q167.3,449.1 181.8,422.8M155.8,477.7Q147.7,455.2 147.8,431.3M174.5,469.1Q181.2,444.8 197.5,425.5M189.3,462.3Q189.4,434.1 195.7,406.7M169.7,471.3Q178.6,444.1 189.3,417.5M142.8,483.7Q152.1,462.8 161.5,441.8M181.9,465.7Q180.5,432.9 168.5,402.4M215.8,450.6Q215.6,434.2 216.7,417.9M199.9,466.9Q200.7,448.3 202.4,429.6M228.0,438.0Q229.5,410.9 231.9,383.8M211.1,455.4Q208.7,434.4 210.5,413.4M208.3,458.3Q204.7,438.3 192.2,422.3M226.7,439.4Q223.2,418.3 223.0,397.0M197.9,469.0Q221.2,453.2 245.8,439.7M206.9,459.7Q234.4,453.9 262.6,454.2M216.9,449.4Q238.8,443.8 261.4,443.9M204.3,462.5Q229.3,449.7 256.4,442.7M204.7,462.0Q231.1,458.9 257.2,464.1M195.4,471.6Q214.3,462.1 235.2,458.9M210.3,456.3Q236.3,452.3 262.6,452.4M176.1,507.8Q210.3,486.0 247.9,470.7M176.3,507.8Q215.1,489.2 257.2,480.3M223.2,500.3Q257.1,485.0 294.2,482.8M162.5,510.0Q201.6,488.9 245.5,481.4M201.9,503.7Q234.4,477.9 275.4,470.9M208.5,502.6Q238.5,476.3 276.3,463.5M196.8,504.5Q230.9,485.8 268.6,476.0M152.1,511.7Q171.5,481.8 199.1,459.2M166.4,509.4Q196.2,482.3 236.0,476.2M185.4,506.3Q197.8,478.6 225.4,465.9M173.8,508.2Q186.2,477.6 215.8,462.9M184.9,506.4Q210.9,477.8 244.6,458.7M167.8,509.1Q192.1,493.9 220.7,493.8M170.9,508.7Q192.1,487.8 217.8,472.8M178.0,507.5Q191.9,470.2 223.6,446.1M196.3,515.6Q228.1,539.9 268.0,542.5M219.6,513.5Q255.2,538.1 297.6,547.4M181.4,517.0Q217.1,533.3 256.4,534.7M231.4,512.3Q255.5,543.2 287.3,566.0M225.9,512.9Q254.1,524.6 284.4,521.1M202.3,515.1Q237.9,534.6 278.5,533.0M181.9,517.0Q208.9,534.4 239.9,542.7M232.7,512.2Q270.4,539.5 316.6,546.2M200.6,515.2Q242.0,535.7 287.7,542.9M185.3,516.7Q226.0,538.7 271.3,547.7M174.3,517.7Q197.6,538.0 228.0,543.5M187.7,516.5Q224.1,539.7 267.1,543.6M140.8,527.9Q169.5,535.2 198.9,532.0M186.9,521.7Q215.9,517.2 244.9,520.9M199.3,520.1Q233.4,519.8 267.6,520.1M178.7,522.8Q215.1,521.6 250.7,529.5M185.6,521.9Q218.6,520.0 251.6,522.0" fill="none" stroke="#38724D" stroke-width="1.5" stroke-linecap="round"/><path d="M144.6,482.9Q148.3,452.0 142.1,421.5M157.0,477.2Q167.3,449.1 181.8,422.8M155.8,477.7Q147.7,455.2 147.8,431.3M174.5,469.1Q181.2,444.8 197.5,425.5M189.3,462.3Q189.4,434.1 195.7,406.7M169.7,471.3Q178.6,444.1 189.3,417.5M142.8,483.7Q152.1,462.8 161.5,441.8M181.9,465.7Q180.5,432.9 168.5,402.4M215.8,450.6Q215.6,434.2 216.7,417.9M199.9,466.9Q200.7,448.3 202.4,429.6M228.0,438.0Q229.5,410.9 231.9,383.8M211.1,455.4Q208.7,434.4 210.5,413.4M208.3,458.3Q204.7,438.3 192.2,422.3M226.7,439.4Q223.2,418.3 223.0,397.0M197.9,469.0Q221.2,453.2 245.8,439.7M206.9,459.7Q234.4,453.9 262.6,454.2M216.9,449.4Q238.8,443.8 261.4,443.9M204.3,462.5Q229.3,449.7 256.4,442.7M204.7,462.0Q231.1,458.9 257.2,464.1M195.4,471.6Q214.3,462.1 235.2,458.9M210.3,456.3Q236.3,452.3 262.6,452.4M176.1,507.8Q210.3,486.0 247.9,470.7M176.3,507.8Q215.1,489.2 257.2,480.3M223.2,500.3Q257.1,485.0 294.2,482.8M162.5,510.0Q201.6,488.9 245.5,481.4M201.9,503.7Q234.4,477.9 275.4,470.9M208.5,502.6Q238.5,476.3 276.3,463.5M196.8,504.5Q230.9,485.8 268.6,476.0M152.1,511.7Q171.5,481.8 199.1,459.2M166.4,509.4Q196.2,482.3 236.0,476.2M185.4,506.3Q197.8,478.6 225.4,465.9M173.8,508.2Q186.2,477.6 215.8,462.9M184.9,506.4Q210.9,477.8 244.6,458.7M167.8,509.1Q192.1,493.9 220.7,493.8M170.9,508.7Q192.1,487.8 217.8,472.8M178.0,507.5Q191.9,470.2 223.6,446.1M196.3,515.6Q228.1,539.9 268.0,542.5M219.6,513.5Q255.2,538.1 297.6,547.4M181.4,517.0Q217.1,533.3 256.4,534.7M231.4,512.3Q255.5,543.2 287.3,566.0M225.9,512.9Q254.1,524.6 284.4,521.1M202.3,515.1Q237.9,534.6 278.5,533.0M181.9,517.0Q208.9,534.4 239.9,542.7M232.7,512.2Q270.4,539.5 316.6,546.2M200.6,515.2Q242.0,535.7 287.7,542.9M185.3,516.7Q226.0,538.7 271.3,547.7M174.3,517.7Q197.6,538.0 228.0,543.5M187.7,516.5Q224.1,539.7 267.1,543.6M140.8,527.9Q169.5,535.2 198.9,532.0M186.9,521.7Q215.9,517.2 244.9,520.9M199.3,520.1Q233.4,519.8 267.6,520.1M178.7,522.8Q215.1,521.6 250.7,529.5M185.6,521.9Q218.6,520.0 251.6,522.0" fill="none" stroke="#9CC2A8" stroke-width="0.55" stroke-linecap="round"/><line x1="100" y1="548" x2="108" y2="560" stroke="#8A5526" stroke-width="1.8"/><line x1="120" y1="532" x2="112" y2="520" stroke="#8A5526" stroke-width="1.8"/><line x1="190" y1="516" x2="198" y2="528" stroke="#8A5526" stroke-width="1.8"/><line x1="222" y1="512" x2="216" y2="500" stroke="#8A5526" stroke-width="1.8"/><line x1="165" y1="520" x2="175" y2="536" stroke="#8A5526" stroke-width="1.8"/><line x1="270" y1="508" x2="282" y2="520" stroke="#8A5526" stroke-width="1.8"/><line x1="134" y1="526" x2="128" y2="546" stroke="#7A4A22" stroke-width="4"/><polygon points="137.6,526.7 175.5,519.9 215.4,514.0 255.4,508.2 300.4,499.8 337.3,494.0 336.7,490.0 299.6,495.2 254.6,502.8 214.6,508.0 174.5,513.1 136.4,519.3" fill="#A66D33" stroke="#5B3410" stroke-width="0.8" stroke-linejoin="round"/><polygon points="51.5,563.6 97.2,546.7 139.7,526.0 163.2,506.7 198.2,475.2 233.1,436.7 242.1,423.1 235.9,418.9 226.9,431.3 191.8,468.8 156.8,499.3 134.3,517.0 92.8,536.3 47.5,552.4" fill="#A66D33" stroke="#5B3410" stroke-width="0.8" stroke-linejoin="round"/><polyline points="49.5,556.5 95.0,540.0 137.0,520.0 160.0,501.5 195.0,470.5 230.0,432.5 239.0,419.5" fill="none" stroke="#B98244" stroke-width="2.2" opacity="0.7"/><ellipse cx="64.9" cy="554.1" rx="1.6" ry="2.4" fill="#6B4017" transform="rotate(25 64.9 554.1)"/><ellipse cx="88.0" cy="544.4" rx="1.6" ry="2.4" fill="#6B4017" transform="rotate(25 88.0 544.4)"/><ellipse cx="113.0" cy="534.0" rx="1.6" ry="2.4" fill="#6B4017" transform="rotate(25 113.0 534.0)"/><ellipse cx="138.1" cy="523.6" rx="1.6" ry="2.4" fill="#6B4017" transform="rotate(25 138.1 523.6)"/><g transform="translate(219 445) rotate(-25) scale(1.0)"><path d="M0,0 Q-4.5,-6 -1,-14 Q3.5,-7 4,0Z" fill="#E79A3C" stroke="#B8641C" stroke-width="0.7"/></g><g transform="translate(198 466) rotate(-35) scale(0.9)"><path d="M0,0 Q-4.5,-6 -1,-14 Q3.5,-7 4,0Z" fill="#E79A3C" stroke="#B8641C" stroke-width="0.7"/></g><g transform="translate(232 436) rotate(20) scale(0.9)"><path d="M0,0 Q-4.5,-6 -1,-14 Q3.5,-7 4,0Z" fill="#E79A3C" stroke="#B8641C" stroke-width="0.7"/></g><g transform="translate(226 452) rotate(75) scale(0.9)"><path d="M0,0 Q-4.5,-6 -1,-14 Q3.5,-7 4,0Z" fill="#E79A3C" stroke="#B8641C" stroke-width="0.7"/></g><g transform="translate(176 512) rotate(-40) scale(1.0)"><path d="M0,0 Q-4.5,-6 -1,-14 Q3.5,-7 4,0Z" fill="#E79A3C" stroke="#B8641C" stroke-width="0.7"/></g><g transform="translate(170 520) rotate(-75) scale(1.0)"><path d="M0,0 Q-4.5,-6 -1,-14 Q3.5,-7 4,0Z" fill="#E79A3C" stroke="#B8641C" stroke-width="0.7"/></g><g transform="translate(200 516) rotate(80) scale(1.0)"><path d="M0,0 Q-4.5,-6 -1,-14 Q3.5,-7 4,0Z" fill="#E79A3C" stroke="#B8641C" stroke-width="0.7"/></g><g transform="translate(148 520) rotate(-60) scale(0.8)"><path d="M0,0 Q-4.5,-6 -1,-14 Q3.5,-7 4,0Z" fill="#E79A3C" stroke="#B8641C" stroke-width="0.7"/></g><g transform="translate(234 428) rotate(-20) scale(0.8)"><path d="M0,0 Q-4.5,-6 -1,-14 Q3.5,-7 4,0Z" fill="#E79A3C" stroke="#B8641C" stroke-width="0.7"/></g><g transform="translate(240 424) rotate(35) scale(0.8)"><path d="M0,0 Q-4.5,-6 -1,-14 Q3.5,-7 4,0Z" fill="#E79A3C" stroke="#B8641C" stroke-width="0.7"/></g><g transform="translate(300 500) rotate(60) scale(0.75)"><path d="M0,0 Q-4.5,-6 -1,-14 Q3.5,-7 4,0Z" fill="#E79A3C" stroke="#B8641C" stroke-width="0.7"/></g><g transform="translate(310 497) rotate(60) scale(0.75)"><path d="M0,0 Q-4.5,-6 -1,-14 Q3.5,-7 4,0Z" fill="#E79A3C" stroke="#B8641C" stroke-width="0.7"/></g><g transform="translate(320 495) rotate(60) scale(0.75)"><path d="M0,0 Q-4.5,-6 -1,-14 Q3.5,-7 4,0Z" fill="#E79A3C" stroke="#B8641C" stroke-width="0.7"/></g><g transform="translate(330 493) rotate(62) scale(0.75)"><path d="M0,0 Q-4.5,-6 -1,-14 Q3.5,-7 4,0Z" fill="#E79A3C" stroke="#B8641C" stroke-width="0.7"/></g><g transform="translate(305 494) rotate(100) scale(0.75)"><path d="M0,0 Q-4.5,-6 -1,-14 Q3.5,-7 4,0Z" fill="#E79A3C" stroke="#B8641C" stroke-width="0.7"/></g><g transform="translate(316 492) rotate(100) scale(0.75)"><path d="M0,0 Q-4.5,-6 -1,-14 Q3.5,-7 4,0Z" fill="#E79A3C" stroke="#B8641C" stroke-width="0.7"/></g><g transform="translate(327 490) rotate(100) scale(0.75)"><path d="M0,0 Q-4.5,-6 -1,-14 Q3.5,-7 4,0Z" fill="#E79A3C" stroke="#B8641C" stroke-width="0.7"/></g><clipPath id="gc89"><path d="M88.0,499.7 L91.6,496.8 L90.8,493.5 L95.7,490.5 L95.8,486.8 L101.2,485.1 L102.3,481.4 L107.9,480.9 L109.7,477.0 L114.5,477.6 L116.9,473.8 L120.9,475.3 L124.1,472.3 L127.3,475.2 L131.5,473.6 L133.9,477.3 L138.4,476.6 L139.6,480.2 L144.1,480.3 L144.4,483.7 L148.9,484.4 L148.8,487.2 L153.6,488.4 L153.0,490.9 L156.8,492.7 L154.7,495.3 L157.3,498.0 L154.1,500.3 L155.7,503.2 L151.8,504.8 L152.5,507.8 L148.0,508.6 L147.7,511.5 L142.7,511.3 L141.3,514.1 L136.0,512.8 L133.8,515.5 L129.0,513.2 L125.5,515.6 L121.5,512.6 L116.8,514.5 L113.8,511.2 L108.0,512.0 L106.0,509.0 L100.4,509.2 L99.9,507.2 L95.1,507.4 L95.5,505.7 L91.4,505.6 L92.4,503.8 L88.6,503.2 L90.5,501.3Z"/></clipPath><path d="M88.0,499.7 L91.6,496.8 L90.8,493.5 L95.7,490.5 L95.8,486.8 L101.2,485.1 L102.3,481.4 L107.9,480.9 L109.7,477.0 L114.5,477.6 L116.9,473.8 L120.9,475.3 L124.1,472.3 L127.3,475.2 L131.5,473.6 L133.9,477.3 L138.4,476.6 L139.6,480.2 L144.1,480.3 L144.4,483.7 L148.9,484.4 L148.8,487.2 L153.6,488.4 L153.0,490.9 L156.8,492.7 L154.7,495.3 L157.3,498.0 L154.1,500.3 L155.7,503.2 L151.8,504.8 L152.5,507.8 L148.0,508.6 L147.7,511.5 L142.7,511.3 L141.3,514.1 L136.0,512.8 L133.8,515.5 L129.0,513.2 L125.5,515.6 L121.5,512.6 L116.8,514.5 L113.8,511.2 L108.0,512.0 L106.0,509.0 L100.4,509.2 L99.9,507.2 L95.1,507.4 L95.5,505.7 L91.4,505.6 L92.4,503.8 L88.6,503.2 L90.5,501.3Z" fill="#5C9A3C"/><g clip-path="url(#gc89)"><path d="M81.4,500.5L76.5,494.9L84.7,497.6Z" fill="#6FB04A"/><path d="M81.4,500.5L84.7,497.6L86.2,506.1Z" fill="#5C9A3C"/><path d="M81.4,500.5L86.2,506.1L78.0,503.4Z" fill="#5B6A16"/><ellipse cx="81.4" cy="500.5" rx="0.7" ry="1.3" fill="#4a3a12"/><path d="M76.5,494.9L84.7,497.6M76.5,494.9L78.0,503.4" stroke="#2D8050" stroke-width="0.5" fill="none"/><path d="M82.9,509.0L78.0,503.4L86.2,506.1Z" fill="#6FB04A"/><path d="M82.9,509.0L86.2,506.1L87.7,514.5Z" fill="#5C9A3C"/><path d="M82.9,509.0L87.7,514.5L79.5,511.9Z" fill="#5B6A16"/><ellipse cx="82.9" cy="509.0" rx="0.7" ry="1.3" fill="#4a3a12"/><path d="M78.0,503.4L86.2,506.1M78.0,503.4L79.5,511.9" stroke="#2D8050" stroke-width="0.5" fill="none"/><path d="M84.4,517.4L79.5,511.9L87.7,514.5Z" fill="#6FB04A"/><path d="M84.4,517.4L87.7,514.5L89.2,523.0Z" fill="#5C9A3C"/><path d="M84.4,517.4L89.2,523.0L81.0,520.3Z" fill="#5B6A16"/><ellipse cx="84.4" cy="517.4" rx="0.7" ry="1.3" fill="#4a3a12"/><path d="M79.5,511.9L87.7,514.5M79.5,511.9L81.0,520.3" stroke="#2D8050" stroke-width="0.5" fill="none"/><path d="M83.6,469.3L78.7,463.7L86.9,466.4Z" fill="#6FB04A"/><path d="M83.6,469.3L86.9,466.4L88.4,474.8Z" fill="#5C9A3C"/><path d="M83.6,469.3L88.4,474.8L80.2,472.2Z" fill="#5B6A16"/><ellipse cx="83.6" cy="469.3" rx="0.7" ry="1.3" fill="#4a3a12"/><path d="M78.7,463.7L86.9,466.4M78.7,463.7L80.2,472.2" stroke="#2D8050" stroke-width="0.5" fill="none"/><path d="M85.1,477.8L80.2,472.2L88.4,474.8Z" fill="#6FB04A"/><path d="M85.1,477.8L88.4,474.8L89.9,483.3Z" fill="#5C9A3C"/><path d="M85.1,477.8L89.9,483.3L81.7,480.7Z" fill="#5B6A16"/><ellipse cx="85.1" cy="477.8" rx="0.7" ry="1.3" fill="#4a3a12"/><path d="M80.2,472.2L88.4,474.8M80.2,472.2L81.7,480.7" stroke="#2D8050" stroke-width="0.5" fill="none"/><path d="M86.6,486.2L81.7,480.7L89.9,483.3Z" fill="#6FB04A"/><path d="M86.6,486.2L89.9,483.3L91.4,491.8Z" fill="#5C9A3C"/><path d="M86.6,486.2L91.4,491.8L83.2,489.1Z" fill="#5B6A16"/><ellipse cx="86.6" cy="486.2" rx="0.7" ry="1.3" fill="#4a3a12"/><path d="M81.7,480.7L89.9,483.3M81.7,480.7L83.2,489.1" stroke="#2D8050" stroke-width="0.5" fill="none"/><path d="M88.1,494.7L83.2,489.1L91.4,491.8Z" fill="#6FB04A"/><path d="M88.1,494.7L91.4,491.8L92.9,500.3Z" fill="#5C9A3C"/><path d="M88.1,494.7L92.9,500.3L84.7,497.6Z" fill="#5B6A16"/><ellipse cx="88.1" cy="494.7" rx="0.7" ry="1.3" fill="#4a3a12"/><path d="M83.2,489.1L91.4,491.8M83.2,489.1L84.7,497.6" stroke="#2D8050" stroke-width="0.5" fill="none"/><path d="M89.5,503.2L84.7,497.6L92.9,500.3Z" fill="#6FB04A"/><path d="M89.5,503.2L92.9,500.3L94.4,508.7Z" fill="#5C9A3C"/><path d="M89.5,503.2L94.4,508.7L86.2,506.1Z" fill="#5B6A16"/><ellipse cx="89.5" cy="503.2" rx="0.7" ry="1.3" fill="#4a3a12"/><path d="M84.7,497.6L92.9,500.3M84.7,497.6L86.2,506.1" stroke="#2D8050" stroke-width="0.5" fill="none"/><path d="M91.0,511.6L86.2,506.1L94.4,508.7Z" fill="#6FB04A"/><path d="M91.0,511.6L94.4,508.7L95.9,517.2Z" fill="#5C9A3C"/><path d="M91.0,511.6L95.9,517.2L87.7,514.5Z" fill="#5B6A16"/><ellipse cx="91.0" cy="511.6" rx="0.7" ry="1.3" fill="#4a3a12"/><path d="M86.2,506.1L94.4,508.7M86.2,506.1L87.7,514.5" stroke="#2D8050" stroke-width="0.5" fill="none"/><path d="M92.5,520.1L87.7,514.5L95.9,517.2Z" fill="#6FB04A"/><path d="M92.5,520.1L95.9,517.2L97.4,525.7Z" fill="#5C9A3C"/><path d="M92.5,520.1L97.4,525.7L89.2,523.0Z" fill="#5B6A16"/><ellipse cx="92.5" cy="520.1" rx="0.7" ry="1.3" fill="#4a3a12"/><path d="M87.7,514.5L95.9,517.2M87.7,514.5L89.2,523.0" stroke="#2D8050" stroke-width="0.5" fill="none"/><path d="M91.8,471.9L86.9,466.4L95.1,469.0Z" fill="#6FB04A"/><path d="M91.8,471.9L95.1,469.0L96.6,477.5Z" fill="#5C9A3C"/><path d="M91.8,471.9L96.6,477.5L88.4,474.8Z" fill="#5B6A16"/><ellipse cx="91.8" cy="471.9" rx="0.7" ry="1.3" fill="#4a3a12"/><path d="M86.9,466.4L95.1,469.0M86.9,466.4L88.4,474.8" stroke="#2D8050" stroke-width="0.5" fill="none"/><path d="M93.2,480.4L88.4,474.8L96.6,477.5Z" fill="#6FB04A"/><path d="M93.2,480.4L96.6,477.5L98.1,486.0Z" fill="#5C9A3C"/><path d="M93.2,480.4L98.1,486.0L89.9,483.3Z" fill="#5B6A16"/><ellipse cx="93.2" cy="480.4" rx="0.7" ry="1.3" fill="#4a3a12"/><path d="M88.4,474.8L96.6,477.5M88.4,474.8L89.9,483.3" stroke="#2D8050" stroke-width="0.5" fill="none"/><path d="M94.7,488.9L89.9,483.3L98.1,486.0Z" fill="#6FB04A"/><path d="M94.7,488.9L98.1,486.0L99.6,494.4Z" fill="#5C9A3C"/><path d="M94.7,488.9L99.6,494.4L91.4,491.8Z" fill="#5B6A16"/><ellipse cx="94.7" cy="488.9" rx="0.7" ry="1.3" fill="#4a3a12"/><path d="M89.9,483.3L98.1,486.0M89.9,483.3L91.4,491.8" stroke="#2D8050" stroke-width="0.5" fill="none"/><path d="M96.2,497.3L91.4,491.8L99.6,494.4Z" fill="#6FB04A"/><path d="M96.2,497.3L99.6,494.4L101.1,502.9Z" fill="#5C9A3C"/><path d="M96.2,497.3L101.1,502.9L92.9,500.3Z" fill="#5B6A16"/><ellipse cx="96.2" cy="497.3" rx="0.7" ry="1.3" fill="#4a3a12"/><path d="M91.4,491.8L99.6,494.4M91.4,491.8L92.9,500.3" stroke="#2D8050" stroke-width="0.5" fill="none"/><path d="M97.7,505.8L92.9,500.3L101.1,502.9Z" fill="#6FB04A"/><path d="M97.7,505.8L101.1,502.9L102.6,511.4Z" fill="#5C9A3C"/><path d="M97.7,505.8L102.6,511.4L94.4,508.7Z" fill="#5B6A16"/><ellipse cx="97.7" cy="505.8" rx="0.7" ry="1.3" fill="#4a3a12"/><path d="M92.9,500.3L101.1,502.9M92.9,500.3L94.4,508.7" stroke="#2D8050" stroke-width="0.5" fill="none"/><path d="M99.2,514.3L94.4,508.7L102.6,511.4Z" fill="#6FB04A"/><path d="M99.2,514.3L102.6,511.4L104.1,519.8Z" fill="#5C9A3C"/><path d="M99.2,514.3L104.1,519.8L95.9,517.2Z" fill="#5B6A16"/><ellipse cx="99.2" cy="514.3" rx="0.7" ry="1.3" fill="#4a3a12"/><path d="M94.4,508.7L102.6,511.4M94.4,508.7L95.9,517.2" stroke="#2D8050" stroke-width="0.5" fill="none"/><path d="M100.7,522.8L95.9,517.2L104.1,519.8Z" fill="#6FB04A"/><path d="M100.7,522.8L104.1,519.8L105.6,528.3Z" fill="#5C9A3C"/><path d="M100.7,522.8L105.6,528.3L97.4,525.7Z" fill="#5B6A16"/><ellipse cx="100.7" cy="522.8" rx="0.7" ry="1.3" fill="#4a3a12"/><path d="M95.9,517.2L104.1,519.8M95.9,517.2L97.4,525.7" stroke="#2D8050" stroke-width="0.5" fill="none"/><path d="M98.4,466.1L93.6,460.6L101.8,463.2Z" fill="#6FB04A"/><path d="M98.4,466.1L101.8,463.2L103.3,471.7Z" fill="#5C9A3C"/><path d="M98.4,466.1L103.3,471.7L95.1,469.0Z" fill="#5B6A16"/><ellipse cx="98.4" cy="466.1" rx="0.7" ry="1.3" fill="#4a3a12"/><path d="M93.6,460.6L101.8,463.2M93.6,460.6L95.1,469.0" stroke="#2D8050" stroke-width="0.5" fill="none"/><path d="M99.9,474.6L95.1,469.0L103.3,471.7Z" fill="#6FB04A"/><path d="M99.9,474.6L103.3,471.7L104.8,480.2Z" fill="#5C9A3C"/><path d="M99.9,474.6L104.8,480.2L96.6,477.5Z" fill="#5B6A16"/><ellipse cx="99.9" cy="474.6" rx="0.7" ry="1.3" fill="#4a3a12"/><path d="M95.1,469.0L103.3,471.7M95.1,469.0L96.6,477.5" stroke="#2D8050" stroke-width="0.5" fill="none"/><path d="M101.4,483.1L96.6,477.5L104.8,480.2Z" fill="#6FB04A"/><path d="M101.4,483.1L104.8,480.2L106.3,488.6Z" fill="#5C9A3C"/><path d="M101.4,483.1L106.3,488.6L98.1,486.0Z" fill="#5B6A16"/><ellipse cx="101.4" cy="483.1" rx="0.7" ry="1.3" fill="#4a3a12"/><path d="M96.6,477.5L104.8,480.2M96.6,477.5L98.1,486.0" stroke="#2D8050" stroke-width="0.5" fill="none"/><path d="M102.9,491.5L98.1,486.0L106.3,488.6Z" fill="#6FB04A"/><path d="M102.9,491.5L106.3,488.6L107.8,497.1Z" fill="#5C9A3C"/><path d="M102.9,491.5L107.8,497.1L99.6,494.4Z" fill="#5B6A16"/><ellipse cx="102.9" cy="491.5" rx="0.7" ry="1.3" fill="#4a3a12"/><path d="M98.1,486.0L106.3,488.6M98.1,486.0L99.6,494.4" stroke="#2D8050" stroke-width="0.5" fill="none"/><path d="M104.4,500.0L99.6,494.4L107.8,497.1Z" fill="#6FB04A"/><path d="M104.4,500.0L107.8,497.1L109.3,505.6Z" fill="#5C9A3C"/><path d="M104.4,500.0L109.3,505.6L101.1,502.9Z" fill="#5B6A16"/><ellipse cx="104.4" cy="500.0" rx="0.7" ry="1.3" fill="#4a3a12"/><path d="M99.6,494.4L107.8,497.1M99.6,494.4L101.1,502.9" stroke="#2D8050" stroke-width="0.5" fill="none"/><path d="M105.9,508.5L101.1,502.9L109.3,505.6Z" fill="#6FB04A"/><path d="M105.9,508.5L109.3,505.6L110.7,514.0Z" fill="#5C9A3C"/><path d="M105.9,508.5L110.7,514.0L102.6,511.4Z" fill="#5B6A16"/><ellipse cx="105.9" cy="508.5" rx="0.7" ry="1.3" fill="#4a3a12"/><path d="M101.1,502.9L109.3,505.6M101.1,502.9L102.6,511.4" stroke="#2D8050" stroke-width="0.5" fill="none"/><path d="M107.4,516.9L102.6,511.4L110.7,514.0Z" fill="#6FB04A"/><path d="M107.4,516.9L110.7,514.0L112.2,522.5Z" fill="#5C9A3C"/><path d="M107.4,516.9L112.2,522.5L104.1,519.8Z" fill="#5B6A16"/><ellipse cx="107.4" cy="516.9" rx="0.7" ry="1.3" fill="#4a3a12"/><path d="M102.6,511.4L110.7,514.0M102.6,511.4L104.1,519.8" stroke="#2D8050" stroke-width="0.5" fill="none"/><path d="M108.9,525.4L104.1,519.8L112.2,522.5Z" fill="#6FB04A"/><path d="M108.9,525.4L112.2,522.5L113.7,531.0Z" fill="#5C9A3C"/><path d="M108.9,525.4L113.7,531.0L105.6,528.3Z" fill="#5B6A16"/><ellipse cx="108.9" cy="525.4" rx="0.7" ry="1.3" fill="#4a3a12"/><path d="M104.1,519.8L112.2,522.5M104.1,519.8L105.6,528.3" stroke="#2D8050" stroke-width="0.5" fill="none"/><path d="M106.6,468.8L101.8,463.2L110.0,465.9Z" fill="#6FB04A"/><path d="M106.6,468.8L110.0,465.9L111.5,474.3Z" fill="#5C9A3C"/><path d="M106.6,468.8L111.5,474.3L103.3,471.7Z" fill="#5B6A16"/><ellipse cx="106.6" cy="468.8" rx="0.7" ry="1.3" fill="#4a3a12"/><path d="M101.8,463.2L110.0,465.9M101.8,463.2L103.3,471.7" stroke="#2D8050" stroke-width="0.5" fill="none"/><path d="M108.1,477.3L103.3,471.7L111.5,474.3Z" fill="#6FB04A"/><path d="M108.1,477.3L111.5,474.3L112.9,482.8Z" fill="#5C9A3C"/><path d="M108.1,477.3L112.9,482.8L104.8,480.2Z" fill="#5B6A16"/><ellipse cx="108.1" cy="477.3" rx="0.7" ry="1.3" fill="#4a3a12"/><path d="M103.3,471.7L111.5,474.3M103.3,471.7L104.8,480.2" stroke="#2D8050" stroke-width="0.5" fill="none"/><path d="M109.6,485.7L104.8,480.2L112.9,482.8Z" fill="#6FB04A"/><path d="M109.6,485.7L112.9,482.8L114.4,491.3Z" fill="#5C9A3C"/><path d="M109.6,485.7L114.4,491.3L106.3,488.6Z" fill="#5B6A16"/><ellipse cx="109.6" cy="485.7" rx="0.7" ry="1.3" fill="#4a3a12"/><path d="M104.8,480.2L112.9,482.8M104.8,480.2L106.3,488.6" stroke="#2D8050" stroke-width="0.5" fill="none"/><path d="M111.1,494.2L106.3,488.6L114.4,491.3Z" fill="#6FB04A"/><path d="M111.1,494.2L114.4,491.3L115.9,499.8Z" fill="#5C9A3C"/><path d="M111.1,494.2L115.9,499.8L107.8,497.1Z" fill="#5B6A16"/><ellipse cx="111.1" cy="494.2" rx="0.7" ry="1.3" fill="#4a3a12"/><path d="M106.3,488.6L114.4,491.3M106.3,488.6L107.8,497.1" stroke="#2D8050" stroke-width="0.5" fill="none"/><path d="M112.6,502.7L107.8,497.1L115.9,499.8Z" fill="#6FB04A"/><path d="M112.6,502.7L115.9,499.8L117.4,508.2Z" fill="#5C9A3C"/><path d="M112.6,502.7L117.4,508.2L109.3,505.6Z" fill="#5B6A16"/><ellipse cx="112.6" cy="502.7" rx="0.7" ry="1.3" fill="#4a3a12"/><path d="M107.8,497.1L115.9,499.8M107.8,497.1L109.3,505.6" stroke="#2D8050" stroke-width="0.5" fill="none"/><path d="M114.1,511.1L109.3,505.6L117.4,508.2Z" fill="#6FB04A"/><path d="M114.1,511.1L117.4,508.2L118.9,516.7Z" fill="#5C9A3C"/><path d="M114.1,511.1L118.9,516.7L110.7,514.0Z" fill="#5B6A16"/><ellipse cx="114.1" cy="511.1" rx="0.7" ry="1.3" fill="#4a3a12"/><path d="M109.3,505.6L117.4,508.2M109.3,505.6L110.7,514.0" stroke="#2D8050" stroke-width="0.5" fill="none"/><path d="M115.6,519.6L110.7,514.0L118.9,516.7Z" fill="#6FB04A"/><path d="M115.6,519.6L118.9,516.7L120.4,525.2Z" fill="#5C9A3C"/><path d="M115.6,519.6L120.4,525.2L112.2,522.5Z" fill="#5B6A16"/><ellipse cx="115.6" cy="519.6" rx="0.7" ry="1.3" fill="#4a3a12"/><path d="M110.7,514.0L118.9,516.7M110.7,514.0L112.2,522.5" stroke="#2D8050" stroke-width="0.5" fill="none"/><path d="M114.8,471.4L110.0,465.9L118.1,468.5Z" fill="#6FB04A"/><path d="M114.8,471.4L118.1,468.5L119.6,477.0Z" fill="#5C9A3C"/><path d="M114.8,471.4L119.6,477.0L111.5,474.3Z" fill="#5B6A16"/><ellipse cx="114.8" cy="471.4" rx="0.7" ry="1.3" fill="#4a3a12"/><path d="M110.0,465.9L118.1,468.5M110.0,465.9L111.5,474.3" stroke="#2D8050" stroke-width="0.5" fill="none"/><path d="M116.3,479.9L111.5,474.3L119.6,477.0Z" fill="#6FB04A"/><path d="M116.3,479.9L119.6,477.0L121.1,485.5Z" fill="#5C9A3C"/><path d="M116.3,479.9L121.1,485.5L112.9,482.8Z" fill="#5B6A16"/><ellipse cx="116.3" cy="479.9" rx="0.7" ry="1.3" fill="#4a3a12"/><path d="M111.5,474.3L119.6,477.0M111.5,474.3L112.9,482.8" stroke="#2D8050" stroke-width="0.5" fill="none"/><path d="M117.8,488.4L112.9,482.8L121.1,485.5Z" fill="#6FB04A"/><path d="M117.8,488.4L121.1,485.5L122.6,493.9Z" fill="#5C9A3C"/><path d="M117.8,488.4L122.6,493.9L114.4,491.3Z" fill="#5B6A16"/><ellipse cx="117.8" cy="488.4" rx="0.7" ry="1.3" fill="#4a3a12"/><path d="M112.9,482.8L121.1,485.5M112.9,482.8L114.4,491.3" stroke="#2D8050" stroke-width="0.5" fill="none"/><path d="M119.3,496.8L114.4,491.3L122.6,493.9Z" fill="#6FB04A"/><path d="M119.3,496.8L122.6,493.9L124.1,502.4Z" fill="#5C9A3C"/><path d="M119.3,496.8L124.1,502.4L115.9,499.8Z" fill="#5B6A16"/><ellipse cx="119.3" cy="496.8" rx="0.7" ry="1.3" fill="#4a3a12"/><path d="M114.4,491.3L122.6,493.9M114.4,491.3L115.9,499.8" stroke="#2D8050" stroke-width="0.5" fill="none"/><path d="M120.8,505.3L115.9,499.8L124.1,502.4Z" fill="#6FB04A"/><path d="M120.8,505.3L124.1,502.4L125.6,510.9Z" fill="#5C9A3C"/><path d="M120.8,505.3L125.6,510.9L117.4,508.2Z" fill="#5B6A16"/><ellipse cx="120.8" cy="505.3" rx="0.7" ry="1.3" fill="#4a3a12"/><path d="M115.9,499.8L124.1,502.4M115.9,499.8L117.4,508.2" stroke="#2D8050" stroke-width="0.5" fill="none"/><path d="M122.3,513.8L117.4,508.2L125.6,510.9Z" fill="#6FB04A"/><path d="M122.3,513.8L125.6,510.9L127.1,519.4Z" fill="#5C9A3C"/><path d="M122.3,513.8L127.1,519.4L118.9,516.7Z" fill="#5B6A16"/><ellipse cx="122.3" cy="513.8" rx="0.7" ry="1.3" fill="#4a3a12"/><path d="M117.4,508.2L125.6,510.9M117.4,508.2L118.9,516.7" stroke="#2D8050" stroke-width="0.5" fill="none"/><path d="M123.8,522.3L118.9,516.7L127.1,519.4Z" fill="#6FB04A"/><path d="M123.8,522.3L127.1,519.4L128.6,527.8Z" fill="#5C9A3C"/><path d="M123.8,522.3L128.6,527.8L120.4,525.2Z" fill="#5B6A16"/><ellipse cx="123.8" cy="522.3" rx="0.7" ry="1.3" fill="#4a3a12"/><path d="M118.9,516.7L127.1,519.4M118.9,516.7L120.4,525.2" stroke="#2D8050" stroke-width="0.5" fill="none"/><path d="M121.5,465.6L116.6,460.1L124.8,462.7Z" fill="#6FB04A"/><path d="M121.5,465.6L124.8,462.7L126.3,471.2Z" fill="#5C9A3C"/><path d="M121.5,465.6L126.3,471.2L118.1,468.5Z" fill="#5B6A16"/><ellipse cx="121.5" cy="465.6" rx="0.7" ry="1.3" fill="#4a3a12"/><path d="M116.6,460.1L124.8,462.7M116.6,460.1L118.1,468.5" stroke="#2D8050" stroke-width="0.5" fill="none"/><path d="M123.0,474.1L118.1,468.5L126.3,471.2Z" fill="#6FB04A"/><path d="M123.0,474.1L126.3,471.2L127.8,479.7Z" fill="#5C9A3C"/><path d="M123.0,474.1L127.8,479.7L119.6,477.0Z" fill="#5B6A16"/><ellipse cx="123.0" cy="474.1" rx="0.7" ry="1.3" fill="#4a3a12"/><path d="M118.1,468.5L126.3,471.2M118.1,468.5L119.6,477.0" stroke="#2D8050" stroke-width="0.5" fill="none"/><path d="M124.5,482.6L119.6,477.0L127.8,479.7Z" fill="#6FB04A"/><path d="M124.5,482.6L127.8,479.7L129.3,488.1Z" fill="#5C9A3C"/><path d="M124.5,482.6L129.3,488.1L121.1,485.5Z" fill="#5B6A16"/><ellipse cx="124.5" cy="482.6" rx="0.7" ry="1.3" fill="#4a3a12"/><path d="M119.6,477.0L127.8,479.7M119.6,477.0L121.1,485.5" stroke="#2D8050" stroke-width="0.5" fill="none"/><path d="M126.0,491.0L121.1,485.5L129.3,488.1Z" fill="#6FB04A"/><path d="M126.0,491.0L129.3,488.1L130.8,496.6Z" fill="#5C9A3C"/><path d="M126.0,491.0L130.8,496.6L122.6,493.9Z" fill="#5B6A16"/><ellipse cx="126.0" cy="491.0" rx="0.7" ry="1.3" fill="#4a3a12"/><path d="M121.1,485.5L129.3,488.1M121.1,485.5L122.6,493.9" stroke="#2D8050" stroke-width="0.5" fill="none"/><path d="M127.5,499.5L122.6,493.9L130.8,496.6Z" fill="#6FB04A"/><path d="M127.5,499.5L130.8,496.6L132.3,505.1Z" fill="#5C9A3C"/><path d="M127.5,499.5L132.3,505.1L124.1,502.4Z" fill="#5B6A16"/><ellipse cx="127.5" cy="499.5" rx="0.7" ry="1.3" fill="#4a3a12"/><path d="M122.6,493.9L130.8,496.6M122.6,493.9L124.1,502.4" stroke="#2D8050" stroke-width="0.5" fill="none"/><path d="M129.0,508.0L124.1,502.4L132.3,505.1Z" fill="#6FB04A"/><path d="M129.0,508.0L132.3,505.1L133.8,513.5Z" fill="#5C9A3C"/><path d="M129.0,508.0L133.8,513.5L125.6,510.9Z" fill="#5B6A16"/><ellipse cx="129.0" cy="508.0" rx="0.7" ry="1.3" fill="#4a3a12"/><path d="M124.1,502.4L132.3,505.1M124.1,502.4L125.6,510.9" stroke="#2D8050" stroke-width="0.5" fill="none"/><path d="M130.4,516.4L125.6,510.9L133.8,513.5Z" fill="#6FB04A"/><path d="M130.4,516.4L133.8,513.5L135.3,522.0Z" fill="#5C9A3C"/><path d="M130.4,516.4L135.3,522.0L127.1,519.4Z" fill="#5B6A16"/><ellipse cx="130.4" cy="516.4" rx="0.7" ry="1.3" fill="#4a3a12"/><path d="M125.6,510.9L133.8,513.5M125.6,510.9L127.1,519.4" stroke="#2D8050" stroke-width="0.5" fill="none"/><path d="M131.9,524.9L127.1,519.4L135.3,522.0Z" fill="#6FB04A"/><path d="M131.9,524.9L135.3,522.0L136.8,530.5Z" fill="#5C9A3C"/><path d="M131.9,524.9L136.8,530.5L128.6,527.8Z" fill="#5B6A16"/><ellipse cx="131.9" cy="524.9" rx="0.7" ry="1.3" fill="#4a3a12"/><path d="M127.1,519.4L135.3,522.0M127.1,519.4L128.6,527.8" stroke="#2D8050" stroke-width="0.5" fill="none"/><path d="M129.7,468.3L124.8,462.7L133.0,465.4Z" fill="#6FB04A"/><path d="M129.7,468.3L133.0,465.4L134.5,473.9Z" fill="#5C9A3C"/><path d="M129.7,468.3L134.5,473.9L126.3,471.2Z" fill="#5B6A16"/><ellipse cx="129.7" cy="468.3" rx="0.7" ry="1.3" fill="#4a3a12"/><path d="M124.8,462.7L133.0,465.4M124.8,462.7L126.3,471.2" stroke="#2D8050" stroke-width="0.5" fill="none"/><path d="M131.2,476.8L126.3,471.2L134.5,473.9Z" fill="#6FB04A"/><path d="M131.2,476.8L134.5,473.9L136.0,482.3Z" fill="#5C9A3C"/><path d="M131.2,476.8L136.0,482.3L127.8,479.7Z" fill="#5B6A16"/><ellipse cx="131.2" cy="476.8" rx="0.7" ry="1.3" fill="#4a3a12"/><path d="M126.3,471.2L134.5,473.9M126.3,471.2L127.8,479.7" stroke="#2D8050" stroke-width="0.5" fill="none"/><path d="M132.7,485.2L127.8,479.7L136.0,482.3Z" fill="#6FB04A"/><path d="M132.7,485.2L136.0,482.3L137.5,490.8Z" fill="#5C9A3C"/><path d="M132.7,485.2L137.5,490.8L129.3,488.1Z" fill="#5B6A16"/><ellipse cx="132.7" cy="485.2" rx="0.7" ry="1.3" fill="#4a3a12"/><path d="M127.8,479.7L136.0,482.3M127.8,479.7L129.3,488.1" stroke="#2D8050" stroke-width="0.5" fill="none"/><path d="M134.1,493.7L129.3,488.1L137.5,490.8Z" fill="#6FB04A"/><path d="M134.1,493.7L137.5,490.8L139.0,499.3Z" fill="#5C9A3C"/><path d="M134.1,493.7L139.0,499.3L130.8,496.6Z" fill="#5B6A16"/><ellipse cx="134.1" cy="493.7" rx="0.7" ry="1.3" fill="#4a3a12"/><path d="M129.3,488.1L137.5,490.8M129.3,488.1L130.8,496.6" stroke="#2D8050" stroke-width="0.5" fill="none"/><path d="M135.6,502.2L130.8,496.6L139.0,499.3Z" fill="#6FB04A"/><path d="M135.6,502.2L139.0,499.3L140.5,507.7Z" fill="#5C9A3C"/><path d="M135.6,502.2L140.5,507.7L132.3,505.1Z" fill="#5B6A16"/><ellipse cx="135.6" cy="502.2" rx="0.7" ry="1.3" fill="#4a3a12"/><path d="M130.8,496.6L139.0,499.3M130.8,496.6L132.3,505.1" stroke="#2D8050" stroke-width="0.5" fill="none"/><path d="M137.1,510.6L132.3,505.1L140.5,507.7Z" fill="#6FB04A"/><path d="M137.1,510.6L140.5,507.7L142.0,516.2Z" fill="#5C9A3C"/><path d="M137.1,510.6L142.0,516.2L133.8,513.5Z" fill="#5B6A16"/><ellipse cx="137.1" cy="510.6" rx="0.7" ry="1.3" fill="#4a3a12"/><path d="M132.3,505.1L140.5,507.7M132.3,505.1L133.8,513.5" stroke="#2D8050" stroke-width="0.5" fill="none"/><path d="M138.6,519.1L133.8,513.5L142.0,516.2Z" fill="#6FB04A"/><path d="M138.6,519.1L142.0,516.2L143.5,524.7Z" fill="#5C9A3C"/><path d="M138.6,519.1L143.5,524.7L135.3,522.0Z" fill="#5B6A16"/><ellipse cx="138.6" cy="519.1" rx="0.7" ry="1.3" fill="#4a3a12"/><path d="M133.8,513.5L142.0,516.2M133.8,513.5L135.3,522.0" stroke="#2D8050" stroke-width="0.5" fill="none"/><path d="M137.8,470.9L133.0,465.4L141.2,468.0Z" fill="#6FB04A"/><path d="M137.8,470.9L141.2,468.0L142.7,476.5Z" fill="#5C9A3C"/><path d="M137.8,470.9L142.7,476.5L134.5,473.9Z" fill="#5B6A16"/><ellipse cx="137.8" cy="470.9" rx="0.7" ry="1.3" fill="#4a3a12"/><path d="M133.0,465.4L141.2,468.0M133.0,465.4L134.5,473.9" stroke="#2D8050" stroke-width="0.5" fill="none"/><path d="M139.3,479.4L134.5,473.9L142.7,476.5Z" fill="#6FB04A"/><path d="M139.3,479.4L142.7,476.5L144.2,485.0Z" fill="#5C9A3C"/><path d="M139.3,479.4L144.2,485.0L136.0,482.3Z" fill="#5B6A16"/><ellipse cx="139.3" cy="479.4" rx="0.7" ry="1.3" fill="#4a3a12"/><path d="M134.5,473.9L142.7,476.5M134.5,473.9L136.0,482.3" stroke="#2D8050" stroke-width="0.5" fill="none"/><path d="M140.8,487.9L136.0,482.3L144.2,485.0Z" fill="#6FB04A"/><path d="M140.8,487.9L144.2,485.0L145.7,493.4Z" fill="#5C9A3C"/><path d="M140.8,487.9L145.7,493.4L137.5,490.8Z" fill="#5B6A16"/><ellipse cx="140.8" cy="487.9" rx="0.7" ry="1.3" fill="#4a3a12"/><path d="M136.0,482.3L144.2,485.0M136.0,482.3L137.5,490.8" stroke="#2D8050" stroke-width="0.5" fill="none"/><path d="M142.3,496.4L137.5,490.8L145.7,493.4Z" fill="#6FB04A"/><path d="M142.3,496.4L145.7,493.4L147.2,501.9Z" fill="#5C9A3C"/><path d="M142.3,496.4L147.2,501.9L139.0,499.3Z" fill="#5B6A16"/><ellipse cx="142.3" cy="496.4" rx="0.7" ry="1.3" fill="#4a3a12"/><path d="M137.5,490.8L145.7,493.4M137.5,490.8L139.0,499.3" stroke="#2D8050" stroke-width="0.5" fill="none"/><path d="M143.8,504.8L139.0,499.3L147.2,501.9Z" fill="#6FB04A"/><path d="M143.8,504.8L147.2,501.9L148.7,510.4Z" fill="#5C9A3C"/><path d="M143.8,504.8L148.7,510.4L140.5,507.7Z" fill="#5B6A16"/><ellipse cx="143.8" cy="504.8" rx="0.7" ry="1.3" fill="#4a3a12"/><path d="M139.0,499.3L147.2,501.9M139.0,499.3L140.5,507.7" stroke="#2D8050" stroke-width="0.5" fill="none"/><path d="M145.3,513.3L140.5,507.7L148.7,510.4Z" fill="#6FB04A"/><path d="M145.3,513.3L148.7,510.4L150.1,518.9Z" fill="#5C9A3C"/><path d="M145.3,513.3L150.1,518.9L142.0,516.2Z" fill="#5B6A16"/><ellipse cx="145.3" cy="513.3" rx="0.7" ry="1.3" fill="#4a3a12"/><path d="M140.5,507.7L148.7,510.4M140.5,507.7L142.0,516.2" stroke="#2D8050" stroke-width="0.5" fill="none"/><path d="M146.8,521.8L142.0,516.2L150.1,518.9Z" fill="#6FB04A"/><path d="M146.8,521.8L150.1,518.9L151.6,527.3Z" fill="#5C9A3C"/><path d="M146.8,521.8L151.6,527.3L143.5,524.7Z" fill="#5B6A16"/><ellipse cx="146.8" cy="521.8" rx="0.7" ry="1.3" fill="#4a3a12"/><path d="M142.0,516.2L150.1,518.9M142.0,516.2L143.5,524.7" stroke="#2D8050" stroke-width="0.5" fill="none"/><path d="M144.5,465.1L139.7,459.6L147.9,462.2Z" fill="#6FB04A"/><path d="M144.5,465.1L147.9,462.2L149.4,470.7Z" fill="#5C9A3C"/><path d="M144.5,465.1L149.4,470.7L141.2,468.0Z" fill="#5B6A16"/><ellipse cx="144.5" cy="465.1" rx="0.7" ry="1.3" fill="#4a3a12"/><path d="M139.7,459.6L147.9,462.2M139.7,459.6L141.2,468.0" stroke="#2D8050" stroke-width="0.5" fill="none"/><path d="M146.0,473.6L141.2,468.0L149.4,470.7Z" fill="#6FB04A"/><path d="M146.0,473.6L149.4,470.7L150.9,479.2Z" fill="#5C9A3C"/><path d="M146.0,473.6L150.9,479.2L142.7,476.5Z" fill="#5B6A16"/><ellipse cx="146.0" cy="473.6" rx="0.7" ry="1.3" fill="#4a3a12"/><path d="M141.2,468.0L149.4,470.7M141.2,468.0L142.7,476.5" stroke="#2D8050" stroke-width="0.5" fill="none"/><path d="M147.5,482.1L142.7,476.5L150.9,479.2Z" fill="#6FB04A"/><path d="M147.5,482.1L150.9,479.2L152.4,487.6Z" fill="#5C9A3C"/><path d="M147.5,482.1L152.4,487.6L144.2,485.0Z" fill="#5B6A16"/><ellipse cx="147.5" cy="482.1" rx="0.7" ry="1.3" fill="#4a3a12"/><path d="M142.7,476.5L150.9,479.2M142.7,476.5L144.2,485.0" stroke="#2D8050" stroke-width="0.5" fill="none"/><path d="M149.0,490.5L144.2,485.0L152.4,487.6Z" fill="#6FB04A"/><path d="M149.0,490.5L152.4,487.6L153.8,496.1Z" fill="#5C9A3C"/><path d="M149.0,490.5L153.8,496.1L145.7,493.4Z" fill="#5B6A16"/><ellipse cx="149.0" cy="490.5" rx="0.7" ry="1.3" fill="#4a3a12"/><path d="M144.2,485.0L152.4,487.6M144.2,485.0L145.7,493.4" stroke="#2D8050" stroke-width="0.5" fill="none"/><path d="M150.5,499.0L145.7,493.4L153.8,496.1Z" fill="#6FB04A"/><path d="M150.5,499.0L153.8,496.1L155.3,504.6Z" fill="#5C9A3C"/><path d="M150.5,499.0L155.3,504.6L147.2,501.9Z" fill="#5B6A16"/><ellipse cx="150.5" cy="499.0" rx="0.7" ry="1.3" fill="#4a3a12"/><path d="M145.7,493.4L153.8,496.1M145.7,493.4L147.2,501.9" stroke="#2D8050" stroke-width="0.5" fill="none"/><path d="M152.0,507.5L147.2,501.9L155.3,504.6Z" fill="#6FB04A"/><path d="M152.0,507.5L155.3,504.6L156.8,513.0Z" fill="#5C9A3C"/><path d="M152.0,507.5L156.8,513.0L148.7,510.4Z" fill="#5B6A16"/><ellipse cx="152.0" cy="507.5" rx="0.7" ry="1.3" fill="#4a3a12"/><path d="M147.2,501.9L155.3,504.6M147.2,501.9L148.7,510.4" stroke="#2D8050" stroke-width="0.5" fill="none"/><path d="M153.5,515.9L148.7,510.4L156.8,513.0Z" fill="#6FB04A"/><path d="M153.5,515.9L156.8,513.0L158.3,521.5Z" fill="#5C9A3C"/><path d="M153.5,515.9L158.3,521.5L150.1,518.9Z" fill="#5B6A16"/><ellipse cx="153.5" cy="515.9" rx="0.7" ry="1.3" fill="#4a3a12"/><path d="M148.7,510.4L156.8,513.0M148.7,510.4L150.1,518.9" stroke="#2D8050" stroke-width="0.5" fill="none"/><path d="M155.0,524.4L150.1,518.9L158.3,521.5Z" fill="#6FB04A"/><path d="M155.0,524.4L158.3,521.5L159.8,530.0Z" fill="#5C9A3C"/><path d="M155.0,524.4L159.8,530.0L151.6,527.3Z" fill="#5B6A16"/><ellipse cx="155.0" cy="524.4" rx="0.7" ry="1.3" fill="#4a3a12"/><path d="M150.1,518.9L158.3,521.5M150.1,518.9L151.6,527.3" stroke="#2D8050" stroke-width="0.5" fill="none"/><path d="M152.7,467.8L147.9,462.2L156.1,464.9Z" fill="#6FB04A"/><path d="M152.7,467.8L156.1,464.9L157.5,473.4Z" fill="#5C9A3C"/><path d="M152.7,467.8L157.5,473.4L149.4,470.7Z" fill="#5B6A16"/><ellipse cx="152.7" cy="467.8" rx="0.7" ry="1.3" fill="#4a3a12"/><path d="M147.9,462.2L156.1,464.9M147.9,462.2L149.4,470.7" stroke="#2D8050" stroke-width="0.5" fill="none"/><path d="M154.2,476.3L149.4,470.7L157.5,473.4Z" fill="#6FB04A"/><path d="M154.2,476.3L157.5,473.4L159.0,481.8Z" fill="#5C9A3C"/><path d="M154.2,476.3L159.0,481.8L150.9,479.2Z" fill="#5B6A16"/><ellipse cx="154.2" cy="476.3" rx="0.7" ry="1.3" fill="#4a3a12"/><path d="M149.4,470.7L157.5,473.4M149.4,470.7L150.9,479.2" stroke="#2D8050" stroke-width="0.5" fill="none"/><path d="M155.7,484.7L150.9,479.2L159.0,481.8Z" fill="#6FB04A"/><path d="M155.7,484.7L159.0,481.8L160.5,490.3Z" fill="#5C9A3C"/><path d="M155.7,484.7L160.5,490.3L152.4,487.6Z" fill="#5B6A16"/><ellipse cx="155.7" cy="484.7" rx="0.7" ry="1.3" fill="#4a3a12"/><path d="M150.9,479.2L159.0,481.8M150.9,479.2L152.4,487.6" stroke="#2D8050" stroke-width="0.5" fill="none"/><path d="M157.2,493.2L152.4,487.6L160.5,490.3Z" fill="#6FB04A"/><path d="M157.2,493.2L160.5,490.3L162.0,498.8Z" fill="#5C9A3C"/><path d="M157.2,493.2L162.0,498.8L153.8,496.1Z" fill="#5B6A16"/><ellipse cx="157.2" cy="493.2" rx="0.7" ry="1.3" fill="#4a3a12"/><path d="M152.4,487.6L160.5,490.3M152.4,487.6L153.8,496.1" stroke="#2D8050" stroke-width="0.5" fill="none"/><path d="M158.7,501.7L153.8,496.1L162.0,498.8Z" fill="#6FB04A"/><path d="M158.7,501.7L162.0,498.8L163.5,507.2Z" fill="#5C9A3C"/><path d="M158.7,501.7L163.5,507.2L155.3,504.6Z" fill="#5B6A16"/><ellipse cx="158.7" cy="501.7" rx="0.7" ry="1.3" fill="#4a3a12"/><path d="M153.8,496.1L162.0,498.8M153.8,496.1L155.3,504.6" stroke="#2D8050" stroke-width="0.5" fill="none"/><path d="M160.2,510.1L155.3,504.6L163.5,507.2Z" fill="#6FB04A"/><path d="M160.2,510.1L163.5,507.2L165.0,515.7Z" fill="#5C9A3C"/><path d="M160.2,510.1L165.0,515.7L156.8,513.0Z" fill="#5B6A16"/><ellipse cx="160.2" cy="510.1" rx="0.7" ry="1.3" fill="#4a3a12"/><path d="M155.3,504.6L163.5,507.2M155.3,504.6L156.8,513.0" stroke="#2D8050" stroke-width="0.5" fill="none"/><path d="M161.7,518.6L156.8,513.0L165.0,515.7Z" fill="#6FB04A"/><path d="M161.7,518.6L165.0,515.7L166.5,524.2Z" fill="#5C9A3C"/><path d="M161.7,518.6L166.5,524.2L158.3,521.5Z" fill="#5B6A16"/><ellipse cx="161.7" cy="518.6" rx="0.7" ry="1.3" fill="#4a3a12"/><path d="M156.8,513.0L165.0,515.7M156.8,513.0L158.3,521.5" stroke="#2D8050" stroke-width="0.5" fill="none"/><path d="M160.9,470.4L156.1,464.9L164.2,467.5Z" fill="#6FB04A"/><path d="M160.9,470.4L164.2,467.5L165.7,476.0Z" fill="#5C9A3C"/><path d="M160.9,470.4L165.7,476.0L157.5,473.4Z" fill="#5B6A16"/><ellipse cx="160.9" cy="470.4" rx="0.7" ry="1.3" fill="#4a3a12"/><path d="M156.1,464.9L164.2,467.5M156.1,464.9L157.5,473.4" stroke="#2D8050" stroke-width="0.5" fill="none"/><path d="M162.4,478.9L157.5,473.4L165.7,476.0Z" fill="#6FB04A"/><path d="M162.4,478.9L165.7,476.0L167.2,484.5Z" fill="#5C9A3C"/><path d="M162.4,478.9L167.2,484.5L159.0,481.8Z" fill="#5B6A16"/><ellipse cx="162.4" cy="478.9" rx="0.7" ry="1.3" fill="#4a3a12"/><path d="M157.5,473.4L165.7,476.0M157.5,473.4L159.0,481.8" stroke="#2D8050" stroke-width="0.5" fill="none"/><path d="M163.9,487.4L159.0,481.8L167.2,484.5Z" fill="#6FB04A"/><path d="M163.9,487.4L167.2,484.5L168.7,493.0Z" fill="#5C9A3C"/><path d="M163.9,487.4L168.7,493.0L160.5,490.3Z" fill="#5B6A16"/><ellipse cx="163.9" cy="487.4" rx="0.7" ry="1.3" fill="#4a3a12"/><path d="M159.0,481.8L167.2,484.5M159.0,481.8L160.5,490.3" stroke="#2D8050" stroke-width="0.5" fill="none"/><path d="M165.4,495.9L160.5,490.3L168.7,493.0Z" fill="#6FB04A"/><path d="M165.4,495.9L168.7,493.0L170.2,501.4Z" fill="#5C9A3C"/><path d="M165.4,495.9L170.2,501.4L162.0,498.8Z" fill="#5B6A16"/><ellipse cx="165.4" cy="495.9" rx="0.7" ry="1.3" fill="#4a3a12"/><path d="M160.5,490.3L168.7,493.0M160.5,490.3L162.0,498.8" stroke="#2D8050" stroke-width="0.5" fill="none"/></g><clipPath id="gc117"><path d="M115.7,460.5 L119.2,459.2 L118.5,456.6 L123.4,455.6 L123.5,453.0 L128.5,452.8 L129.1,450.3 L134.4,450.8 L136.1,448.0 L141.7,448.8 L144.8,445.2 L150.3,446.6 L155.1,443.5 L160.4,446.0 L167.5,444.0 L171.9,447.0 L178.5,446.3 L179.7,449.6 L184.2,450.4 L183.6,454.0 L187.7,455.8 L187.1,459.6 L191.3,462.7 L190.1,466.4 L193.3,469.8 L190.8,472.4 L193.0,475.6 L189.4,477.6 L189.9,481.4 L184.5,483.9 L182.5,489.4 L176.2,491.3 L173.7,495.5 L168.9,493.5 L166.7,494.7 L162.5,490.5 L159.8,491.3 L156.1,487.3 L152.7,488.3 L149.7,484.0 L145.3,484.5 L143.3,480.2 L138.0,479.6 L136.8,475.8 L131.2,474.6 L130.6,472.1 L125.1,470.8 L124.9,469.0 L120.1,467.5 L120.8,465.8 L116.7,464.0 L118.3,462.6Z"/></clipPath><path d="M115.7,460.5 L119.2,459.2 L118.5,456.6 L123.4,455.6 L123.5,453.0 L128.5,452.8 L129.1,450.3 L134.4,450.8 L136.1,448.0 L141.7,448.8 L144.8,445.2 L150.3,446.6 L155.1,443.5 L160.4,446.0 L167.5,444.0 L171.9,447.0 L178.5,446.3 L179.7,449.6 L184.2,450.4 L183.6,454.0 L187.7,455.8 L187.1,459.6 L191.3,462.7 L190.1,466.4 L193.3,469.8 L190.8,472.4 L193.0,475.6 L189.4,477.6 L189.9,481.4 L184.5,483.9 L182.5,489.4 L176.2,491.3 L173.7,495.5 L168.9,493.5 L166.7,494.7 L162.5,490.5 L159.8,491.3 L156.1,487.3 L152.7,488.3 L149.7,484.0 L145.3,484.5 L143.3,480.2 L138.0,479.6 L136.8,475.8 L131.2,474.6 L130.6,472.1 L125.1,470.8 L124.9,469.0 L120.1,467.5 L120.8,465.8 L116.7,464.0 L118.3,462.6Z" fill="#86A21E"/><g clip-path="url(#gc117)"><path d="M107.2,437.5L102.6,431.4L110.9,434.7Z" fill="#B2C22C"/><path d="M107.2,437.5L110.9,434.7L111.8,443.7Z" fill="#86A21E"/><path d="M107.2,437.5L111.8,443.7L103.5,440.3Z" fill="#55741A"/><ellipse cx="107.2" cy="437.5" rx="0.7" ry="1.3" fill="#4a3a12"/><path d="M102.6,431.4L110.9,434.7M102.6,431.4L103.5,440.3" stroke="#4E6E14" stroke-width="0.5" fill="none"/><path d="M108.1,446.5L103.5,440.3L111.8,443.7Z" fill="#B2C22C"/><path d="M108.1,446.5L111.8,443.7L112.8,452.6Z" fill="#86A21E"/><path d="M108.1,446.5L112.8,452.6L104.4,449.3Z" fill="#55741A"/><ellipse cx="108.1" cy="446.5" rx="0.7" ry="1.3" fill="#4a3a12"/><path d="M103.5,440.3L111.8,443.7M103.5,440.3L104.4,449.3" stroke="#4E6E14" stroke-width="0.5" fill="none"/><path d="M109.1,455.4L104.4,449.3L112.8,452.6Z" fill="#B2C22C"/><path d="M109.1,455.4L112.8,452.6L113.7,461.6Z" fill="#86A21E"/><path d="M109.1,455.4L113.7,461.6L105.4,458.2Z" fill="#55741A"/><ellipse cx="109.1" cy="455.4" rx="0.7" ry="1.3" fill="#4a3a12"/><path d="M104.4,449.3L112.8,452.6M104.4,449.3L105.4,458.2" stroke="#4E6E14" stroke-width="0.5" fill="none"/><path d="M110.0,464.4L105.4,458.2L113.7,461.6Z" fill="#B2C22C"/><path d="M110.0,464.4L113.7,461.6L114.7,470.5Z" fill="#86A21E"/><path d="M110.0,464.4L114.7,470.5L106.3,467.2Z" fill="#55741A"/><ellipse cx="110.0" cy="464.4" rx="0.7" ry="1.3" fill="#4a3a12"/><path d="M105.4,458.2L113.7,461.6M105.4,458.2L106.3,467.2" stroke="#4E6E14" stroke-width="0.5" fill="none"/><path d="M111.0,473.3L106.3,467.2L114.7,470.5Z" fill="#B2C22C"/><path d="M111.0,473.3L114.7,470.5L115.6,479.5Z" fill="#86A21E"/><path d="M111.0,473.3L115.6,479.5L107.3,476.1Z" fill="#55741A"/><ellipse cx="111.0" cy="473.3" rx="0.7" ry="1.3" fill="#4a3a12"/><path d="M106.3,467.2L114.7,470.5M106.3,467.2L107.3,476.1" stroke="#4E6E14" stroke-width="0.5" fill="none"/><path d="M111.9,482.3L107.3,476.1L115.6,479.5Z" fill="#B2C22C"/><path d="M111.9,482.3L115.6,479.5L116.5,488.4Z" fill="#86A21E"/><path d="M111.9,482.3L116.5,488.4L108.2,485.1Z" fill="#55741A"/><ellipse cx="111.9" cy="482.3" rx="0.7" ry="1.3" fill="#4a3a12"/><path d="M107.3,476.1L115.6,479.5M107.3,476.1L108.2,485.1" stroke="#4E6E14" stroke-width="0.5" fill="none"/><path d="M112.8,491.2L108.2,485.1L116.5,488.4Z" fill="#B2C22C"/><path d="M112.8,491.2L116.5,488.4L117.5,497.4Z" fill="#86A21E"/><path d="M112.8,491.2L117.5,497.4L109.1,494.0Z" fill="#55741A"/><ellipse cx="112.8" cy="491.2" rx="0.7" ry="1.3" fill="#4a3a12"/><path d="M108.2,485.1L116.5,488.4M108.2,485.1L109.1,494.0" stroke="#4E6E14" stroke-width="0.5" fill="none"/><path d="M113.8,500.2L109.1,494.0L117.5,497.4Z" fill="#B2C22C"/><path d="M113.8,500.2L117.5,497.4L118.4,506.3Z" fill="#86A21E"/><path d="M113.8,500.2L118.4,506.3L110.1,503.0Z" fill="#55741A"/><ellipse cx="113.8" cy="500.2" rx="0.7" ry="1.3" fill="#4a3a12"/><path d="M109.1,494.0L117.5,497.4M109.1,494.0L110.1,503.0" stroke="#4E6E14" stroke-width="0.5" fill="none"/><path d="M115.5,440.9L110.9,434.7L119.2,438.1Z" fill="#B2C22C"/><path d="M115.5,440.9L119.2,438.1L120.2,447.1Z" fill="#86A21E"/><path d="M115.5,440.9L120.2,447.1L111.8,443.7Z" fill="#55741A"/><ellipse cx="115.5" cy="440.9" rx="0.7" ry="1.3" fill="#4a3a12"/><path d="M110.9,434.7L119.2,438.1M110.9,434.7L111.8,443.7" stroke="#4E6E14" stroke-width="0.5" fill="none"/><path d="M116.5,449.8L111.8,443.7L120.2,447.1Z" fill="#B2C22C"/><path d="M116.5,449.8L120.2,447.1L121.1,456.0Z" fill="#86A21E"/><path d="M116.5,449.8L121.1,456.0L112.8,452.6Z" fill="#55741A"/><ellipse cx="116.5" cy="449.8" rx="0.7" ry="1.3" fill="#4a3a12"/><path d="M111.8,443.7L120.2,447.1M111.8,443.7L112.8,452.6" stroke="#4E6E14" stroke-width="0.5" fill="none"/><path d="M117.4,458.8L112.8,452.6L121.1,456.0Z" fill="#B2C22C"/><path d="M117.4,458.8L121.1,456.0L122.1,465.0Z" fill="#86A21E"/><path d="M117.4,458.8L122.1,465.0L113.7,461.6Z" fill="#55741A"/><ellipse cx="117.4" cy="458.8" rx="0.7" ry="1.3" fill="#4a3a12"/><path d="M112.8,452.6L121.1,456.0M112.8,452.6L113.7,461.6" stroke="#4E6E14" stroke-width="0.5" fill="none"/><path d="M118.4,467.7L113.7,461.6L122.1,465.0Z" fill="#B2C22C"/><path d="M118.4,467.7L122.1,465.0L123.0,473.9Z" fill="#86A21E"/><path d="M118.4,467.7L123.0,473.9L114.7,470.5Z" fill="#55741A"/><ellipse cx="118.4" cy="467.7" rx="0.7" ry="1.3" fill="#4a3a12"/><path d="M113.7,461.6L122.1,465.0M113.7,461.6L114.7,470.5" stroke="#4E6E14" stroke-width="0.5" fill="none"/><path d="M119.3,476.7L114.7,470.5L123.0,473.9Z" fill="#B2C22C"/><path d="M119.3,476.7L123.0,473.9L123.9,482.9Z" fill="#86A21E"/><path d="M119.3,476.7L123.9,482.9L115.6,479.5Z" fill="#55741A"/><ellipse cx="119.3" cy="476.7" rx="0.7" ry="1.3" fill="#4a3a12"/><path d="M114.7,470.5L123.0,473.9M114.7,470.5L115.6,479.5" stroke="#4E6E14" stroke-width="0.5" fill="none"/><path d="M120.2,485.6L115.6,479.5L123.9,482.9Z" fill="#B2C22C"/><path d="M120.2,485.6L123.9,482.9L124.9,491.8Z" fill="#86A21E"/><path d="M120.2,485.6L124.9,491.8L116.5,488.4Z" fill="#55741A"/><ellipse cx="120.2" cy="485.6" rx="0.7" ry="1.3" fill="#4a3a12"/><path d="M115.6,479.5L123.9,482.9M115.6,479.5L116.5,488.4" stroke="#4E6E14" stroke-width="0.5" fill="none"/><path d="M121.2,494.6L116.5,488.4L124.9,491.8Z" fill="#B2C22C"/><path d="M121.2,494.6L124.9,491.8L125.8,500.8Z" fill="#86A21E"/><path d="M121.2,494.6L125.8,500.8L117.5,497.4Z" fill="#55741A"/><ellipse cx="121.2" cy="494.6" rx="0.7" ry="1.3" fill="#4a3a12"/><path d="M116.5,488.4L124.9,491.8M116.5,488.4L117.5,497.4" stroke="#4E6E14" stroke-width="0.5" fill="none"/><path d="M122.1,503.6L117.5,497.4L125.8,500.8Z" fill="#B2C22C"/><path d="M122.1,503.6L125.8,500.8L126.8,509.7Z" fill="#86A21E"/><path d="M122.1,503.6L126.8,509.7L118.4,506.3Z" fill="#55741A"/><ellipse cx="122.1" cy="503.6" rx="0.7" ry="1.3" fill="#4a3a12"/><path d="M117.5,497.4L125.8,500.8M117.5,497.4L118.4,506.3" stroke="#4E6E14" stroke-width="0.5" fill="none"/><path d="M123.9,444.3L119.2,438.1L127.6,441.5Z" fill="#B2C22C"/><path d="M123.9,444.3L127.6,441.5L128.5,450.4Z" fill="#86A21E"/><path d="M123.9,444.3L128.5,450.4L120.2,447.1Z" fill="#55741A"/><ellipse cx="123.9" cy="444.3" rx="0.7" ry="1.3" fill="#4a3a12"/><path d="M119.2,438.1L127.6,441.5M119.2,438.1L120.2,447.1" stroke="#4E6E14" stroke-width="0.5" fill="none"/><path d="M124.8,453.2L120.2,447.1L128.5,450.4Z" fill="#B2C22C"/><path d="M124.8,453.2L128.5,450.4L129.5,459.4Z" fill="#86A21E"/><path d="M124.8,453.2L129.5,459.4L121.1,456.0Z" fill="#55741A"/><ellipse cx="124.8" cy="453.2" rx="0.7" ry="1.3" fill="#4a3a12"/><path d="M120.2,447.1L128.5,450.4M120.2,447.1L121.1,456.0" stroke="#4E6E14" stroke-width="0.5" fill="none"/><path d="M125.8,462.2L121.1,456.0L129.5,459.4Z" fill="#B2C22C"/><path d="M125.8,462.2L129.5,459.4L130.4,468.3Z" fill="#86A21E"/><path d="M125.8,462.2L130.4,468.3L122.1,465.0Z" fill="#55741A"/><ellipse cx="125.8" cy="462.2" rx="0.7" ry="1.3" fill="#4a3a12"/><path d="M121.1,456.0L129.5,459.4M121.1,456.0L122.1,465.0" stroke="#4E6E14" stroke-width="0.5" fill="none"/><path d="M126.7,471.1L122.1,465.0L130.4,468.3Z" fill="#B2C22C"/><path d="M126.7,471.1L130.4,468.3L131.3,477.3Z" fill="#86A21E"/><path d="M126.7,471.1L131.3,477.3L123.0,473.9Z" fill="#55741A"/><ellipse cx="126.7" cy="471.1" rx="0.7" ry="1.3" fill="#4a3a12"/><path d="M122.1,465.0L130.4,468.3M122.1,465.0L123.0,473.9" stroke="#4E6E14" stroke-width="0.5" fill="none"/><path d="M127.6,480.1L123.0,473.9L131.3,477.3Z" fill="#B2C22C"/><path d="M127.6,480.1L131.3,477.3L132.3,486.2Z" fill="#86A21E"/><path d="M127.6,480.1L132.3,486.2L123.9,482.9Z" fill="#55741A"/><ellipse cx="127.6" cy="480.1" rx="0.7" ry="1.3" fill="#4a3a12"/><path d="M123.0,473.9L131.3,477.3M123.0,473.9L123.9,482.9" stroke="#4E6E14" stroke-width="0.5" fill="none"/><path d="M128.6,489.0L123.9,482.9L132.3,486.2Z" fill="#B2C22C"/><path d="M128.6,489.0L132.3,486.2L133.2,495.2Z" fill="#86A21E"/><path d="M128.6,489.0L133.2,495.2L124.9,491.8Z" fill="#55741A"/><ellipse cx="128.6" cy="489.0" rx="0.7" ry="1.3" fill="#4a3a12"/><path d="M123.9,482.9L132.3,486.2M123.9,482.9L124.9,491.8" stroke="#4E6E14" stroke-width="0.5" fill="none"/><path d="M129.5,498.0L124.9,491.8L133.2,495.2Z" fill="#B2C22C"/><path d="M129.5,498.0L133.2,495.2L134.2,504.1Z" fill="#86A21E"/><path d="M129.5,498.0L134.2,504.1L125.8,500.8Z" fill="#55741A"/><ellipse cx="129.5" cy="498.0" rx="0.7" ry="1.3" fill="#4a3a12"/><path d="M124.9,491.8L133.2,495.2M124.9,491.8L125.8,500.8" stroke="#4E6E14" stroke-width="0.5" fill="none"/><path d="M131.3,438.7L126.6,432.5L135.0,435.9Z" fill="#B2C22C"/><path d="M131.3,438.7L135.0,435.9L135.9,444.8Z" fill="#86A21E"/><path d="M131.3,438.7L135.9,444.8L127.6,441.5Z" fill="#55741A"/><ellipse cx="131.3" cy="438.7" rx="0.7" ry="1.3" fill="#4a3a12"/><path d="M126.6,432.5L135.0,435.9M126.6,432.5L127.6,441.5" stroke="#4E6E14" stroke-width="0.5" fill="none"/><path d="M132.2,447.6L127.6,441.5L135.9,444.8Z" fill="#B2C22C"/><path d="M132.2,447.6L135.9,444.8L136.9,453.8Z" fill="#86A21E"/><path d="M132.2,447.6L136.9,453.8L128.5,450.4Z" fill="#55741A"/><ellipse cx="132.2" cy="447.6" rx="0.7" ry="1.3" fill="#4a3a12"/><path d="M127.6,441.5L135.9,444.8M127.6,441.5L128.5,450.4" stroke="#4E6E14" stroke-width="0.5" fill="none"/><path d="M133.2,456.6L128.5,450.4L136.9,453.8Z" fill="#B2C22C"/><path d="M133.2,456.6L136.9,453.8L137.8,462.8Z" fill="#86A21E"/><path d="M133.2,456.6L137.8,462.8L129.5,459.4Z" fill="#55741A"/><ellipse cx="133.2" cy="456.6" rx="0.7" ry="1.3" fill="#4a3a12"/><path d="M128.5,450.4L136.9,453.8M128.5,450.4L129.5,459.4" stroke="#4E6E14" stroke-width="0.5" fill="none"/><path d="M134.1,465.5L129.5,459.4L137.8,462.8Z" fill="#B2C22C"/><path d="M134.1,465.5L137.8,462.8L138.8,471.7Z" fill="#86A21E"/><path d="M134.1,465.5L138.8,471.7L130.4,468.3Z" fill="#55741A"/><ellipse cx="134.1" cy="465.5" rx="0.7" ry="1.3" fill="#4a3a12"/><path d="M129.5,459.4L137.8,462.8M129.5,459.4L130.4,468.3" stroke="#4E6E14" stroke-width="0.5" fill="none"/><path d="M135.1,474.5L130.4,468.3L138.8,471.7Z" fill="#B2C22C"/><path d="M135.1,474.5L138.8,471.7L139.7,480.7Z" fill="#86A21E"/><path d="M135.1,474.5L139.7,480.7L131.3,477.3Z" fill="#55741A"/><ellipse cx="135.1" cy="474.5" rx="0.7" ry="1.3" fill="#4a3a12"/><path d="M130.4,468.3L138.8,471.7M130.4,468.3L131.3,477.3" stroke="#4E6E14" stroke-width="0.5" fill="none"/><path d="M136.0,483.4L131.3,477.3L139.7,480.7Z" fill="#B2C22C"/><path d="M136.0,483.4L139.7,480.7L140.6,489.6Z" fill="#86A21E"/><path d="M136.0,483.4L140.6,489.6L132.3,486.2Z" fill="#55741A"/><ellipse cx="136.0" cy="483.4" rx="0.7" ry="1.3" fill="#4a3a12"/><path d="M131.3,477.3L139.7,480.7M131.3,477.3L132.3,486.2" stroke="#4E6E14" stroke-width="0.5" fill="none"/><path d="M136.9,492.4L132.3,486.2L140.6,489.6Z" fill="#B2C22C"/><path d="M136.9,492.4L140.6,489.6L141.6,498.6Z" fill="#86A21E"/><path d="M136.9,492.4L141.6,498.6L133.2,495.2Z" fill="#55741A"/><ellipse cx="136.9" cy="492.4" rx="0.7" ry="1.3" fill="#4a3a12"/><path d="M132.3,486.2L140.6,489.6M132.3,486.2L133.2,495.2" stroke="#4E6E14" stroke-width="0.5" fill="none"/><path d="M137.9,501.3L133.2,495.2L141.6,498.6Z" fill="#B2C22C"/><path d="M137.9,501.3L141.6,498.6L142.5,507.5Z" fill="#86A21E"/><path d="M137.9,501.3L142.5,507.5L134.2,504.1Z" fill="#55741A"/><ellipse cx="137.9" cy="501.3" rx="0.7" ry="1.3" fill="#4a3a12"/><path d="M133.2,495.2L141.6,498.6M133.2,495.2L134.2,504.1" stroke="#4E6E14" stroke-width="0.5" fill="none"/><path d="M139.6,442.1L135.0,435.9L143.3,439.3Z" fill="#B2C22C"/><path d="M139.6,442.1L143.3,439.3L144.3,448.2Z" fill="#86A21E"/><path d="M139.6,442.1L144.3,448.2L135.9,444.8Z" fill="#55741A"/><ellipse cx="139.6" cy="442.1" rx="0.7" ry="1.3" fill="#4a3a12"/><path d="M135.0,435.9L143.3,439.3M135.0,435.9L135.9,444.8" stroke="#4E6E14" stroke-width="0.5" fill="none"/><path d="M140.6,451.0L135.9,444.8L144.3,448.2Z" fill="#B2C22C"/><path d="M140.6,451.0L144.3,448.2L145.2,457.2Z" fill="#86A21E"/><path d="M140.6,451.0L145.2,457.2L136.9,453.8Z" fill="#55741A"/><ellipse cx="140.6" cy="451.0" rx="0.7" ry="1.3" fill="#4a3a12"/><path d="M135.9,444.8L144.3,448.2M135.9,444.8L136.9,453.8" stroke="#4E6E14" stroke-width="0.5" fill="none"/><path d="M141.5,460.0L136.9,453.8L145.2,457.2Z" fill="#B2C22C"/><path d="M141.5,460.0L145.2,457.2L146.2,466.1Z" fill="#86A21E"/><path d="M141.5,460.0L146.2,466.1L137.8,462.8Z" fill="#55741A"/><ellipse cx="141.5" cy="460.0" rx="0.7" ry="1.3" fill="#4a3a12"/><path d="M136.9,453.8L145.2,457.2M136.9,453.8L137.8,462.8" stroke="#4E6E14" stroke-width="0.5" fill="none"/><path d="M142.5,468.9L137.8,462.8L146.2,466.1Z" fill="#B2C22C"/><path d="M142.5,468.9L146.2,466.1L147.1,475.1Z" fill="#86A21E"/><path d="M142.5,468.9L147.1,475.1L138.8,471.7Z" fill="#55741A"/><ellipse cx="142.5" cy="468.9" rx="0.7" ry="1.3" fill="#4a3a12"/><path d="M137.8,462.8L146.2,466.1M137.8,462.8L138.8,471.7" stroke="#4E6E14" stroke-width="0.5" fill="none"/><path d="M143.4,477.9L138.8,471.7L147.1,475.1Z" fill="#B2C22C"/><path d="M143.4,477.9L147.1,475.1L148.0,484.0Z" fill="#86A21E"/><path d="M143.4,477.9L148.0,484.0L139.7,480.7Z" fill="#55741A"/><ellipse cx="143.4" cy="477.9" rx="0.7" ry="1.3" fill="#4a3a12"/><path d="M138.8,471.7L147.1,475.1M138.8,471.7L139.7,480.7" stroke="#4E6E14" stroke-width="0.5" fill="none"/><path d="M144.3,486.8L139.7,480.7L148.0,484.0Z" fill="#B2C22C"/><path d="M144.3,486.8L148.0,484.0L149.0,493.0Z" fill="#86A21E"/><path d="M144.3,486.8L149.0,493.0L140.6,489.6Z" fill="#55741A"/><ellipse cx="144.3" cy="486.8" rx="0.7" ry="1.3" fill="#4a3a12"/><path d="M139.7,480.7L148.0,484.0M139.7,480.7L140.6,489.6" stroke="#4E6E14" stroke-width="0.5" fill="none"/><path d="M145.3,495.8L140.6,489.6L149.0,493.0Z" fill="#B2C22C"/><path d="M145.3,495.8L149.0,493.0L149.9,501.9Z" fill="#86A21E"/><path d="M145.3,495.8L149.9,501.9L141.6,498.6Z" fill="#55741A"/><ellipse cx="145.3" cy="495.8" rx="0.7" ry="1.3" fill="#4a3a12"/><path d="M140.6,489.6L149.0,493.0M140.6,489.6L141.6,498.6" stroke="#4E6E14" stroke-width="0.5" fill="none"/><path d="M146.2,504.7L141.6,498.6L149.9,501.9Z" fill="#B2C22C"/><path d="M146.2,504.7L149.9,501.9L150.9,510.9Z" fill="#86A21E"/><path d="M146.2,504.7L150.9,510.9L142.5,507.5Z" fill="#55741A"/><ellipse cx="146.2" cy="504.7" rx="0.7" ry="1.3" fill="#4a3a12"/><path d="M141.6,498.6L149.9,501.9M141.6,498.6L142.5,507.5" stroke="#4E6E14" stroke-width="0.5" fill="none"/><path d="M147.0,436.5L142.4,430.3L150.7,433.7Z" fill="#B2C22C"/><path d="M147.0,436.5L150.7,433.7L151.7,442.6Z" fill="#86A21E"/><path d="M147.0,436.5L151.7,442.6L143.3,439.3Z" fill="#55741A"/><ellipse cx="147.0" cy="436.5" rx="0.7" ry="1.3" fill="#4a3a12"/><path d="M142.4,430.3L150.7,433.7M142.4,430.3L143.3,439.3" stroke="#4E6E14" stroke-width="0.5" fill="none"/><path d="M148.0,445.4L143.3,439.3L151.7,442.6Z" fill="#B2C22C"/><path d="M148.0,445.4L151.7,442.6L152.6,451.6Z" fill="#86A21E"/><path d="M148.0,445.4L152.6,451.6L144.3,448.2Z" fill="#55741A"/><ellipse cx="148.0" cy="445.4" rx="0.7" ry="1.3" fill="#4a3a12"/><path d="M143.3,439.3L151.7,442.6M143.3,439.3L144.3,448.2" stroke="#4E6E14" stroke-width="0.5" fill="none"/><path d="M148.9,454.4L144.3,448.2L152.6,451.6Z" fill="#B2C22C"/><path d="M148.9,454.4L152.6,451.6L153.6,460.5Z" fill="#86A21E"/><path d="M148.9,454.4L153.6,460.5L145.2,457.2Z" fill="#55741A"/><ellipse cx="148.9" cy="454.4" rx="0.7" ry="1.3" fill="#4a3a12"/><path d="M144.3,448.2L152.6,451.6M144.3,448.2L145.2,457.2" stroke="#4E6E14" stroke-width="0.5" fill="none"/><path d="M149.9,463.3L145.2,457.2L153.6,460.5Z" fill="#B2C22C"/><path d="M149.9,463.3L153.6,460.5L154.5,469.5Z" fill="#86A21E"/><path d="M149.9,463.3L154.5,469.5L146.2,466.1Z" fill="#55741A"/><ellipse cx="149.9" cy="463.3" rx="0.7" ry="1.3" fill="#4a3a12"/><path d="M145.2,457.2L153.6,460.5M145.2,457.2L146.2,466.1" stroke="#4E6E14" stroke-width="0.5" fill="none"/><path d="M150.8,472.3L146.2,466.1L154.5,469.5Z" fill="#B2C22C"/><path d="M150.8,472.3L154.5,469.5L155.4,478.4Z" fill="#86A21E"/><path d="M150.8,472.3L155.4,478.4L147.1,475.1Z" fill="#55741A"/><ellipse cx="150.8" cy="472.3" rx="0.7" ry="1.3" fill="#4a3a12"/><path d="M146.2,466.1L154.5,469.5M146.2,466.1L147.1,475.1" stroke="#4E6E14" stroke-width="0.5" fill="none"/><path d="M151.7,481.2L147.1,475.1L155.4,478.4Z" fill="#B2C22C"/><path d="M151.7,481.2L155.4,478.4L156.4,487.4Z" fill="#86A21E"/><path d="M151.7,481.2L156.4,487.4L148.0,484.0Z" fill="#55741A"/><ellipse cx="151.7" cy="481.2" rx="0.7" ry="1.3" fill="#4a3a12"/><path d="M147.1,475.1L155.4,478.4M147.1,475.1L148.0,484.0" stroke="#4E6E14" stroke-width="0.5" fill="none"/><path d="M152.7,490.2L148.0,484.0L156.4,487.4Z" fill="#B2C22C"/><path d="M152.7,490.2L156.4,487.4L157.3,496.3Z" fill="#86A21E"/><path d="M152.7,490.2L157.3,496.3L149.0,493.0Z" fill="#55741A"/><ellipse cx="152.7" cy="490.2" rx="0.7" ry="1.3" fill="#4a3a12"/><path d="M148.0,484.0L156.4,487.4M148.0,484.0L149.0,493.0" stroke="#4E6E14" stroke-width="0.5" fill="none"/><path d="M153.6,499.1L149.0,493.0L157.3,496.3Z" fill="#B2C22C"/><path d="M153.6,499.1L157.3,496.3L158.3,505.3Z" fill="#86A21E"/><path d="M153.6,499.1L158.3,505.3L149.9,501.9Z" fill="#55741A"/><ellipse cx="153.6" cy="499.1" rx="0.7" ry="1.3" fill="#4a3a12"/><path d="M149.0,493.0L157.3,496.3M149.0,493.0L149.9,501.9" stroke="#4E6E14" stroke-width="0.5" fill="none"/><path d="M155.4,439.9L150.7,433.7L159.1,437.1Z" fill="#B2C22C"/><path d="M155.4,439.9L159.1,437.1L160.0,446.0Z" fill="#86A21E"/><path d="M155.4,439.9L160.0,446.0L151.7,442.6Z" fill="#55741A"/><ellipse cx="155.4" cy="439.9" rx="0.7" ry="1.3" fill="#4a3a12"/><path d="M150.7,433.7L159.1,437.1M150.7,433.7L151.7,442.6" stroke="#4E6E14" stroke-width="0.5" fill="none"/><path d="M156.3,448.8L151.7,442.6L160.0,446.0Z" fill="#B2C22C"/><path d="M156.3,448.8L160.0,446.0L161.0,455.0Z" fill="#86A21E"/><path d="M156.3,448.8L161.0,455.0L152.6,451.6Z" fill="#55741A"/><ellipse cx="156.3" cy="448.8" rx="0.7" ry="1.3" fill="#4a3a12"/><path d="M151.7,442.6L160.0,446.0M151.7,442.6L152.6,451.6" stroke="#4E6E14" stroke-width="0.5" fill="none"/><path d="M157.3,457.8L152.6,451.6L161.0,455.0Z" fill="#B2C22C"/><path d="M157.3,457.8L161.0,455.0L161.9,463.9Z" fill="#86A21E"/><path d="M157.3,457.8L161.9,463.9L153.6,460.5Z" fill="#55741A"/><ellipse cx="157.3" cy="457.8" rx="0.7" ry="1.3" fill="#4a3a12"/><path d="M152.6,451.6L161.0,455.0M152.6,451.6L153.6,460.5" stroke="#4E6E14" stroke-width="0.5" fill="none"/><path d="M158.2,466.7L153.6,460.5L161.9,463.9Z" fill="#B2C22C"/><path d="M158.2,466.7L161.9,463.9L162.8,472.9Z" fill="#86A21E"/><path d="M158.2,466.7L162.8,472.9L154.5,469.5Z" fill="#55741A"/><ellipse cx="158.2" cy="466.7" rx="0.7" ry="1.3" fill="#4a3a12"/><path d="M153.6,460.5L161.9,463.9M153.6,460.5L154.5,469.5" stroke="#4E6E14" stroke-width="0.5" fill="none"/><path d="M159.1,475.7L154.5,469.5L162.8,472.9Z" fill="#B2C22C"/><path d="M159.1,475.7L162.8,472.9L163.8,481.8Z" fill="#86A21E"/><path d="M159.1,475.7L163.8,481.8L155.4,478.4Z" fill="#55741A"/><ellipse cx="159.1" cy="475.7" rx="0.7" ry="1.3" fill="#4a3a12"/><path d="M154.5,469.5L162.8,472.9M154.5,469.5L155.4,478.4" stroke="#4E6E14" stroke-width="0.5" fill="none"/><path d="M160.1,484.6L155.4,478.4L163.8,481.8Z" fill="#B2C22C"/><path d="M160.1,484.6L163.8,481.8L164.7,490.8Z" fill="#86A21E"/><path d="M160.1,484.6L164.7,490.8L156.4,487.4Z" fill="#55741A"/><ellipse cx="160.1" cy="484.6" rx="0.7" ry="1.3" fill="#4a3a12"/><path d="M155.4,478.4L163.8,481.8M155.4,478.4L156.4,487.4" stroke="#4E6E14" stroke-width="0.5" fill="none"/><path d="M161.0,493.6L156.4,487.4L164.7,490.8Z" fill="#B2C22C"/><path d="M161.0,493.6L164.7,490.8L165.7,499.7Z" fill="#86A21E"/><path d="M161.0,493.6L165.7,499.7L157.3,496.3Z" fill="#55741A"/><ellipse cx="161.0" cy="493.6" rx="0.7" ry="1.3" fill="#4a3a12"/><path d="M156.4,487.4L164.7,490.8M156.4,487.4L157.3,496.3" stroke="#4E6E14" stroke-width="0.5" fill="none"/><path d="M162.0,502.5L157.3,496.3L165.7,499.7Z" fill="#B2C22C"/><path d="M162.0,502.5L165.7,499.7L166.6,508.7Z" fill="#86A21E"/><path d="M162.0,502.5L166.6,508.7L158.3,505.3Z" fill="#55741A"/><ellipse cx="162.0" cy="502.5" rx="0.7" ry="1.3" fill="#4a3a12"/><path d="M157.3,496.3L165.7,499.7M157.3,496.3L158.3,505.3" stroke="#4E6E14" stroke-width="0.5" fill="none"/><path d="M163.7,443.2L159.1,437.1L167.4,440.4Z" fill="#B2C22C"/><path d="M163.7,443.2L167.4,440.4L168.4,449.4Z" fill="#86A21E"/><path d="M163.7,443.2L168.4,449.4L160.0,446.0Z" fill="#55741A"/><ellipse cx="163.7" cy="443.2" rx="0.7" ry="1.3" fill="#4a3a12"/><path d="M159.1,437.1L167.4,440.4M159.1,437.1L160.0,446.0" stroke="#4E6E14" stroke-width="0.5" fill="none"/><path d="M164.7,452.2L160.0,446.0L168.4,449.4Z" fill="#B2C22C"/><path d="M164.7,452.2L168.4,449.4L169.3,458.3Z" fill="#86A21E"/><path d="M164.7,452.2L169.3,458.3L161.0,455.0Z" fill="#55741A"/><ellipse cx="164.7" cy="452.2" rx="0.7" ry="1.3" fill="#4a3a12"/><path d="M160.0,446.0L168.4,449.4M160.0,446.0L161.0,455.0" stroke="#4E6E14" stroke-width="0.5" fill="none"/><path d="M165.6,461.1L161.0,455.0L169.3,458.3Z" fill="#B2C22C"/><path d="M165.6,461.1L169.3,458.3L170.2,467.3Z" fill="#86A21E"/><path d="M165.6,461.1L170.2,467.3L161.9,463.9Z" fill="#55741A"/><ellipse cx="165.6" cy="461.1" rx="0.7" ry="1.3" fill="#4a3a12"/><path d="M161.0,455.0L169.3,458.3M161.0,455.0L161.9,463.9" stroke="#4E6E14" stroke-width="0.5" fill="none"/><path d="M166.5,470.1L161.9,463.9L170.2,467.3Z" fill="#B2C22C"/><path d="M166.5,470.1L170.2,467.3L171.2,476.2Z" fill="#86A21E"/><path d="M166.5,470.1L171.2,476.2L162.8,472.9Z" fill="#55741A"/><ellipse cx="166.5" cy="470.1" rx="0.7" ry="1.3" fill="#4a3a12"/><path d="M161.9,463.9L170.2,467.3M161.9,463.9L162.8,472.9" stroke="#4E6E14" stroke-width="0.5" fill="none"/><path d="M167.5,479.0L162.8,472.9L171.2,476.2Z" fill="#B2C22C"/><path d="M167.5,479.0L171.2,476.2L172.1,485.2Z" fill="#86A21E"/><path d="M167.5,479.0L172.1,485.2L163.8,481.8Z" fill="#55741A"/><ellipse cx="167.5" cy="479.0" rx="0.7" ry="1.3" fill="#4a3a12"/><path d="M162.8,472.9L171.2,476.2M162.8,472.9L163.8,481.8" stroke="#4E6E14" stroke-width="0.5" fill="none"/><path d="M168.4,488.0L163.8,481.8L172.1,485.2Z" fill="#B2C22C"/><path d="M168.4,488.0L172.1,485.2L173.1,494.1Z" fill="#86A21E"/><path d="M168.4,488.0L173.1,494.1L164.7,490.8Z" fill="#55741A"/><ellipse cx="168.4" cy="488.0" rx="0.7" ry="1.3" fill="#4a3a12"/><path d="M163.8,481.8L172.1,485.2M163.8,481.8L164.7,490.8" stroke="#4E6E14" stroke-width="0.5" fill="none"/><path d="M169.4,496.9L164.7,490.8L173.1,494.1Z" fill="#B2C22C"/><path d="M169.4,496.9L173.1,494.1L174.0,503.1Z" fill="#86A21E"/><path d="M169.4,496.9L174.0,503.1L165.7,499.7Z" fill="#55741A"/><ellipse cx="169.4" cy="496.9" rx="0.7" ry="1.3" fill="#4a3a12"/><path d="M164.7,490.8L173.1,494.1M164.7,490.8L165.7,499.7" stroke="#4E6E14" stroke-width="0.5" fill="none"/><path d="M170.3,505.9L165.7,499.7L174.0,503.1Z" fill="#B2C22C"/><path d="M170.3,505.9L174.0,503.1L175.0,512.0Z" fill="#86A21E"/><path d="M170.3,505.9L175.0,512.0L166.6,508.7Z" fill="#55741A"/><ellipse cx="170.3" cy="505.9" rx="0.7" ry="1.3" fill="#4a3a12"/><path d="M165.7,499.7L174.0,503.1M165.7,499.7L166.6,508.7" stroke="#4E6E14" stroke-width="0.5" fill="none"/><path d="M171.1,437.6L166.5,431.5L174.8,434.9Z" fill="#B2C22C"/><path d="M171.1,437.6L174.8,434.9L175.8,443.8Z" fill="#86A21E"/><path d="M171.1,437.6L175.8,443.8L167.4,440.4Z" fill="#55741A"/><ellipse cx="171.1" cy="437.6" rx="0.7" ry="1.3" fill="#4a3a12"/><path d="M166.5,431.5L174.8,434.9M166.5,431.5L167.4,440.4" stroke="#4E6E14" stroke-width="0.5" fill="none"/><path d="M172.1,446.6L167.4,440.4L175.8,443.8Z" fill="#B2C22C"/><path d="M172.1,446.6L175.8,443.8L176.7,452.8Z" fill="#86A21E"/><path d="M172.1,446.6L176.7,452.8L168.4,449.4Z" fill="#55741A"/><ellipse cx="172.1" cy="446.6" rx="0.7" ry="1.3" fill="#4a3a12"/><path d="M167.4,440.4L175.8,443.8M167.4,440.4L168.4,449.4" stroke="#4E6E14" stroke-width="0.5" fill="none"/><path d="M173.0,455.5L168.4,449.4L176.7,452.8Z" fill="#B2C22C"/><path d="M173.0,455.5L176.7,452.8L177.7,461.7Z" fill="#86A21E"/><path d="M173.0,455.5L177.7,461.7L169.3,458.3Z" fill="#55741A"/><ellipse cx="173.0" cy="455.5" rx="0.7" ry="1.3" fill="#4a3a12"/><path d="M168.4,449.4L176.7,452.8M168.4,449.4L169.3,458.3" stroke="#4E6E14" stroke-width="0.5" fill="none"/><path d="M174.0,464.5L169.3,458.3L177.7,461.7Z" fill="#B2C22C"/><path d="M174.0,464.5L177.7,461.7L178.6,470.7Z" fill="#86A21E"/><path d="M174.0,464.5L178.6,470.7L170.2,467.3Z" fill="#55741A"/><ellipse cx="174.0" cy="464.5" rx="0.7" ry="1.3" fill="#4a3a12"/><path d="M169.3,458.3L177.7,461.7M169.3,458.3L170.2,467.3" stroke="#4E6E14" stroke-width="0.5" fill="none"/><path d="M174.9,473.4L170.2,467.3L178.6,470.7Z" fill="#B2C22C"/><path d="M174.9,473.4L178.6,470.7L179.5,479.6Z" fill="#86A21E"/><path d="M174.9,473.4L179.5,479.6L171.2,476.2Z" fill="#55741A"/><ellipse cx="174.9" cy="473.4" rx="0.7" ry="1.3" fill="#4a3a12"/><path d="M170.2,467.3L178.6,470.7M170.2,467.3L171.2,476.2" stroke="#4E6E14" stroke-width="0.5" fill="none"/><path d="M175.8,482.4L171.2,476.2L179.5,479.6Z" fill="#B2C22C"/><path d="M175.8,482.4L179.5,479.6L180.5,488.6Z" fill="#86A21E"/><path d="M175.8,482.4L180.5,488.6L172.1,485.2Z" fill="#55741A"/><ellipse cx="175.8" cy="482.4" rx="0.7" ry="1.3" fill="#4a3a12"/><path d="M171.2,476.2L179.5,479.6M171.2,476.2L172.1,485.2" stroke="#4E6E14" stroke-width="0.5" fill="none"/><path d="M176.8,491.3L172.1,485.2L180.5,488.6Z" fill="#B2C22C"/><path d="M176.8,491.3L180.5,488.6L181.4,497.5Z" fill="#86A21E"/><path d="M176.8,491.3L181.4,497.5L173.1,494.1Z" fill="#55741A"/><ellipse cx="176.8" cy="491.3" rx="0.7" ry="1.3" fill="#4a3a12"/><path d="M172.1,485.2L180.5,488.6M172.1,485.2L173.1,494.1" stroke="#4E6E14" stroke-width="0.5" fill="none"/><path d="M177.7,500.3L173.1,494.1L181.4,497.5Z" fill="#B2C22C"/><path d="M177.7,500.3L181.4,497.5L182.4,506.5Z" fill="#86A21E"/><path d="M177.7,500.3L182.4,506.5L174.0,503.1Z" fill="#55741A"/><ellipse cx="177.7" cy="500.3" rx="0.7" ry="1.3" fill="#4a3a12"/><path d="M173.1,494.1L181.4,497.5M173.1,494.1L174.0,503.1" stroke="#4E6E14" stroke-width="0.5" fill="none"/><path d="M179.5,441.0L174.8,434.9L183.2,438.2Z" fill="#B2C22C"/><path d="M179.5,441.0L183.2,438.2L184.1,447.2Z" fill="#86A21E"/><path d="M179.5,441.0L184.1,447.2L175.8,443.8Z" fill="#55741A"/><ellipse cx="179.5" cy="441.0" rx="0.7" ry="1.3" fill="#4a3a12"/><path d="M174.8,434.9L183.2,438.2M174.8,434.9L175.8,443.8" stroke="#4E6E14" stroke-width="0.5" fill="none"/><path d="M180.4,450.0L175.8,443.8L184.1,447.2Z" fill="#B2C22C"/><path d="M180.4,450.0L184.1,447.2L185.1,456.1Z" fill="#86A21E"/><path d="M180.4,450.0L185.1,456.1L176.7,452.8Z" fill="#55741A"/><ellipse cx="180.4" cy="450.0" rx="0.7" ry="1.3" fill="#4a3a12"/><path d="M175.8,443.8L184.1,447.2M175.8,443.8L176.7,452.8" stroke="#4E6E14" stroke-width="0.5" fill="none"/><path d="M181.4,458.9L176.7,452.8L185.1,456.1Z" fill="#B2C22C"/><path d="M181.4,458.9L185.1,456.1L186.0,465.1Z" fill="#86A21E"/><path d="M181.4,458.9L186.0,465.1L177.7,461.7Z" fill="#55741A"/><ellipse cx="181.4" cy="458.9" rx="0.7" ry="1.3" fill="#4a3a12"/><path d="M176.7,452.8L185.1,456.1M176.7,452.8L177.7,461.7" stroke="#4E6E14" stroke-width="0.5" fill="none"/><path d="M182.3,467.9L177.7,461.7L186.0,465.1Z" fill="#B2C22C"/><path d="M182.3,467.9L186.0,465.1L186.9,474.0Z" fill="#86A21E"/><path d="M182.3,467.9L186.9,474.0L178.6,470.7Z" fill="#55741A"/><ellipse cx="182.3" cy="467.9" rx="0.7" ry="1.3" fill="#4a3a12"/><path d="M177.7,461.7L186.0,465.1M177.7,461.7L178.6,470.7" stroke="#4E6E14" stroke-width="0.5" fill="none"/><path d="M183.2,476.8L178.6,470.7L186.9,474.0Z" fill="#B2C22C"/><path d="M183.2,476.8L186.9,474.0L187.9,483.0Z" fill="#86A21E"/><path d="M183.2,476.8L187.9,483.0L179.5,479.6Z" fill="#55741A"/><ellipse cx="183.2" cy="476.8" rx="0.7" ry="1.3" fill="#4a3a12"/><path d="M178.6,470.7L186.9,474.0M178.6,470.7L179.5,479.6" stroke="#4E6E14" stroke-width="0.5" fill="none"/><path d="M184.2,485.8L179.5,479.6L187.9,483.0Z" fill="#B2C22C"/><path d="M184.2,485.8L187.9,483.0L188.8,491.9Z" fill="#86A21E"/><path d="M184.2,485.8L188.8,491.9L180.5,488.6Z" fill="#55741A"/><ellipse cx="184.2" cy="485.8" rx="0.7" ry="1.3" fill="#4a3a12"/><path d="M179.5,479.6L187.9,483.0M179.5,479.6L180.5,488.6" stroke="#4E6E14" stroke-width="0.5" fill="none"/><path d="M185.1,494.7L180.5,488.6L188.8,491.9Z" fill="#B2C22C"/><path d="M185.1,494.7L188.8,491.9L189.8,500.9Z" fill="#86A21E"/><path d="M185.1,494.7L189.8,500.9L181.4,497.5Z" fill="#55741A"/><ellipse cx="185.1" cy="494.7" rx="0.7" ry="1.3" fill="#4a3a12"/><path d="M180.5,488.6L188.8,491.9M180.5,488.6L181.4,497.5" stroke="#4E6E14" stroke-width="0.5" fill="none"/><path d="M186.1,503.7L181.4,497.5L189.8,500.9Z" fill="#B2C22C"/><path d="M186.1,503.7L189.8,500.9L190.7,509.8Z" fill="#86A21E"/><path d="M186.1,503.7L190.7,509.8L182.4,506.5Z" fill="#55741A"/><ellipse cx="186.1" cy="503.7" rx="0.7" ry="1.3" fill="#4a3a12"/><path d="M181.4,497.5L189.8,500.9M181.4,497.5L182.4,506.5" stroke="#4E6E14" stroke-width="0.5" fill="none"/><path d="M187.8,444.4L183.2,438.2L191.5,441.6Z" fill="#B2C22C"/><path d="M187.8,444.4L191.5,441.6L192.5,450.5Z" fill="#86A21E"/><path d="M187.8,444.4L192.5,450.5L184.1,447.2Z" fill="#55741A"/><ellipse cx="187.8" cy="444.4" rx="0.7" ry="1.3" fill="#4a3a12"/><path d="M183.2,438.2L191.5,441.6M183.2,438.2L184.1,447.2" stroke="#4E6E14" stroke-width="0.5" fill="none"/><path d="M188.8,453.3L184.1,447.2L192.5,450.5Z" fill="#B2C22C"/><path d="M188.8,453.3L192.5,450.5L193.4,459.5Z" fill="#86A21E"/><path d="M188.8,453.3L193.4,459.5L185.1,456.1Z" fill="#55741A"/><ellipse cx="188.8" cy="453.3" rx="0.7" ry="1.3" fill="#4a3a12"/><path d="M184.1,447.2L192.5,450.5M184.1,447.2L185.1,456.1" stroke="#4E6E14" stroke-width="0.5" fill="none"/><path d="M189.7,462.3L185.1,456.1L193.4,459.5Z" fill="#B2C22C"/><path d="M189.7,462.3L193.4,459.5L194.3,468.5Z" fill="#86A21E"/><path d="M189.7,462.3L194.3,468.5L186.0,465.1Z" fill="#55741A"/><ellipse cx="189.7" cy="462.3" rx="0.7" ry="1.3" fill="#4a3a12"/><path d="M185.1,456.1L193.4,459.5M185.1,456.1L186.0,465.1" stroke="#4E6E14" stroke-width="0.5" fill="none"/><path d="M190.6,471.2L186.0,465.1L194.3,468.5Z" fill="#B2C22C"/><path d="M190.6,471.2L194.3,468.5L195.3,477.4Z" fill="#86A21E"/><path d="M190.6,471.2L195.3,477.4L186.9,474.0Z" fill="#55741A"/><ellipse cx="190.6" cy="471.2" rx="0.7" ry="1.3" fill="#4a3a12"/><path d="M186.0,465.1L194.3,468.5M186.0,465.1L186.9,474.0" stroke="#4E6E14" stroke-width="0.5" fill="none"/><path d="M191.6,480.2L186.9,474.0L195.3,477.4Z" fill="#B2C22C"/><path d="M191.6,480.2L195.3,477.4L196.2,486.4Z" fill="#86A21E"/><path d="M191.6,480.2L196.2,486.4L187.9,483.0Z" fill="#55741A"/><ellipse cx="191.6" cy="480.2" rx="0.7" ry="1.3" fill="#4a3a12"/><path d="M186.9,474.0L195.3,477.4M186.9,474.0L187.9,483.0" stroke="#4E6E14" stroke-width="0.5" fill="none"/><path d="M192.5,489.1L187.9,483.0L196.2,486.4Z" fill="#B2C22C"/><path d="M192.5,489.1L196.2,486.4L197.2,495.3Z" fill="#86A21E"/><path d="M192.5,489.1L197.2,495.3L188.8,491.9Z" fill="#55741A"/><ellipse cx="192.5" cy="489.1" rx="0.7" ry="1.3" fill="#4a3a12"/><path d="M187.9,483.0L196.2,486.4M187.9,483.0L188.8,491.9" stroke="#4E6E14" stroke-width="0.5" fill="none"/><path d="M193.5,498.1L188.8,491.9L197.2,495.3Z" fill="#B2C22C"/><path d="M193.5,498.1L197.2,495.3L198.1,504.3Z" fill="#86A21E"/><path d="M193.5,498.1L198.1,504.3L189.8,500.9Z" fill="#55741A"/><ellipse cx="193.5" cy="498.1" rx="0.7" ry="1.3" fill="#4a3a12"/><path d="M188.8,491.9L197.2,495.3M188.8,491.9L189.8,500.9" stroke="#4E6E14" stroke-width="0.5" fill="none"/><path d="M195.2,438.8L190.6,432.6L198.9,436.0Z" fill="#B2C22C"/><path d="M195.2,438.8L198.9,436.0L199.9,445.0Z" fill="#86A21E"/><path d="M195.2,438.8L199.9,445.0L191.5,441.6Z" fill="#55741A"/><ellipse cx="195.2" cy="438.8" rx="0.7" ry="1.3" fill="#4a3a12"/><path d="M190.6,432.6L198.9,436.0M190.6,432.6L191.5,441.6" stroke="#4E6E14" stroke-width="0.5" fill="none"/><path d="M196.2,447.8L191.5,441.6L199.9,445.0Z" fill="#B2C22C"/><path d="M196.2,447.8L199.9,445.0L200.8,453.9Z" fill="#86A21E"/><path d="M196.2,447.8L200.8,453.9L192.5,450.5Z" fill="#55741A"/><ellipse cx="196.2" cy="447.8" rx="0.7" ry="1.3" fill="#4a3a12"/><path d="M191.5,441.6L199.9,445.0M191.5,441.6L192.5,450.5" stroke="#4E6E14" stroke-width="0.5" fill="none"/><path d="M197.1,456.7L192.5,450.5L200.8,453.9Z" fill="#B2C22C"/><path d="M197.1,456.7L200.8,453.9L201.7,462.9Z" fill="#86A21E"/><path d="M197.1,456.7L201.7,462.9L193.4,459.5Z" fill="#55741A"/><ellipse cx="197.1" cy="456.7" rx="0.7" ry="1.3" fill="#4a3a12"/><path d="M192.5,450.5L200.8,453.9M192.5,450.5L193.4,459.5" stroke="#4E6E14" stroke-width="0.5" fill="none"/><path d="M198.0,465.7L193.4,459.5L201.7,462.9Z" fill="#B2C22C"/><path d="M198.0,465.7L201.7,462.9L202.7,471.8Z" fill="#86A21E"/><path d="M198.0,465.7L202.7,471.8L194.3,468.5Z" fill="#55741A"/><ellipse cx="198.0" cy="465.7" rx="0.7" ry="1.3" fill="#4a3a12"/><path d="M193.4,459.5L201.7,462.9M193.4,459.5L194.3,468.5" stroke="#4E6E14" stroke-width="0.5" fill="none"/><path d="M199.0,474.6L194.3,468.5L202.7,471.8Z" fill="#B2C22C"/><path d="M199.0,474.6L202.7,471.8L203.6,480.8Z" fill="#86A21E"/><path d="M199.0,474.6L203.6,480.8L195.3,477.4Z" fill="#55741A"/><ellipse cx="199.0" cy="474.6" rx="0.7" ry="1.3" fill="#4a3a12"/><path d="M194.3,468.5L202.7,471.8M194.3,468.5L195.3,477.4" stroke="#4E6E14" stroke-width="0.5" fill="none"/><path d="M199.9,483.6L195.3,477.4L203.6,480.8Z" fill="#B2C22C"/><path d="M199.9,483.6L203.6,480.8L204.6,489.7Z" fill="#86A21E"/><path d="M199.9,483.6L204.6,489.7L196.2,486.4Z" fill="#55741A"/><ellipse cx="199.9" cy="483.6" rx="0.7" ry="1.3" fill="#4a3a12"/><path d="M195.3,477.4L203.6,480.8M195.3,477.4L196.2,486.4" stroke="#4E6E14" stroke-width="0.5" fill="none"/><path d="M200.9,492.5L196.2,486.4L204.6,489.7Z" fill="#B2C22C"/><path d="M200.9,492.5L204.6,489.7L205.5,498.7Z" fill="#86A21E"/><path d="M200.9,492.5L205.5,498.7L197.2,495.3Z" fill="#55741A"/><ellipse cx="200.9" cy="492.5" rx="0.7" ry="1.3" fill="#4a3a12"/><path d="M196.2,486.4L204.6,489.7M196.2,486.4L197.2,495.3" stroke="#4E6E14" stroke-width="0.5" fill="none"/><path d="M201.8,501.5L197.2,495.3L205.5,498.7Z" fill="#B2C22C"/><path d="M201.8,501.5L205.5,498.7L206.5,507.6Z" fill="#86A21E"/><path d="M201.8,501.5L206.5,507.6L198.1,504.3Z" fill="#55741A"/><ellipse cx="201.8" cy="501.5" rx="0.7" ry="1.3" fill="#4a3a12"/><path d="M197.2,495.3L205.5,498.7M197.2,495.3L198.1,504.3" stroke="#4E6E14" stroke-width="0.5" fill="none"/></g><g transform="translate(239.8 410.2) rotate(14)"><ellipse rx="8.0" ry="13.2" fill="#6B1C25"/><clipPath id="rc0"><ellipse rx="8.0" ry="13.2"/></clipPath><g clip-path="url(#rc0)" stroke="#4d1219" stroke-width="0.5"><line x1="-15" y1="-29.4" x2="15" y2="-11.4"/><line x1="-15" y1="-11.4" x2="15" y2="-29.4"/><line x1="-15" y1="-26.0" x2="15" y2="-8.0"/><line x1="-15" y1="-8.0" x2="15" y2="-26.0"/><line x1="-15" y1="-22.6" x2="15" y2="-4.6"/><line x1="-15" y1="-4.6" x2="15" y2="-22.6"/><line x1="-15" y1="-19.2" x2="15" y2="-1.2"/><line x1="-15" y1="-1.2" x2="15" y2="-19.2"/><line x1="-15" y1="-15.8" x2="15" y2="2.2"/><line x1="-15" y1="2.2" x2="15" y2="-15.8"/><line x1="-15" y1="-12.4" x2="15" y2="5.6"/><line x1="-15" y1="5.6" x2="15" y2="-12.4"/><line x1="-15" y1="-9.0" x2="15" y2="9.0"/><line x1="-15" y1="9.0" x2="15" y2="-9.0"/><line x1="-15" y1="-5.6" x2="15" y2="12.4"/><line x1="-15" y1="12.4" x2="15" y2="-5.6"/><line x1="-15" y1="-2.2" x2="15" y2="15.8"/><line x1="-15" y1="15.8" x2="15" y2="-2.2"/><line x1="-15" y1="1.2" x2="15" y2="19.2"/><line x1="-15" y1="19.2" x2="15" y2="1.2"/><line x1="-15" y1="4.6" x2="15" y2="22.6"/><line x1="-15" y1="22.6" x2="15" y2="4.6"/><line x1="-15" y1="8.0" x2="15" y2="26.0"/><line x1="-15" y1="26.0" x2="15" y2="8.0"/><line x1="-15" y1="11.4" x2="15" y2="29.4"/><line x1="-15" y1="29.4" x2="15" y2="11.4"/></g></g><g transform="translate(260 420.6) rotate(-22)"><ellipse rx="14" ry="7.2" fill="#6B1C25"/><clipPath id="rc1"><ellipse rx="14" ry="7.2"/></clipPath><g clip-path="url(#rc1)" stroke="#4d1219" stroke-width="0.5"><line x1="-15" y1="-29.4" x2="15" y2="-11.4"/><line x1="-15" y1="-11.4" x2="15" y2="-29.4"/><line x1="-15" y1="-26.0" x2="15" y2="-8.0"/><line x1="-15" y1="-8.0" x2="15" y2="-26.0"/><line x1="-15" y1="-22.6" x2="15" y2="-4.6"/><line x1="-15" y1="-4.6" x2="15" y2="-22.6"/><line x1="-15" y1="-19.2" x2="15" y2="-1.2"/><line x1="-15" y1="-1.2" x2="15" y2="-19.2"/><line x1="-15" y1="-15.8" x2="15" y2="2.2"/><line x1="-15" y1="2.2" x2="15" y2="-15.8"/><line x1="-15" y1="-12.4" x2="15" y2="5.6"/><line x1="-15" y1="5.6" x2="15" y2="-12.4"/><line x1="-15" y1="-9.0" x2="15" y2="9.0"/><line x1="-15" y1="9.0" x2="15" y2="-9.0"/><line x1="-15" y1="-5.6" x2="15" y2="12.4"/><line x1="-15" y1="12.4" x2="15" y2="-5.6"/><line x1="-15" y1="-2.2" x2="15" y2="15.8"/><line x1="-15" y1="15.8" x2="15" y2="-2.2"/><line x1="-15" y1="1.2" x2="15" y2="19.2"/><line x1="-15" y1="19.2" x2="15" y2="1.2"/><line x1="-15" y1="4.6" x2="15" y2="22.6"/><line x1="-15" y1="22.6" x2="15" y2="4.6"/><line x1="-15" y1="8.0" x2="15" y2="26.0"/><line x1="-15" y1="26.0" x2="15" y2="8.0"/><line x1="-15" y1="11.4" x2="15" y2="29.4"/><line x1="-15" y1="29.4" x2="15" y2="11.4"/></g></g><path d="M205.0,507.6Q243.7,501.3 282.8,500.1M164.2,509.8Q191.1,514.7 218.5,514.4M197.9,508.0Q229.4,519.2 262.2,525.8M179.7,508.9Q208.7,512.7 237.3,506.5M198.8,507.9Q223.9,494.3 251.2,485.4" fill="none" stroke="#38724D" stroke-width="1.5" stroke-linecap="round"/><path d="M205.0,507.6Q243.7,501.3 282.8,500.1M164.2,509.8Q191.1,514.7 218.5,514.4M197.9,508.0Q229.4,519.2 262.2,525.8M179.7,508.9Q208.7,512.7 237.3,506.5M198.8,507.9Q223.9,494.3 251.2,485.4" fill="none" stroke="#9CC2A8" stroke-width="0.55" stroke-linecap="round"/><path d="M237.4,426.7Q225.5,411.3 236.2,395.2M245.7,422.0Q252.8,409.0 264.6,400.0M249.2,425.5Q270.6,425.5 290.7,418.0M238.6,437.4Q251.6,443.3 262.3,438.6M222.0,436.2Q220.8,416.1 233.8,399.0M205.4,443.3Q207.8,427.9 222.0,417.3M231.5,430.3Q240.9,418.4 261.1,416.1M240.9,440.9Q256.4,451.6 268.2,440.9M235.0,427.9Q249.2,404.2 249.2,399.5M333.8,491.6Q348.9,494.8 364.2,493.5M337.6,491.1Q359.2,493.3 378.1,504.2M334.8,491.5Q356.1,490.2 374.9,480.3M332.2,491.9Q350.3,490.0 365.5,480.3M321.0,493.6Q339.8,490.6 358.4,494.4M330.4,492.1Q344.7,484.7 359.8,479.6M319.4,493.8Q339.0,488.3 356.7,478.3M335.6,491.4Q352.8,483.4 371.2,478.9" fill="none" stroke="#55AB3E" stroke-width="2.3" stroke-linecap="round"/><path d="M237.4,426.7Q225.5,411.3 236.2,395.2M245.7,422.0Q252.8,409.0 264.6,400.0M249.2,425.5Q270.6,425.5 290.7,418.0M238.6,437.4Q251.6,443.3 262.3,438.6M222.0,436.2Q220.8,416.1 233.8,399.0M205.4,443.3Q207.8,427.9 222.0,417.3M231.5,430.3Q240.9,418.4 261.1,416.1M240.9,440.9Q256.4,451.6 268.2,440.9M235.0,427.9Q249.2,404.2 249.2,399.5M333.8,491.6Q348.9,494.8 364.2,493.5M337.6,491.1Q359.2,493.3 378.1,504.2M334.8,491.5Q356.1,490.2 374.9,480.3M332.2,491.9Q350.3,490.0 365.5,480.3M321.0,493.6Q339.8,490.6 358.4,494.4M330.4,492.1Q344.7,484.7 359.8,479.6M319.4,493.8Q339.0,488.3 356.7,478.3M335.6,491.4Q352.8,483.4 371.2,478.9" fill="none" stroke="#93D465" stroke-width="1.2" stroke-linecap="round"/><g transform="translate(278.2 486.6) rotate(10) scale(1.0)"><path d="M0,0 Q-4.5,-6 -1,-14 Q3.5,-7 4,0Z" fill="#E79A3C" stroke="#B8641C" stroke-width="0.7"/></g><g transform="translate(289.5 491.3) rotate(40) scale(1.0)"><path d="M0,0 Q-4.5,-6 -1,-14 Q3.5,-7 4,0Z" fill="#E79A3C" stroke="#B8641C" stroke-width="0.7"/></g><g transform="translate(301.4 504.4) rotate(80) scale(1.0)"><path d="M0,0 Q-4.5,-6 -1,-14 Q3.5,-7 4,0Z" fill="#E79A3C" stroke="#B8641C" stroke-width="0.7"/></g><g transform="translate(297.8 521.0) rotate(120) scale(1.0)"><path d="M0,0 Q-4.5,-6 -1,-14 Q3.5,-7 4,0Z" fill="#E79A3C" stroke="#B8641C" stroke-width="0.7"/></g><g transform="translate(283.6 531.6) rotate(160) scale(1.0)"><path d="M0,0 Q-4.5,-6 -1,-14 Q3.5,-7 4,0Z" fill="#E79A3C" stroke="#B8641C" stroke-width="0.7"/></g><g transform="translate(261.1 497.3) rotate(-40) scale(1.0)"><path d="M0,0 Q-4.5,-6 -1,-14 Q3.5,-7 4,0Z" fill="#E79A3C" stroke="#B8641C" stroke-width="0.7"/></g><g transform="translate(291.9 489.1) rotate(-20)"><ellipse rx="8.2" ry="5.3" fill="#F8D968" stroke="#DDAE3C" stroke-width="0.6"/><clipPath id="pc0"><ellipse rx="8.2" ry="5.3"/></clipPath><g clip-path="url(#pc0)" stroke="#E2B546" stroke-width="0.4"><line x1="-25.0" y1="-10" x2="-9.0" y2="10"/><line x1="-9.0" y1="-10" x2="-25.0" y2="10"/><line x1="-21.6" y1="-10" x2="-5.6" y2="10"/><line x1="-5.6" y1="-10" x2="-21.6" y2="10"/><line x1="-18.2" y1="-10" x2="-2.2" y2="10"/><line x1="-2.2" y1="-10" x2="-18.2" y2="10"/><line x1="-14.8" y1="-10" x2="1.2" y2="10"/><line x1="1.2" y1="-10" x2="-14.8" y2="10"/><line x1="-11.4" y1="-10" x2="4.6" y2="10"/><line x1="4.6" y1="-10" x2="-11.4" y2="10"/><line x1="-8.0" y1="-10" x2="8.0" y2="10"/><line x1="8.0" y1="-10" x2="-8.0" y2="10"/><line x1="-4.6" y1="-10" x2="11.4" y2="10"/><line x1="11.4" y1="-10" x2="-4.6" y2="10"/><line x1="-1.2" y1="-10" x2="14.8" y2="10"/><line x1="14.8" y1="-10" x2="-1.2" y2="10"/><line x1="2.2" y1="-10" x2="18.2" y2="10"/><line x1="18.2" y1="-10" x2="2.2" y2="10"/><line x1="5.6" y1="-10" x2="21.6" y2="10"/><line x1="21.6" y1="-10" x2="5.6" y2="10"/><line x1="9.0" y1="-10" x2="25.0" y2="10"/><line x1="25.0" y1="-10" x2="9.0" y2="10"/></g></g><g transform="translate(278.2 489.1) rotate(10)"><ellipse rx="5.6" ry="7.4" fill="#F8D968" stroke="#DDAE3C" stroke-width="0.6"/><clipPath id="pc1"><ellipse rx="5.6" ry="7.4"/></clipPath><g clip-path="url(#pc1)" stroke="#E2B546" stroke-width="0.4"><line x1="-25.0" y1="-10" x2="-9.0" y2="10"/><line x1="-9.0" y1="-10" x2="-25.0" y2="10"/><line x1="-21.6" y1="-10" x2="-5.6" y2="10"/><line x1="-5.6" y1="-10" x2="-21.6" y2="10"/><line x1="-18.2" y1="-10" x2="-2.2" y2="10"/><line x1="-2.2" y1="-10" x2="-18.2" y2="10"/><line x1="-14.8" y1="-10" x2="1.2" y2="10"/><line x1="1.2" y1="-10" x2="-14.8" y2="10"/><line x1="-11.4" y1="-10" x2="4.6" y2="10"/><line x1="4.6" y1="-10" x2="-11.4" y2="10"/><line x1="-8.0" y1="-10" x2="8.0" y2="10"/><line x1="8.0" y1="-10" x2="-8.0" y2="10"/><line x1="-4.6" y1="-10" x2="11.4" y2="10"/><line x1="11.4" y1="-10" x2="-4.6" y2="10"/><line x1="-1.2" y1="-10" x2="14.8" y2="10"/><line x1="14.8" y1="-10" x2="-1.2" y2="10"/><line x1="2.2" y1="-10" x2="18.2" y2="10"/><line x1="18.2" y1="-10" x2="2.2" y2="10"/><line x1="5.6" y1="-10" x2="21.6" y2="10"/><line x1="21.6" y1="-10" x2="5.6" y2="10"/><line x1="9.0" y1="-10" x2="25.0" y2="10"/><line x1="25.0" y1="-10" x2="9.0" y2="10"/></g></g><g transform="translate(297.8 507.8) rotate(8)"><ellipse rx="12.2" ry="6.4" fill="#F8D968" stroke="#DDAE3C" stroke-width="0.6"/><clipPath id="pc2"><ellipse rx="12.2" ry="6.4"/></clipPath><g clip-path="url(#pc2)" stroke="#E2B546" stroke-width="0.4"><line x1="-25.0" y1="-10" x2="-9.0" y2="10"/><line x1="-9.0" y1="-10" x2="-25.0" y2="10"/><line x1="-21.6" y1="-10" x2="-5.6" y2="10"/><line x1="-5.6" y1="-10" x2="-21.6" y2="10"/><line x1="-18.2" y1="-10" x2="-2.2" y2="10"/><line x1="-2.2" y1="-10" x2="-18.2" y2="10"/><line x1="-14.8" y1="-10" x2="1.2" y2="10"/><line x1="1.2" y1="-10" x2="-14.8" y2="10"/><line x1="-11.4" y1="-10" x2="4.6" y2="10"/><line x1="4.6" y1="-10" x2="-11.4" y2="10"/><line x1="-8.0" y1="-10" x2="8.0" y2="10"/><line x1="8.0" y1="-10" x2="-8.0" y2="10"/><line x1="-4.6" y1="-10" x2="11.4" y2="10"/><line x1="11.4" y1="-10" x2="-4.6" y2="10"/><line x1="-1.2" y1="-10" x2="14.8" y2="10"/><line x1="14.8" y1="-10" x2="-1.2" y2="10"/><line x1="2.2" y1="-10" x2="18.2" y2="10"/><line x1="18.2" y1="-10" x2="2.2" y2="10"/><line x1="5.6" y1="-10" x2="21.6" y2="10"/><line x1="21.6" y1="-10" x2="5.6" y2="10"/><line x1="9.0" y1="-10" x2="25.0" y2="10"/><line x1="25.0" y1="-10" x2="9.0" y2="10"/></g></g><g transform="translate(284.8 516.1) rotate(10)"><ellipse rx="11.1" ry="6.1" fill="#F8D968" stroke="#DDAE3C" stroke-width="0.6"/><clipPath id="pc3"><ellipse rx="11.1" ry="6.1"/></clipPath><g clip-path="url(#pc3)" stroke="#E2B546" stroke-width="0.4"><line x1="-25.0" y1="-10" x2="-9.0" y2="10"/><line x1="-9.0" y1="-10" x2="-25.0" y2="10"/><line x1="-21.6" y1="-10" x2="-5.6" y2="10"/><line x1="-5.6" y1="-10" x2="-21.6" y2="10"/><line x1="-18.2" y1="-10" x2="-2.2" y2="10"/><line x1="-2.2" y1="-10" x2="-18.2" y2="10"/><line x1="-14.8" y1="-10" x2="1.2" y2="10"/><line x1="1.2" y1="-10" x2="-14.8" y2="10"/><line x1="-11.4" y1="-10" x2="4.6" y2="10"/><line x1="4.6" y1="-10" x2="-11.4" y2="10"/><line x1="-8.0" y1="-10" x2="8.0" y2="10"/><line x1="8.0" y1="-10" x2="-8.0" y2="10"/><line x1="-4.6" y1="-10" x2="11.4" y2="10"/><line x1="11.4" y1="-10" x2="-4.6" y2="10"/><line x1="-1.2" y1="-10" x2="14.8" y2="10"/><line x1="14.8" y1="-10" x2="-1.2" y2="10"/><line x1="2.2" y1="-10" x2="18.2" y2="10"/><line x1="18.2" y1="-10" x2="2.2" y2="10"/><line x1="5.6" y1="-10" x2="21.6" y2="10"/><line x1="21.6" y1="-10" x2="5.6" y2="10"/><line x1="9.0" y1="-10" x2="25.0" y2="10"/><line x1="25.0" y1="-10" x2="9.0" y2="10"/></g></g><g transform="translate(266.3 493.8) rotate(25)"><ellipse rx="8.0" ry="9.6" fill="#F8D968" stroke="#DDAE3C" stroke-width="0.6"/><clipPath id="pc4"><ellipse rx="8.0" ry="9.6"/></clipPath><g clip-path="url(#pc4)" stroke="#E2B546" stroke-width="0.4"><line x1="-25.0" y1="-10" x2="-9.0" y2="10"/><line x1="-9.0" y1="-10" x2="-25.0" y2="10"/><line x1="-21.6" y1="-10" x2="-5.6" y2="10"/><line x1="-5.6" y1="-10" x2="-21.6" y2="10"/><line x1="-18.2" y1="-10" x2="-2.2" y2="10"/><line x1="-2.2" y1="-10" x2="-18.2" y2="10"/><line x1="-14.8" y1="-10" x2="1.2" y2="10"/><line x1="1.2" y1="-10" x2="-14.8" y2="10"/><line x1="-11.4" y1="-10" x2="4.6" y2="10"/><line x1="4.6" y1="-10" x2="-11.4" y2="10"/><line x1="-8.0" y1="-10" x2="8.0" y2="10"/><line x1="8.0" y1="-10" x2="-8.0" y2="10"/><line x1="-4.6" y1="-10" x2="11.4" y2="10"/><line x1="11.4" y1="-10" x2="-4.6" y2="10"/><line x1="-1.2" y1="-10" x2="14.8" y2="10"/><line x1="14.8" y1="-10" x2="-1.2" y2="10"/><line x1="2.2" y1="-10" x2="18.2" y2="10"/><line x1="18.2" y1="-10" x2="2.2" y2="10"/><line x1="5.6" y1="-10" x2="21.6" y2="10"/><line x1="21.6" y1="-10" x2="5.6" y2="10"/><line x1="9.0" y1="-10" x2="25.0" y2="10"/><line x1="25.0" y1="-10" x2="9.0" y2="10"/></g></g><g transform="translate(285.3 501.4) rotate(-12)"><ellipse rx="11.1" ry="7.2" fill="#F8D968" stroke="#DDAE3C" stroke-width="0.6"/><clipPath id="pc5"><ellipse rx="11.1" ry="7.2"/></clipPath><g clip-path="url(#pc5)" stroke="#E2B546" stroke-width="0.4"><line x1="-25.0" y1="-10" x2="-9.0" y2="10"/><line x1="-9.0" y1="-10" x2="-25.0" y2="10"/><line x1="-21.6" y1="-10" x2="-5.6" y2="10"/><line x1="-5.6" y1="-10" x2="-21.6" y2="10"/><line x1="-18.2" y1="-10" x2="-2.2" y2="10"/><line x1="-2.2" y1="-10" x2="-18.2" y2="10"/><line x1="-14.8" y1="-10" x2="1.2" y2="10"/><line x1="1.2" y1="-10" x2="-14.8" y2="10"/><line x1="-11.4" y1="-10" x2="4.6" y2="10"/><line x1="4.6" y1="-10" x2="-11.4" y2="10"/><line x1="-8.0" y1="-10" x2="8.0" y2="10"/><line x1="8.0" y1="-10" x2="-8.0" y2="10"/><line x1="-4.6" y1="-10" x2="11.4" y2="10"/><line x1="11.4" y1="-10" x2="-4.6" y2="10"/><line x1="-1.2" y1="-10" x2="14.8" y2="10"/><line x1="14.8" y1="-10" x2="-1.2" y2="10"/><line x1="2.2" y1="-10" x2="18.2" y2="10"/><line x1="18.2" y1="-10" x2="2.2" y2="10"/><line x1="5.6" y1="-10" x2="21.6" y2="10"/><line x1="21.6" y1="-10" x2="5.6" y2="10"/><line x1="9.0" y1="-10" x2="25.0" y2="10"/><line x1="25.0" y1="-10" x2="9.0" y2="10"/></g></g><g transform="translate(262.3 506.6) rotate(-5)"><ellipse rx="10.9" ry="6.6" fill="#F8D968" stroke="#DDAE3C" stroke-width="0.6"/><clipPath id="pc6"><ellipse rx="10.9" ry="6.6"/></clipPath><g clip-path="url(#pc6)" stroke="#E2B546" stroke-width="0.4"><line x1="-25.0" y1="-10" x2="-9.0" y2="10"/><line x1="-9.0" y1="-10" x2="-25.0" y2="10"/><line x1="-21.6" y1="-10" x2="-5.6" y2="10"/><line x1="-5.6" y1="-10" x2="-21.6" y2="10"/><line x1="-18.2" y1="-10" x2="-2.2" y2="10"/><line x1="-2.2" y1="-10" x2="-18.2" y2="10"/><line x1="-14.8" y1="-10" x2="1.2" y2="10"/><line x1="1.2" y1="-10" x2="-14.8" y2="10"/><line x1="-11.4" y1="-10" x2="4.6" y2="10"/><line x1="4.6" y1="-10" x2="-11.4" y2="10"/><line x1="-8.0" y1="-10" x2="8.0" y2="10"/><line x1="8.0" y1="-10" x2="-8.0" y2="10"/><line x1="-4.6" y1="-10" x2="11.4" y2="10"/><line x1="11.4" y1="-10" x2="-4.6" y2="10"/><line x1="-1.2" y1="-10" x2="14.8" y2="10"/><line x1="14.8" y1="-10" x2="-1.2" y2="10"/><line x1="2.2" y1="-10" x2="18.2" y2="10"/><line x1="18.2" y1="-10" x2="2.2" y2="10"/><line x1="5.6" y1="-10" x2="21.6" y2="10"/><line x1="21.6" y1="-10" x2="5.6" y2="10"/><line x1="9.0" y1="-10" x2="25.0" y2="10"/><line x1="25.0" y1="-10" x2="9.0" y2="10"/></g></g><g transform="translate(271.8 521.5) rotate(-25)"><ellipse rx="8.5" ry="10.6" fill="#F8D968" stroke="#DDAE3C" stroke-width="0.6"/><clipPath id="pc7"><ellipse rx="8.5" ry="10.6"/></clipPath><g clip-path="url(#pc7)" stroke="#E2B546" stroke-width="0.4"><line x1="-25.0" y1="-10" x2="-9.0" y2="10"/><line x1="-9.0" y1="-10" x2="-25.0" y2="10"/><line x1="-21.6" y1="-10" x2="-5.6" y2="10"/><line x1="-5.6" y1="-10" x2="-21.6" y2="10"/><line x1="-18.2" y1="-10" x2="-2.2" y2="10"/><line x1="-2.2" y1="-10" x2="-18.2" y2="10"/><line x1="-14.8" y1="-10" x2="1.2" y2="10"/><line x1="1.2" y1="-10" x2="-14.8" y2="10"/><line x1="-11.4" y1="-10" x2="4.6" y2="10"/><line x1="4.6" y1="-10" x2="-11.4" y2="10"/><line x1="-8.0" y1="-10" x2="8.0" y2="10"/><line x1="8.0" y1="-10" x2="-8.0" y2="10"/><line x1="-4.6" y1="-10" x2="11.4" y2="10"/><line x1="11.4" y1="-10" x2="-4.6" y2="10"/><line x1="-1.2" y1="-10" x2="14.8" y2="10"/><line x1="14.8" y1="-10" x2="-1.2" y2="10"/><line x1="2.2" y1="-10" x2="18.2" y2="10"/><line x1="18.2" y1="-10" x2="2.2" y2="10"/><line x1="5.6" y1="-10" x2="21.6" y2="10"/><line x1="21.6" y1="-10" x2="5.6" y2="10"/><line x1="9.0" y1="-10" x2="25.0" y2="10"/><line x1="25.0" y1="-10" x2="9.0" y2="10"/></g></g><g transform="translate(117 582) rotate(8) scale(0.6) translate(-533.5 -80.5)"><path d="M522.0,20.2 L535.9,16.7 L554.9,14.2 L571.3,21.8 L578.1,27.3 L586.5,47.1 L588.5,73.4 L580.4,84.2 L571.3,94.9 L570.8,108.8 L561.2,111.3 L554.9,121.4 L543.5,121.4 L530.8,129.0 L528.3,138.6 L514.4,141.7 L510.6,148.0 L503.0,146.7 L497.9,138.6 L487.8,141.7 L485.3,135.3 L481.5,129.0 L482.8,121.4 L479.0,116.4 L480.2,101.2 L481.5,87.3 L486.6,80.4 L488.3,68.3 L494.2,56.2 L494.9,41.7 L515.1,33.4Z" fill="#3B1A05"/><polyline points="557.1,73.6 556.4,93.6 550.7,112.1" fill="none" stroke="#574B0B" stroke-width="6.5" stroke-linejoin="round"/><polyline points="567.1,92.1 565.7,105.0" fill="none" stroke="#574B0B" stroke-width="7.0" stroke-linejoin="round"/><polyline points="496.4,62.1 498.6,70.7 500.7,78.6" fill="none" stroke="#574B0B" stroke-width="6.5" stroke-linejoin="round"/><polyline points="520.7,62.1 514.3,75.0 507.9,86.4" fill="none" stroke="#574B0B" stroke-width="6.5" stroke-linejoin="round"/><polyline points="540.0,72.1 531.4,83.6 523.6,95.0" fill="none" stroke="#574B0B" stroke-width="6.0" stroke-linejoin="round"/><polyline points="505.7,132.1 505.7,145.0" fill="none" stroke="#574B0B" stroke-width="7.0" stroke-linejoin="round"/><polyline points="499.3,111.4 491.4,120.0 485.0,125.7" fill="none" stroke="#574B0B" stroke-width="4.0" stroke-linejoin="round"/><polyline points="495.0,121.4 490.0,125.0" fill="none" stroke="#574B0B" stroke-width="5.0" stroke-linejoin="round"/><polyline points="575.7,77.9 580.0,80.7 582.9,85.0" fill="none" stroke="#5FA33A" stroke-width="2.0" stroke-linejoin="round"/><polygon points="511.9,35.0 527.4,28.8 535.5,26.2 535.3,25.5 526.9,27.0 510.9,32.2" fill="#fff"/><polygon points="489.2,60.7 507.5,51.9 519.4,46.4 519.2,45.9 506.8,50.1 487.9,57.8" fill="#fff"/><polygon points="483.0,86.7 499.0,84.4 510.5,74.4 520.5,62.1 520.1,61.7 509.5,73.3 498.1,82.1 482.7,83.3" fill="#fff"/><polygon points="483.7,85.4 497.5,83.3 507.9,74.6 507.6,74.2 496.8,81.6 483.4,82.3" fill="#fff"/><polygon points="475.4,105.0 490.3,100.1 497.9,95.5 497.8,95.1 489.7,98.5 474.6,102.1" fill="#fff"/><polygon points="475.4,123.7 490.4,119.0 498.7,111.2 498.4,110.8 489.6,117.3 474.6,120.6" fill="#fff"/><polygon points="478.2,138.6 493.2,134.6 499.4,126.3 499.1,126.0 492.5,133.1 477.5,135.7" fill="#fff"/><polygon points="496.1,149.7 498.7,136.7 501.4,127.4 500.9,127.2 497.0,136.2 493.0,148.9" fill="#fff"/><polygon points="514.4,139.7 516.6,122.5 519.6,113.7 519.0,113.4 514.3,121.8 510.2,138.9" fill="#fff"/><polygon points="529.6,134.8 527.6,122.2 529.4,112.2 528.9,112.1 525.3,122.1 525.6,135.2" fill="#fff"/><polygon points="542.6,126.6 543.1,112.4 548.8,96.8 548.3,96.6 541.2,111.9 539.1,126.3" fill="#fff"/><polygon points="559.7,113.8 560.7,102.3 560.8,97.2 560.3,97.1 558.8,102.0 556.3,113.3" fill="#fff"/><polygon points="573.2,101.6 573.4,93.6 572.9,93.5 570.8,101.2" fill="#fff"/><path d="M524.0,18.9 L515.7,31.4 L522.1,16.4Z" fill="#936034" stroke="#936034" stroke-width="0.4"/><path d="M524.0,18.9 L522.1,16.4 L532.1,19.3Z" fill="#895a31" stroke="#895a31" stroke-width="0.4"/><path d="M524.0,18.9 L532.1,19.3 L532.6,25.7Z" fill="#7f532d" stroke="#7f532d" stroke-width="0.4"/><path d="M524.0,18.9 L532.6,25.7 L515.7,31.4Z" fill="#84562f" stroke="#84562f" stroke-width="0.4"/><ellipse cx="524.0" cy="18.9" rx="2.9" ry="1.9" fill="#D39A60" transform="rotate(35 524.0 18.9)"/><path d="M539.7,14.7 L535.0,19.3 L540.0,12.9Z" fill="#986336" stroke="#986336" stroke-width="0.4"/><path d="M539.7,14.7 L540.0,12.9 L548.6,17.9Z" fill="#82552e" stroke="#82552e" stroke-width="0.4"/><path d="M539.7,14.7 L548.6,17.9 L549.3,20.0Z" fill="#7f532d" stroke="#7f532d" stroke-width="0.4"/><path d="M539.7,14.7 L549.3,20.0 L536.0,25.0Z" fill="#80542d" stroke="#80542d" stroke-width="0.4"/><path d="M539.7,14.7 L536.0,25.0 L535.0,19.3Z" fill="#8d5c32" stroke="#8d5c32" stroke-width="0.4"/><ellipse cx="539.7" cy="14.7" rx="2.9" ry="1.9" fill="#D39A60" transform="rotate(35 539.7 14.7)"/><path d="M555.4,12.9 L549.3,17.1 L555.0,10.7Z" fill="#9c6637" stroke="#9c6637" stroke-width="0.4"/><path d="M555.4,12.9 L555.0,10.7 L563.6,19.3Z" fill="#7f532d" stroke="#7f532d" stroke-width="0.4"/><path d="M555.4,12.9 L563.6,19.3 L567.9,21.4Z" fill="#7e532d" stroke="#7e532d" stroke-width="0.4"/><path d="M555.4,12.9 L567.9,21.4 L550.7,19.6Z" fill="#7f532d" stroke="#7f532d" stroke-width="0.4"/><path d="M555.4,12.9 L550.7,19.6 L549.3,17.1Z" fill="#936034" stroke="#936034" stroke-width="0.4"/><ellipse cx="555.4" cy="12.9" rx="2.9" ry="1.9" fill="#D39A60" transform="rotate(35 555.4 12.9)"/><path d="M579.3,26.4 L568.6,21.0 L579.3,23.6Z" fill="#a76e3b" stroke="#a76e3b" stroke-width="0.4"/><path d="M579.3,26.4 L579.3,23.6 L580.3,33.6Z" fill="#81552e" stroke="#81552e" stroke-width="0.4"/><path d="M579.3,26.4 L580.3,33.6 L572.1,35.3Z" fill="#8a5b31" stroke="#8a5b31" stroke-width="0.4"/><path d="M579.3,26.4 L572.1,35.3 L568.6,21.0Z" fill="#9e6838" stroke="#9e6838" stroke-width="0.4"/><ellipse cx="579.3" cy="26.4" rx="2.9" ry="1.9" fill="#D39A60" transform="rotate(35 579.3 26.4)"/><path d="M526.4,35.7 L517.1,31.4 L532.9,26.4Z" fill="#a46c3a" stroke="#a46c3a" stroke-width="0.4"/><path d="M526.4,35.7 L532.9,26.4 L535.0,40.7Z" fill="#895930" stroke="#895930" stroke-width="0.4"/><path d="M526.4,35.7 L535.0,40.7 L519.3,47.9Z" fill="#83562e" stroke="#83562e" stroke-width="0.4"/><path d="M526.4,35.7 L519.3,47.9 L517.1,31.4Z" fill="#9a6536" stroke="#9a6536" stroke-width="0.4"/><ellipse cx="526.4" cy="35.7" rx="2.9" ry="1.9" fill="#D39A60" transform="rotate(35 526.4 35.7)"/><path d="M545.7,28.6 L536.4,25.7 L550.0,20.4Z" fill="#a66d3b" stroke="#a66d3b" stroke-width="0.4"/><path d="M545.7,28.6 L550.0,20.4 L555.0,36.4Z" fill="#84572f" stroke="#84572f" stroke-width="0.4"/><path d="M545.7,28.6 L555.0,36.4 L538.6,41.4Z" fill="#83562e" stroke="#83562e" stroke-width="0.4"/><path d="M545.7,28.6 L538.6,41.4 L536.4,25.7Z" fill="#986336" stroke="#986336" stroke-width="0.4"/><ellipse cx="545.7" cy="28.6" rx="2.9" ry="1.9" fill="#D39A60" transform="rotate(35 545.7 28.6)"/><path d="M562.1,25.7 L551.4,20.4 L567.1,22.1Z" fill="#a76d3b" stroke="#a76d3b" stroke-width="0.4"/><path d="M562.1,25.7 L567.1,22.1 L571.4,35.0Z" fill="#80542d" stroke="#80542d" stroke-width="0.4"/><path d="M562.1,25.7 L571.4,35.0 L555.7,37.1Z" fill="#82552e" stroke="#82552e" stroke-width="0.4"/><path d="M562.1,25.7 L555.7,37.1 L551.4,20.4Z" fill="#9c6637" stroke="#9c6637" stroke-width="0.4"/><ellipse cx="562.1" cy="25.7" rx="2.9" ry="1.9" fill="#D39A60" transform="rotate(35 562.1 25.7)"/><path d="M528.6,56.4 L519.3,52.9 L536.4,45.0Z" fill="#a36b3a" stroke="#a36b3a" stroke-width="0.4"/><path d="M528.6,56.4 L536.4,45.0 L540.7,62.9Z" fill="#885930" stroke="#885930" stroke-width="0.4"/><path d="M528.6,56.4 L540.7,62.9 L522.1,71.4Z" fill="#81542e" stroke="#81542e" stroke-width="0.4"/><path d="M528.6,56.4 L522.1,71.4 L519.3,52.9Z" fill="#966235" stroke="#966235" stroke-width="0.4"/><ellipse cx="528.6" cy="56.4" rx="2.9" ry="1.9" fill="#D39A60" transform="rotate(35 528.6 56.4)"/><path d="M547.9,47.9 L539.3,42.1 L555.0,37.9Z" fill="#a36b3a" stroke="#a36b3a" stroke-width="0.4"/><path d="M547.9,47.9 L555.0,37.9 L555.7,59.3Z" fill="#83562e" stroke="#83562e" stroke-width="0.4"/><path d="M547.9,47.9 L555.7,59.3 L541.4,63.6Z" fill="#83562e" stroke="#83562e" stroke-width="0.4"/><path d="M547.9,47.9 L541.4,63.6 L539.3,42.1Z" fill="#976335" stroke="#976335" stroke-width="0.4"/><ellipse cx="547.9" cy="47.9" rx="2.9" ry="1.9" fill="#D39A60" transform="rotate(35 547.9 47.9)"/><path d="M565.0,43.6 L556.0,37.9 L572.1,35.7Z" fill="#a36b3a" stroke="#a36b3a" stroke-width="0.4"/><path d="M565.0,43.6 L572.1,35.7 L574.3,54.3Z" fill="#82552e" stroke="#82552e" stroke-width="0.4"/><path d="M565.0,43.6 L574.3,54.3 L557.1,58.6Z" fill="#83562e" stroke="#83562e" stroke-width="0.4"/><path d="M565.0,43.6 L557.1,58.6 L556.0,37.9Z" fill="#986436" stroke="#986436" stroke-width="0.4"/><ellipse cx="565.0" cy="43.6" rx="2.9" ry="1.9" fill="#D39A60" transform="rotate(35 565.0 43.6)"/><path d="M580.7,43.7 L572.9,36.4 L580.7,34.3Z" fill="#a66d3b" stroke="#a66d3b" stroke-width="0.4"/><path d="M580.7,43.7 L580.7,34.3 L588.6,42.9Z" fill="#956235" stroke="#956235" stroke-width="0.4"/><path d="M580.7,43.7 L588.6,42.9 L586.4,50.7Z" fill="#7f532d" stroke="#7f532d" stroke-width="0.4"/><path d="M580.7,43.7 L586.4,50.7 L575.0,54.3Z" fill="#84562f" stroke="#84562f" stroke-width="0.4"/><path d="M580.7,43.7 L575.0,54.3 L572.9,36.4Z" fill="#9e6738" stroke="#9e6738" stroke-width="0.4"/><path d="M546.4,70.0 L539.3,65.0 L555.0,60.7Z" fill="#a06939" stroke="#a06939" stroke-width="0.4"/><path d="M546.4,70.0 L555.0,60.7 L555.7,72.1Z" fill="#8b5b31" stroke="#8b5b31" stroke-width="0.4"/><path d="M546.4,70.0 L555.7,72.1 L547.1,77.9Z" fill="#7e522d" stroke="#7e522d" stroke-width="0.4"/><path d="M546.4,70.0 L547.1,77.9 L540.7,75.0Z" fill="#8a5b31" stroke="#8a5b31" stroke-width="0.4"/><path d="M546.4,70.0 L540.7,75.0 L539.3,65.0Z" fill="#a16a39" stroke="#a16a39" stroke-width="0.4"/><ellipse cx="546.4" cy="70.0" rx="2.9" ry="1.9" fill="#D39A60" transform="rotate(35 546.4 70.0)"/><path d="M567.1,67.1 L557.9,60.0 L575.0,55.7Z" fill="#a26a3a" stroke="#a26a3a" stroke-width="0.4"/><path d="M567.1,67.1 L575.0,55.7 L576.4,67.9Z" fill="#8e5d32" stroke="#8e5d32" stroke-width="0.4"/><path d="M567.1,67.1 L576.4,67.9 L571.4,76.4Z" fill="#7e532d" stroke="#7e532d" stroke-width="0.4"/><path d="M567.1,67.1 L571.4,76.4 L559.3,70.7Z" fill="#885930" stroke="#885930" stroke-width="0.4"/><path d="M567.1,67.1 L559.3,70.7 L557.9,60.0Z" fill="#a46c3a" stroke="#a46c3a" stroke-width="0.4"/><ellipse cx="567.1" cy="67.1" rx="2.9" ry="1.9" fill="#D39A60" transform="rotate(35 567.1 67.1)"/><path d="M583.0,64.6 L575.7,55.7 L587.1,52.1Z" fill="#a36b3a" stroke="#a36b3a" stroke-width="0.4"/><path d="M583.0,64.6 L587.1,52.1 L590.7,67.1Z" fill="#915f33" stroke="#915f33" stroke-width="0.4"/><path d="M583.0,64.6 L590.7,67.1 L584.3,75.7Z" fill="#7e532d" stroke="#7e532d" stroke-width="0.4"/><path d="M583.0,64.6 L584.3,75.7 L577.1,72.1Z" fill="#885930" stroke="#885930" stroke-width="0.4"/><path d="M583.0,64.6 L577.1,72.1 L575.7,55.7Z" fill="#a36b3a" stroke="#a36b3a" stroke-width="0.4"/><path d="M497.9,43.6 L495.0,41.4 L506.4,36.4Z" fill="#986336" stroke="#986336" stroke-width="0.4"/><path d="M497.9,43.6 L506.4,36.4 L507.9,50.7Z" fill="#84562f" stroke="#84562f" stroke-width="0.4"/><path d="M497.9,43.6 L507.9,50.7 L492.9,57.1Z" fill="#81542e" stroke="#81542e" stroke-width="0.4"/><path d="M497.9,43.6 L492.9,57.1 L495.0,41.4Z" fill="#8f5e33" stroke="#8f5e33" stroke-width="0.4"/><ellipse cx="497.9" cy="43.6" rx="2.9" ry="1.9" fill="#D39A60" transform="rotate(35 497.9 43.6)"/><path d="M507.9,62.9 L500.7,61.4 L513.6,52.9Z" fill="#a36b3a" stroke="#a36b3a" stroke-width="0.4"/><path d="M507.9,62.9 L513.6,52.9 L515.7,67.9Z" fill="#8a5a31" stroke="#8a5a31" stroke-width="0.4"/><path d="M507.9,62.9 L515.7,67.9 L503.6,75.7Z" fill="#81552e" stroke="#81552e" stroke-width="0.4"/><path d="M507.9,62.9 L503.6,75.7 L500.7,61.4Z" fill="#936034" stroke="#936034" stroke-width="0.4"/><ellipse cx="507.9" cy="62.9" rx="2.9" ry="1.9" fill="#D39A60" transform="rotate(35 507.9 62.9)"/><path d="M487.9,73.3 L485.0,71.4 L492.9,65.0Z" fill="#9e6838" stroke="#9e6838" stroke-width="0.4"/><path d="M487.9,73.3 L492.9,65.0 L495.7,76.4Z" fill="#8b5b31" stroke="#8b5b31" stroke-width="0.4"/><path d="M487.9,73.3 L495.7,76.4 L487.9,81.4Z" fill="#7e532d" stroke="#7e532d" stroke-width="0.4"/><path d="M487.9,73.3 L487.9,81.4 L485.0,71.4Z" fill="#8b5b31" stroke="#8b5b31" stroke-width="0.4"/><ellipse cx="487.9" cy="73.3" rx="2.9" ry="1.9" fill="#D39A60" transform="rotate(35 487.9 73.3)"/><path d="M482.1,92.1 L478.6,90.7 L487.9,85.0Z" fill="#9d6738" stroke="#9d6738" stroke-width="0.4"/><path d="M482.1,92.1 L487.9,85.0 L489.3,97.1Z" fill="#875830" stroke="#875830" stroke-width="0.4"/><path d="M482.1,92.1 L489.3,97.1 L478.6,101.9Z" fill="#81542e" stroke="#81542e" stroke-width="0.4"/><path d="M482.1,92.1 L478.6,101.9 L478.6,90.7Z" fill="#915f33" stroke="#915f33" stroke-width="0.4"/><ellipse cx="482.1" cy="92.1" rx="2.9" ry="1.9" fill="#D39A60" transform="rotate(35 482.1 92.1)"/><path d="M503.6,89.3 L497.1,86.4 L508.6,80.7Z" fill="#a36b3a" stroke="#a36b3a" stroke-width="0.4"/><path d="M503.6,89.3 L508.6,80.7 L510.7,94.3Z" fill="#895a30" stroke="#895a30" stroke-width="0.4"/><path d="M503.6,89.3 L510.7,94.3 L498.6,98.6Z" fill="#82552e" stroke="#82552e" stroke-width="0.4"/><path d="M503.6,89.3 L498.6,98.6 L497.1,86.4Z" fill="#986436" stroke="#986436" stroke-width="0.4"/><ellipse cx="503.6" cy="89.3" rx="2.9" ry="1.9" fill="#D39A60" transform="rotate(35 503.6 89.3)"/><path d="M526.4,80.0 L517.1,80.0 L532.9,71.4Z" fill="#a56c3b" stroke="#a56c3b" stroke-width="0.4"/><path d="M526.4,80.0 L532.9,71.4 L534.3,85.0Z" fill="#885930" stroke="#885930" stroke-width="0.4"/><path d="M526.4,80.0 L534.3,85.0 L519.3,91.4Z" fill="#83562e" stroke="#83562e" stroke-width="0.4"/><path d="M526.4,80.0 L519.3,91.4 L517.1,80.0Z" fill="#966335" stroke="#966335" stroke-width="0.4"/><ellipse cx="526.4" cy="80.0" rx="2.9" ry="1.9" fill="#D39A60" transform="rotate(35 526.4 80.0)"/><path d="M545.0,92.1 L536.4,91.4 L550.0,86.4Z" fill="#a76d3b" stroke="#a76d3b" stroke-width="0.4"/><path d="M545.0,92.1 L550.0,86.4 L552.9,97.9Z" fill="#84562f" stroke="#84562f" stroke-width="0.4"/><path d="M545.0,92.1 L552.9,97.9 L537.9,102.1Z" fill="#83562e" stroke="#83562e" stroke-width="0.4"/><path d="M545.0,92.1 L537.9,102.1 L536.4,91.4Z" fill="#986336" stroke="#986336" stroke-width="0.4"/><ellipse cx="545.0" cy="92.1" rx="2.9" ry="1.9" fill="#D39A60" transform="rotate(35 545.0 92.1)"/><path d="M567.1,89.3 L558.6,83.6 L572.9,81.4Z" fill="#a46c3a" stroke="#a46c3a" stroke-width="0.4"/><path d="M567.1,89.3 L572.9,81.4 L570.0,95.7Z" fill="#875830" stroke="#875830" stroke-width="0.4"/><path d="M567.1,89.3 L570.0,95.7 L559.3,97.1Z" fill="#8a5a31" stroke="#8a5a31" stroke-width="0.4"/><path d="M567.1,89.3 L559.3,97.1 L558.6,83.6Z" fill="#9f6838" stroke="#9f6838" stroke-width="0.4"/><ellipse cx="567.1" cy="89.3" rx="2.9" ry="1.9" fill="#D39A60" transform="rotate(35 567.1 89.3)"/><path d="M578.2,87.1 L575.0,84.3 L582.1,82.9Z" fill="#a06939" stroke="#a06939" stroke-width="0.4"/><path d="M578.2,87.1 L582.1,82.9 L580.7,90.0Z" fill="#885930" stroke="#885930" stroke-width="0.4"/><path d="M578.2,87.1 L580.7,90.0 L575.0,91.4Z" fill="#86572f" stroke="#86572f" stroke-width="0.4"/><path d="M578.2,87.1 L575.0,91.4 L575.0,84.3Z" fill="#9e6738" stroke="#9e6738" stroke-width="0.4"/><path d="M482.1,112.9 L477.1,109.3 L489.3,104.3Z" fill="#9f6838" stroke="#9f6838" stroke-width="0.4"/><path d="M482.1,112.9 L489.3,104.3 L490.0,115.0Z" fill="#8b5b31" stroke="#8b5b31" stroke-width="0.4"/><path d="M482.1,112.9 L490.0,115.0 L477.9,119.3Z" fill="#7f532d" stroke="#7f532d" stroke-width="0.4"/><path d="M482.1,112.9 L477.9,119.3 L477.1,109.3Z" fill="#9c6637" stroke="#9c6637" stroke-width="0.4"/><ellipse cx="482.1" cy="112.9" rx="2.9" ry="1.9" fill="#D39A60" transform="rotate(35 482.1 112.9)"/><path d="M503.6,112.1 L497.1,107.1 L509.3,102.1Z" fill="#a26a39" stroke="#a26a39" stroke-width="0.4"/><path d="M503.6,112.1 L509.3,102.1 L511.4,115.0Z" fill="#8d5c32" stroke="#8d5c32" stroke-width="0.4"/><path d="M503.6,112.1 L511.4,115.0 L498.6,120.0Z" fill="#81542e" stroke="#81542e" stroke-width="0.4"/><path d="M503.6,112.1 L498.6,120.0 L497.1,107.1Z" fill="#9d6738" stroke="#9d6738" stroke-width="0.4"/><ellipse cx="503.6" cy="112.1" rx="2.9" ry="1.9" fill="#D39A60" transform="rotate(35 503.6 112.1)"/><path d="M526.4,105.7 L517.9,100.7 L532.9,96.4Z" fill="#a36b3a" stroke="#a36b3a" stroke-width="0.4"/><path d="M526.4,105.7 L532.9,96.4 L532.1,109.3Z" fill="#8c5b31" stroke="#8c5b31" stroke-width="0.4"/><path d="M526.4,105.7 L532.1,109.3 L519.3,114.3Z" fill="#86582f" stroke="#86582f" stroke-width="0.4"/><path d="M526.4,105.7 L519.3,114.3 L517.9,100.7Z" fill="#9e6738" stroke="#9e6738" stroke-width="0.4"/><ellipse cx="526.4" cy="105.7" rx="2.9" ry="1.9" fill="#D39A60" transform="rotate(35 526.4 105.7)"/><path d="M483.6,129.6 L479.3,125.7 L491.4,122.1Z" fill="#9c6637" stroke="#9c6637" stroke-width="0.4"/><path d="M483.6,129.6 L491.4,122.1 L491.4,131.4Z" fill="#8a5a31" stroke="#8a5a31" stroke-width="0.4"/><path d="M483.6,129.6 L491.4,131.4 L480.7,134.3Z" fill="#7e532d" stroke="#7e532d" stroke-width="0.4"/><path d="M483.6,129.6 L480.7,134.3 L479.3,125.7Z" fill="#a06939" stroke="#a06939" stroke-width="0.4"/><ellipse cx="483.6" cy="129.6" rx="2.9" ry="1.9" fill="#D39A60" transform="rotate(35 483.6 129.6)"/><path d="M505.0,131.0 L500.7,125.0 L511.4,121.4Z" fill="#9f6838" stroke="#9f6838" stroke-width="0.4"/><path d="M505.0,131.0 L511.4,121.4 L511.4,133.6Z" fill="#8d5c32" stroke="#8d5c32" stroke-width="0.4"/><path d="M505.0,131.0 L511.4,133.6 L502.9,136.4Z" fill="#7f532d" stroke="#7f532d" stroke-width="0.4"/><path d="M505.0,131.0 L502.9,136.4 L500.7,125.0Z" fill="#a36b3a" stroke="#a36b3a" stroke-width="0.4"/><ellipse cx="505.0" cy="131.0" rx="2.9" ry="1.9" fill="#D39A60" transform="rotate(35 505.0 131.0)"/><path d="M532.1,127.1 L528.6,120.7 L540.0,115.0Z" fill="#9e6738" stroke="#9e6738" stroke-width="0.4"/><path d="M532.1,127.1 L540.0,115.0 L540.0,127.9Z" fill="#8f5e33" stroke="#8f5e33" stroke-width="0.4"/><path d="M532.1,127.1 L540.0,127.9 L529.3,132.1Z" fill="#7e522d" stroke="#7e522d" stroke-width="0.4"/><path d="M532.1,127.1 L529.3,132.1 L528.6,120.7Z" fill="#a46c3a" stroke="#a46c3a" stroke-width="0.4"/><ellipse cx="532.1" cy="127.1" rx="2.9" ry="1.9" fill="#D39A60" transform="rotate(35 532.1 127.1)"/><path d="M552.6,119.3 L545.0,110.7 L559.3,107.9Z" fill="#a26a39" stroke="#a26a39" stroke-width="0.4"/><path d="M552.6,119.3 L559.3,107.9 L555.7,125.7Z" fill="#8c5c32" stroke="#8c5c32" stroke-width="0.4"/><path d="M552.6,119.3 L555.7,125.7 L541.4,122.9Z" fill="#905f33" stroke="#905f33" stroke-width="0.4"/><path d="M552.6,119.3 L541.4,122.9 L545.0,110.7Z" fill="#a56c3a" stroke="#a56c3a" stroke-width="0.4"/><ellipse cx="552.6" cy="119.3" rx="2.9" ry="1.9" fill="#D39A60" transform="rotate(35 552.6 119.3)"/><path d="M565.9,107.7 L561.4,102.1 L572.1,101.4Z" fill="#9f6838" stroke="#9f6838" stroke-width="0.4"/><path d="M565.9,107.7 L572.1,101.4 L570.0,112.9Z" fill="#86572f" stroke="#86572f" stroke-width="0.4"/><path d="M565.9,107.7 L570.0,112.9 L560.0,114.3Z" fill="#865830" stroke="#865830" stroke-width="0.4"/><path d="M565.9,107.7 L560.0,114.3 L561.4,102.1Z" fill="#a06939" stroke="#a06939" stroke-width="0.4"/><path d="M489.3,142.9 L483.6,139.3 L495.0,136.4Z" fill="#a16a39" stroke="#a16a39" stroke-width="0.4"/><path d="M489.3,142.9 L495.0,136.4 L494.3,144.3Z" fill="#8c5b31" stroke="#8c5b31" stroke-width="0.4"/><path d="M489.3,142.9 L494.3,144.3 L487.9,145.7Z" fill="#7e532d" stroke="#7e532d" stroke-width="0.4"/><path d="M489.3,142.9 L487.9,145.7 L483.6,139.3Z" fill="#a36b3a" stroke="#a36b3a" stroke-width="0.4"/><ellipse cx="489.3" cy="142.9" rx="2.9" ry="1.9" fill="#D39A60" transform="rotate(35 489.3 142.9)"/><path d="M505.0,147.1 L500.7,142.9 L511.4,140.7Z" fill="#9e6838" stroke="#9e6838" stroke-width="0.4"/><path d="M505.0,147.1 L511.4,140.7 L509.3,150.0Z" fill="#895a31" stroke="#895a31" stroke-width="0.4"/><path d="M505.0,147.1 L509.3,150.0 L500.7,150.4Z" fill="#84562f" stroke="#84562f" stroke-width="0.4"/><path d="M505.0,147.1 L500.7,150.4 L500.7,142.9Z" fill="#a36b3a" stroke="#a36b3a" stroke-width="0.4"/><ellipse cx="505.0" cy="147.1" rx="2.9" ry="1.9" fill="#D39A60" transform="rotate(35 505.0 147.1)"/><path d="M522.5,140.7 L515.0,143.6 L517.1,137.9Z" fill="#a16a39" stroke="#a16a39" stroke-width="0.4"/><path d="M522.5,140.7 L517.1,137.9 L531.4,136.4Z" fill="#996436" stroke="#996436" stroke-width="0.4"/><path d="M522.5,140.7 L531.4,136.4 L526.4,145.0Z" fill="#84562f" stroke="#84562f" stroke-width="0.4"/><path d="M522.5,140.7 L526.4,145.0 L515.0,143.6Z" fill="#8c5c32" stroke="#8c5c32" stroke-width="0.4"/></g></g>
<line x1="191.6" y1="176.8" x2="234.4" y2="136.1" stroke="#111" stroke-width="1.4"/>
<polygon points="255.8,115.8 239.4,144.3 226.5,130.7" fill="#1a1a1a"/>
<line x1="353.0" y1="77.1" x2="440.6" y2="77.2" stroke="#111" stroke-width="1.4"/>
<polygon points="470.1,77.2 438.6,86.6 438.6,67.8" fill="#1a1a1a"/>
<line x1="598.5" y1="83.5" x2="679.6" y2="102.6" stroke="#111" stroke-width="1.4"/>
<polygon points="708.3,109.3 675.5,111.2 679.8,92.9" fill="#1a1a1a"/>
<line x1="752.4" y1="131.9" x2="807.7" y2="189.9" stroke="#111" stroke-width="1.4"/>
<polygon points="828.1,211.3 799.6,195.0 813.2,182.0" fill="#1a1a1a"/>
<line x1="845.8" y1="265.4" x2="845.8" y2="320.5" stroke="#111" stroke-width="1.4"/>
<polygon points="845.8,350.0 836.4,318.5 855.2,318.5" fill="#1a1a1a"/>
<line x1="801.5" y1="421.5" x2="706.0" y2="465.3" stroke="#111" stroke-width="1.4"/>
<polygon points="679.2,477.6 703.9,455.9 711.8,473.0" fill="#1a1a1a"/>
<line x1="518.0" y1="569.0" x2="331.2" y2="569.0" stroke="#111" stroke-width="1.4"/>
<polygon points="301.7,569.0 333.2,559.6 333.2,578.4" fill="#1a1a1a"/>
<line x1="213.8" y1="374.3" x2="184.2" y2="308.1" stroke="#111" stroke-width="1.4"/>
<polygon points="172.1,281.2 193.6,306.1 176.4,313.8" fill="#1a1a1a"/>
<line x1="244.7" y1="344.9" x2="244.7" y2="384.5" stroke="#111" stroke-width="1.4"/>
<line x1="277.1" y1="329.9" x2="351.5" y2="354.8" stroke="#111" stroke-width="1.4"/>
<line x1="349.1" y1="386.5" x2="305.6" y2="465.6" stroke="#111" stroke-width="1.4"/>
<text x="219.4" y="14.0" textLength="204.3" lengthAdjust="spacingAndGlyphs" font-size="19.5">Опылённая шишечка</text>
<text x="443.1" y="175.6" textLength="138.4" lengthAdjust="spacingAndGlyphs" font-size="19">Зрелая шишка</text>
<text x="682.5" y="17.9" textLength="181.3" lengthAdjust="spacingAndGlyphs" font-size="19">Семя с крылышком</text>
<text x="865.2" y="242.9" textLength="47.0" lengthAdjust="spacingAndGlyphs" font-size="19">Семя</text>
<text x="762.0" y="530.8" textLength="99.9" lengthAdjust="spacingAndGlyphs" font-size="19">Проросток</text>
<text x="15.6" y="247.5" textLength="106.9" lengthAdjust="spacingAndGlyphs" font-size="19">Шишечки с</text>
<text x="0.5" y="270.0" textLength="141.2" lengthAdjust="spacingAndGlyphs" font-size="19">семязачатками</text>
<text x="257.4" y="281.6" textLength="72.3" lengthAdjust="spacingAndGlyphs" font-size="19">Пыльца</text>
<text x="378.0" y="378.6" textLength="175.2" lengthAdjust="spacingAndGlyphs" font-size="19">Пыльцевой мешок</text>
<text x="328.6" y="445.8" textLength="92.9" lengthAdjust="spacingAndGlyphs" font-size="19">Шишечки</text>
<text x="324.6" y="466.8" textLength="95.7" lengthAdjust="spacingAndGlyphs" font-size="19">с пыльцой</text>
</svg>
</body></html>
